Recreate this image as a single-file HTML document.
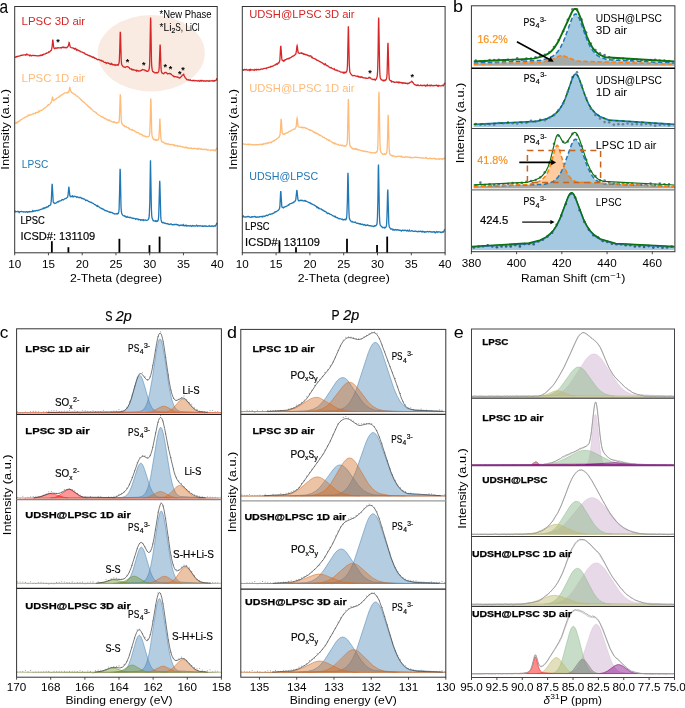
<!DOCTYPE html>
<html><head><meta charset="utf-8"><style>
html,body{margin:0;padding:0;background:#fff;}
svg{display:block;font-family:"Liberation Sans",sans-serif;will-change:transform;}
</style></head><body>
<svg width="685" height="708" viewBox="0 0 685 708">
<rect width="685" height="708" fill="#fff"/>
<ellipse cx="151.2" cy="53.2" rx="53.6" ry="38.2" fill="#f9eae2"/>
<path d="M14.7,57.2 15.2,57.3 15.7,57 16.2,56.5 16.7,56.9 17.2,56.7 17.7,56.3 18.2,56.4 19.7,55.9 20.2,55.9 20.7,55.4 21.2,55.4 21.7,55.2 22.2,55.4 23.7,54.8 24.7,54.9 25.2,54.8 25.7,55.2 26.2,55 26.7,54.1 27.2,54.3 27.7,54.8 28.2,54.8 29.2,55.2 29.7,55.7 30.2,55 30.7,55.2 31.2,55.9 31.7,55.6 32.2,55.6 33.2,55.2 33.7,55.7 34.2,55.7 34.7,55.4 35.7,55.7 36.2,55.6 36.7,55.8 37.7,55.8 38.2,55.7 38.7,55.9 39.2,55.9 40.2,55.3 40.7,55.6 41.2,55.2 41.7,55.4 42.2,54.8 42.7,55.1 43.7,54.2 44.7,54.2 45.2,54 45.7,53.5 46.2,53.2 46.7,53.3 47.2,52.9 48.2,52.7 48.7,51.8 49.2,52 49.7,51.9 50.7,50.6 51.2,50.5 51.7,49.2 52.2,46 52.7,40.1 52.8,39.7 52.9,40.2 53.7,47.2 54,48.2 54.7,48.7 55.2,48.5 55.7,47.9 56.2,47.9 56.7,48.3 57.2,48.2 57.7,47.7 59.7,47.9 60.7,47.6 61.2,47.6 61.7,47.9 62.2,47.1 62.7,47.5 63.2,47.6 63.7,47.2 64.2,47.6 64.7,47.4 65.2,47.7 65.7,47.5 66.7,47.7 67.9,46.6 68.5,45.3 69.1,42.5 69.3,42.7 70.2,46.9 71.2,47.7 72.7,47.8 73.2,48.2 73.7,48.1 74.2,48.7 74.7,49.1 75.2,48.5 75.7,48.5 76.2,49.6 76.7,50.3 77.2,49.7 77.7,49.8 78.2,50.5 78.7,50.4 79.7,51 80.2,51.5 80.7,51.5 81.2,51.9 82.2,52.1 82.7,52.5 83.2,52.6 83.7,53 84.2,53 84.7,53.3 85.2,54.1 85.7,54.1 86.2,54.3 86.7,54.6 87.2,54.7 88.2,55.3 88.7,55.5 89.2,55.4 89.7,56.1 90.2,56 90.7,56.1 91.7,56.7 92.2,57.4 92.7,57 93.2,57.4 93.7,57.1 94.2,57.8 94.7,58.3 95.2,58.2 95.7,58.3 96.7,59.1 97.2,59.3 97.7,59.8 98.2,59.6 98.7,59.5 101.2,60.7 101.7,60.5 102.2,61.3 102.7,61.2 103.2,61.2 103.7,61.9 104.2,62.3 105.7,62.3 106.2,63.4 107.2,62.7 108.2,63.3 108.7,63.1 109.2,63.7 109.7,63.7 110.2,64.3 110.7,64.3 111.2,63.5 111.7,64.2 112.2,64 112.7,64.8 113.2,64.7 113.7,64.8 114.2,64.6 114.7,65.3 115.2,65.5 115.7,64.8 116.2,65.1 116.7,64.9 117.2,65 117.7,64.7 118.2,65.2 119,63.3 119.3,61.2 119.7,50.9 120.2,32.7 120.3,31.8 120.5,33.9 121.2,59.3 121.5,63.3 121.8,64.8 123.2,66.7 124.2,67.1 124.7,67.2 125.2,67.4 125.7,67 126.7,66.7 127.7,66.6 128.2,67.2 128.7,67.2 129.2,67.7 129.7,68.5 130.2,68.9 130.7,68.9 131.2,68.8 131.7,69.6 132.2,69.7 132.7,69.4 133.2,70 133.7,69.8 134.2,69.8 134.7,70.2 135.7,70.5 136.2,70.2 136.7,71.1 137.2,70.6 137.7,70.5 138.2,71 138.7,70.9 139.2,71.1 139.7,70.9 140.7,70.8 141.2,70.3 141.7,70.4 142.2,69.8 142.7,69.5 143.7,69.9 144.2,69.9 144.7,70 145.2,70.7 145.7,70.5 146.7,71.3 147.2,71.1 147.8,71.3 148.7,70.7 149.3,68.3 149.6,64.6 150,48.1 150.5,20.9 150.6,17.5 150.8,20.8 151.5,61.5 151.8,67.2 152.4,70.7 152.7,71.5 153.3,71.8 153.7,71.7 154.2,72.5 154.7,72.8 155.2,72.6 156.2,72.9 156.7,72.6 157.2,72.9 158,72.5 158.6,71.5 158.9,70.4 159.2,67.4 160,46.1 160.1,44.6 160.3,46.4 161,67.9 161.3,71.2 161.8,72.7 162.2,73.2 162.7,73.2 163.2,73.7 163.7,73.8 164.2,73.1 164.7,72.7 165.7,72.5 166.2,72.6 166.7,73.1 167.2,73.3 167.7,73.9 168.2,73.7 169.2,73.7 169.7,73.4 170.2,73.9 170.7,73.7 171.2,74.1 172.2,75.3 172.7,75.5 173.2,76.1 173.7,76 174.2,76.9 174.7,76.7 175.7,76.7 176.7,77.1 177.2,77 177.7,77.2 178.2,77.5 178.7,77.5 179.2,78 179.7,78.1 180.7,77.4 181.2,76.5 181.7,76.2 182.2,75.3 182.7,74.9 183.2,75 183.7,74.4 184.2,75.8 184.7,76.5 185.2,77.9 185.7,78.2 186.7,79.5 187.2,79.8 188.2,79.7 188.7,79.8 189.2,80.3 189.7,80.1 190.2,79.8 190.7,80.5 191.7,80.6 192.2,80.4 192.7,80.7 193.2,80.3 193.7,80.7 194.2,80.5 194.7,80.8 195.2,80.9 195.7,80.5 196.7,80.8 197.2,81.1 197.7,80.9 198.2,80.5 198.7,80.9 199.2,81 199.7,81.3 200.2,80.4 200.7,80.7 201.2,81.1 201.7,80.5 202.2,80.5 202.7,81 203.2,81.1 203.7,80.7 204.2,81 204.7,80.9 205.2,81.2 205.7,80.9 206.2,81.1 206.7,80.7 207.7,80.9 208.2,81.2 208.7,81.1 209.2,80.7 209.7,81.1 210.2,81.1 210.7,80.9 211.7,80.8 212.2,80.5 212.7,81 213.2,81 213.7,80.8 214.2,81.1 214.7,80.6 215.2,80.8 215.7,80.3 216.2,80.2 216.7,78.7 217.2,78.6" fill="none" stroke="#d62728" stroke-width="1.3"/>
<path d="M14.7,123.7 15.7,123 16.2,122.4 16.7,123.1 17.2,122.7 17.7,122 18.2,122 19.2,121 19.7,121 20.2,120.3 21.2,119.5 21.7,119.4 22.2,119 22.7,118.8 23.2,118.2 23.7,118 24.2,117.5 24.7,117.7 25.2,117.3 26.2,116.8 26.7,116.2 27.2,116.4 27.7,116.5 28.2,115.3 28.7,115 29.2,115 29.7,115.3 30.2,115 30.7,115.1 31.7,114.5 32.7,114 33.2,114.1 33.7,113.4 34.7,113.4 35.2,113.6 35.7,112.8 36.2,112.4 36.7,112.4 37.2,112.6 37.7,112.1 38.2,112.2 38.7,111.2 39.2,111.7 39.7,111.4 40.2,110.5 41.2,110.6 41.7,110.1 42.7,110 43.2,109.2 44.2,108.2 44.7,108.2 45.7,107.2 46.7,106.6 47.2,105.8 48.2,104.6 48.7,105.1 49.2,104.5 49.7,104.3 50.7,102.8 51.2,102.5 51.7,100.9 52.3,97.6 52.5,97.2 52.7,97.5 53.2,100.2 53.5,100.4 54.3,100.1 55.2,99.3 55.7,99.3 56.7,98.2 57.2,98 57.7,97.5 58.7,97.3 59.2,96.5 59.7,96.7 60.2,95.9 60.7,95.7 61.2,95.1 62.2,94.7 64.7,92.9 65.7,92.9 66.2,92.9 66.7,92.7 67.2,92.9 68.2,91.8 68.7,91.9 69.8,87.6 70,87.8 70.7,91.3 71,91.6 71.2,91.6 71.8,92.6 72.7,92.8 73.2,93.7 74.7,94.1 75.7,95 76.2,95.6 76.7,96.1 77.2,96.1 78.2,97 78.7,97.2 80.7,99.7 81.2,99.7 81.7,100.4 82.2,100.7 82.7,101.7 83.2,101.7 83.7,102.2 84.2,102.3 84.7,102.8 85.2,103.5 85.7,103.8 86.2,104.4 86.7,104.5 87.2,105.4 87.7,105.6 88.2,106.6 88.7,106.6 89.2,107.3 89.7,107.2 90.2,108.1 90.7,108.2 91.7,109.3 92.2,109.7 93.2,110.9 93.7,111.3 94.7,111.6 95.7,112.6 96.2,112.6 96.7,113.6 97.2,113.8 97.7,114.2 98.2,114.8 99.2,115.3 99.7,115.3 100.2,115.9 100.7,116.3 101.2,116.3 101.7,117 102.2,117.1 102.7,116.8 103.2,117.5 103.7,117.6 104.2,118.4 104.7,118.6 105.2,118.3 105.7,118.6 106.2,119.1 106.7,119.3 107.2,120 108.2,120 108.7,120.4 109.2,120 109.7,120.7 110.2,121.1 110.7,121 111.2,121.1 112.2,122.1 113.2,121.7 113.7,122.4 114.2,121.8 114.7,122.4 115.2,122.4 115.7,122.8 116.2,122.5 116.7,123.1 118.2,122.2 118.7,122.2 119,121.8 119.3,120 119.7,110.8 120.2,95.2 120.3,94.4 120.5,96.2 121.2,118.7 121.5,122.1 122,123.8 122.7,124.5 123.2,125.5 123.7,125.8 124.2,125.6 124.7,126.7 126.2,126.4 126.7,127.3 127.2,127.6 128.2,127.5 128.7,128.5 129.2,128.4 129.7,128.7 130.2,129.8 130.7,129.9 131.7,129.7 132.2,130.1 132.7,129.7 133.2,130.5 134.2,130.7 134.7,130.9 135.2,131.7 136.2,132.1 136.7,132.5 137.2,132.4 138.2,132.6 139.2,133.8 139.7,133.8 140.2,134.2 140.7,134 141.2,134.4 142.2,134.8 142.7,135.8 143.2,135.8 143.7,135.6 144.2,135.8 144.7,136.2 145.2,136.1 145.7,136.7 146.2,136.5 146.7,136.8 147.2,136.8 147.8,136.9 149,136.3 149.3,135.7 149.8,132.6 150.2,120.5 150.7,99.5 150.8,98.5 151,101 151.7,131 152,135.4 152.8,138.3 153.2,138.6 153.7,139.6 154.2,139.6 154.7,139.4 155.2,140.2 155.7,140.3 156.2,139.6 156.7,140.2 157.2,140.3 157.7,139.9 158.3,139.9 158.6,139.4 158.9,138 159.3,131.2 159.8,119.7 159.9,118.5 160.8,137.2 161.3,140.8 162.2,142 163.2,142 164.2,143.1 164.7,143.5 165.2,143.4 165.7,143.5 166.2,143.3 166.7,144.1 167.2,144.1 167.7,143.8 168.2,144 168.7,143.9 169.2,144.6 170.2,144.4 171.2,144.8 172.2,144.5 173.2,144.6 174.2,145.8 174.7,145 175.2,145.5 175.7,145.7 176.2,145.5 176.7,145.8 177.2,145.6 177.7,146.3 178.2,146 179.2,146.4 180.2,146 181.2,146.8 181.7,146.8 182.2,146.9 182.7,146.7 183.7,147.3 184.2,147.3 184.7,147.8 185.2,147.3 185.7,147.2 186.2,147.1 186.7,147.9 187.2,147.7 187.7,148 188.2,148 188.7,148.4 189.2,148.3 189.7,148 190.7,148.4 191.2,147.9 191.7,148.6 192.7,148.6 193.2,148.4 193.7,148.5 194.2,148.2 194.7,148.5 195.2,148.4 195.7,148.6 196.2,148.6 197.2,149.1 197.7,148.5 198.2,149 198.7,148.4 199.2,148.4 199.7,148.9 200.7,149.2 201.2,148.7 201.7,149.1 202.2,149.3 202.7,149.6 203.2,149.3 203.7,149.5 204.2,149.2 204.7,149.4 205.2,149.4 205.7,149.7 206.2,149.3 206.7,149.4 207.7,150.2 208.2,149.9 209.2,149.8 209.7,150.2 210.2,150.2 210.7,150.5 211.7,149.9 212.2,150 213.2,149.9 213.7,150.6 214.2,150.5 214.7,150.1 215.2,150.8 216.2,148.9 216.7,148.6 217.2,147.9" fill="none" stroke="#ffbb78" stroke-width="1.3"/>
<path d="M14.7,212.3 15.2,211.2 15.7,211.8 16.2,211.6 17.2,211.7 17.7,211.3 18.2,211.7 18.7,211.6 19.2,212.6 19.7,211.9 20.2,211.7 21.7,211.5 22.7,211.9 23.2,211.8 23.7,212 24.2,211.8 24.7,211.8 25.2,212.2 26.2,211.7 26.7,211.7 27.7,212.3 28.2,211.7 28.7,211.7 29.2,211.9 29.7,211.5 30.2,211.6 30.7,211.9 31.7,211.6 32.2,211.6 32.7,210.7 33.2,211.5 33.7,211 34.2,210.7 34.7,211.1 35.2,211.1 36.2,210.4 36.7,210.6 37.2,210.5 37.7,210.7 38.7,210.2 39.2,210.2 40.2,209.4 40.7,209.6 41.2,209.5 42.2,208.8 42.7,208.8 43.2,208 43.7,208.6 44.2,208.4 44.7,207.7 45.2,207.9 45.7,207.5 46.2,207.6 46.7,206.8 47.2,206.8 47.7,207 48.2,206.8 48.7,205.7 49.7,205.7 50.2,205 50.7,204.7 51.3,200.7 52,185.2 52.2,183.9 52.3,185.2 53.2,201.4 53.5,202.6 53.8,202.8 54.2,202.8 54.7,203.5 55.7,203.1 56.2,203 57.2,202.1 58.2,201.6 58.7,201.9 59.2,201 61.2,200.6 61.7,199.9 62.2,199.5 63.2,199.9 64.7,198.8 65.2,198.7 65.7,198.4 66.2,198.4 66.8,197.7 67.3,197.5 67.7,196.8 68,195.5 68.8,187.3 68.9,186.7 69.8,195.4 70.3,196.6 70.7,196.1 71.3,196.5 71.8,196.5 72.2,196.7 72.7,196 73.2,196.8 73.7,196.8 74.2,196.2 75.2,196.3 76.2,196.9 76.7,197.3 77.2,196.8 77.7,197.1 78.2,197.1 78.7,197.6 79.2,197.5 79.7,197.8 80.2,197.3 80.7,197.7 81.2,197.8 81.7,198.5 82.7,198.5 83.2,198.6 83.7,199.1 84.2,199 84.7,199.2 85.7,200.5 86.2,200.1 87.2,200.3 87.7,200.5 88.2,201.2 88.7,201.6 89.2,201.6 90.7,202.4 91.2,202.3 92.2,203.2 92.7,203.2 93.7,203.8 94.7,204.7 95.2,204.7 95.7,205.1 96.2,205.6 96.7,205.9 97.2,206.3 97.7,205.7 98.2,206.6 98.7,206.6 100.2,207.9 100.7,208.1 101.2,208.2 101.7,208.8 102.2,208.6 102.7,208.9 103.2,209.3 103.7,209.3 104.2,210.2 104.7,210.2 105.2,210.7 105.7,210.4 106.2,210.5 107.2,211.2 107.7,211.1 108.2,211.5 108.7,211.7 109.2,212.2 109.7,211.9 110.2,212.5 110.7,212.2 111.2,212.3 111.7,212.5 112.2,212.6 113.2,213.5 113.7,213.5 114.7,214.1 115.2,213.9 116.2,213.9 116.7,213.6 117.2,214.1 117.7,213.4 118.2,213.5 118.8,211.9 119.1,208.9 119.5,194.7 120,171.5 120.1,168.7 120.3,171.5 121,206 121.3,211.2 121.8,213.8 123,215.5 123.7,215.8 124.2,216.1 124.7,215.8 125.2,216.5 125.7,216.4 126.2,217.1 126.7,217.3 127.2,216.6 127.7,217.2 128.2,217.3 128.7,217.2 129.2,217.6 130.2,217.3 130.7,217.7 131.7,218.1 132.2,217.9 132.7,218.4 133.2,218.5 133.7,218.2 134.7,218.6 135.2,218.6 135.7,219.3 136.7,218.7 137.2,218.9 137.7,219.2 138.2,219.8 138.7,219.3 139.7,219.6 140.2,219.6 140.7,220.2 141.2,219.7 141.7,220 142.2,219.9 142.7,220.1 143.2,219.7 143.7,220.5 144.2,220.1 144.7,220.1 145.2,219.9 145.7,220 146.2,220.3 146.7,220.4 147.8,220 148.6,218.9 149,217.6 149.3,215.2 149.8,202.3 150.4,163.7 150.5,160.2 151.4,208.7 151.7,215.2 152,217.8 153.2,220.7 153.7,220.6 154.7,221 155.2,221.4 155.7,220.8 156.2,221.3 156.7,221.5 157.2,220.9 157.7,221.1 158.2,220 158.5,218.2 158.8,213.6 159.6,183.2 159.7,180.7 159.9,183.3 160.8,217.4 161.1,219.9 161.7,222.2 162.3,222.4 162.7,222.9 163.2,222.9 163.7,222.5 164.2,223.1 164.7,223.4 165.2,223.2 165.7,223.3 166.2,223.8 167.2,223.4 168.2,224.2 168.7,224 169.2,224.4 169.7,224.6 170.7,224 171.2,224 172.2,224.7 172.7,224.6 173.2,224.7 173.7,224.5 174.2,224.7 174.7,224.5 175.2,224.6 175.7,224.4 176.2,224.3 176.7,224.7 177.2,224.6 177.7,224.7 178.2,225.1 178.7,225.1 179.2,225.8 180.2,225 180.7,225.4 181.2,225.3 181.7,225.1 182.2,225.6 183.2,224.6 183.7,225.6 184.2,225.4 184.7,225.9 185.2,225.4 185.7,225.3 186.2,226 186.7,225.4 187.7,226.1 188.2,225.8 188.7,225.7 189.7,226 190.2,225.6 190.7,226 191.2,226 191.7,226.4 192.2,225.8 192.7,225.6 193.2,226 193.7,225.8 194.2,225.9 194.7,226 195.2,226.2 195.7,225.8 196.2,225.8 196.7,225.2 197.2,225.7 197.7,226.3 198.2,225.8 199.2,225.6 199.7,226.1 200.2,226 200.7,225.7 201.2,226.1 201.7,226.1 202.2,226.2 202.7,225.9 203.2,226.4 204.2,226 204.7,225.9 205.2,226 205.7,226.2 206.2,226 206.7,226.3 207.2,226.3 207.7,226.4 208.2,226.3 208.7,226 209.2,225.6 209.7,226.1 210.2,226.3 210.7,226.2 211.2,226.3 211.7,226 212.7,225.9 213.2,226.5 214.7,225.8 215.2,226.1 215.7,225.7 216.7,223.4 217.2,223.1" fill="none" stroke="#1f77b4" stroke-width="1.3"/>
<path d="M242.3,69.6 242.8,69.7 243.3,70.2 243.8,69.9 244.3,69.4 244.8,69.7 245.3,69.6 245.8,69.8 246.3,69.4 246.8,69.9 247.3,69.9 247.8,70.3 248.3,70 248.8,70 249.3,69.6 249.8,70.4 250.3,69.5 250.8,70.2 251.3,69.9 251.8,69.7 252.8,69.8 253.3,70 253.8,69.9 254.3,70.3 254.8,69.5 255.3,69.8 255.8,69.6 256.3,70 256.8,69.3 257.3,69.6 257.8,69.7 258.3,69.3 258.8,69.8 259.3,69.6 259.8,69.7 260.3,69.6 260.8,69.1 261.3,69 262.3,69.2 262.8,69.2 263.3,68.7 264.8,68.3 265.8,68.3 266.3,68.6 266.8,67.9 267.3,67.8 267.8,67.8 268.3,67.3 269.8,67.2 270.3,66.6 270.8,67 271.3,66.4 272.3,66.3 273.3,65.9 273.8,65.5 274.8,65 275.3,64.5 275.8,64.8 276.3,64 276.8,63.7 277.3,64.2 278.3,62.8 278.8,63 279.6,61.3 279.9,59.4 280.6,46.8 280.8,45.8 280.9,46.6 281.8,58.9 282.1,60 283.8,61.2 284.3,60.2 284.8,60.4 285.3,59.9 285.8,59.7 286.3,59.2 286.8,59 287.3,58.9 287.8,58.6 288.3,58.7 288.8,58.3 289.3,58.5 289.8,58 290.3,57.7 290.8,57.7 291.8,56.8 292.8,56.1 293.3,56.1 294.8,55 295.3,54.3 295.8,54 296.5,50.4 296.9,46.4 297.1,45.7 297.3,46.4 298,52 298.3,52.9 299.3,53.2 299.8,53.5 300.8,53 301.3,53.3 301.8,52.9 302.3,53.7 302.8,53.4 303.3,53.6 303.8,54.3 304.3,54.4 304.8,54.1 306.3,55 306.8,54.7 307.3,55 307.8,55.5 308.3,55.5 308.8,55.8 309.3,56 309.8,55.8 310.3,56.1 310.8,55.9 311.8,57.5 312.3,57.2 312.8,58 313.3,58.3 313.8,58.3 314.8,58.8 315.3,58.9 316.8,60.1 317.3,60.4 317.8,60.3 318.3,60.9 318.8,60.9 319.8,61.7 320.8,62.1 321.3,62.5 321.8,62.6 322.3,62.8 323.3,63.8 323.8,63.9 324.3,64.6 324.8,64.4 325.3,63.9 326.3,65.6 326.8,65.5 327.8,65.8 328.3,66.6 329.8,67.3 330.3,67.8 330.8,67.9 331.3,67.6 331.8,68.3 332.8,68.7 333.3,69.1 333.8,69.1 334.3,68.7 334.8,70 335.3,70.1 335.8,70 336.3,70.2 336.8,70.5 337.3,70.3 337.8,70.9 339.3,71.1 339.8,71.4 340.3,72 340.8,72.2 342.3,72.1 342.8,72.6 343.3,73 343.8,72.3 344.3,73 344.8,72.3 345.8,72.7 346.9,70.9 347.2,69.3 347.5,64.2 348.3,27.5 348.4,26.3 348.5,29.3 349.3,64.5 349.8,72 351.3,74.6 351.8,74.9 352.3,75.5 352.8,75.8 353.3,75.6 354.3,75.4 355.3,75.9 357.3,76.5 357.8,76.1 358.3,76.3 358.8,77 359.3,77 359.8,76.8 360.3,77.3 360.8,76.9 361.3,77 361.8,76.8 362.3,77.5 362.8,77.5 363.3,77.8 364.3,77.8 364.8,77.9 365.3,78.2 365.8,78 367.3,78.3 368.3,78.2 368.8,77.5 369.3,77.7 369.8,77.3 370.3,77.9 370.8,78.2 371.3,79 372.3,79.1 372.8,79.5 373.3,79.5 374.8,79.3 375.3,80.1 375.8,79.3 376.3,79.1 377,77.1 377.3,75.5 377.6,71.4 378.1,52.2 378.5,21.2 378.7,17.6 378.8,21.3 379.6,67.4 379.9,74.6 380.3,78.1 381.3,79.7 381.8,79.6 382.3,80.2 382.8,80.4 383.3,80.8 383.8,80.3 384.8,80.7 385.3,80 385.8,80 386.5,78.8 386.8,77.2 387.1,73.2 387.8,44.9 388,42.7 388.1,45.2 388.9,73.8 389.3,79.1 389.6,80 390.8,81.1 391.3,80.9 391.8,82 392.3,81.6 392.8,81.5 393.3,81.8 393.8,82.2 394.3,82.4 394.8,82.1 395.3,82.3 396.3,82 396.8,82.3 397.3,82.3 397.8,82 398.3,82.7 398.8,82.1 399.3,82.6 399.8,82.3 400.8,82.5 401.3,82.9 401.8,82.5 402.3,82.8 402.8,83.3 403.3,82.8 404.3,83.2 404.8,83 405.3,83.3 405.8,83.1 406.3,83.5 407.3,83.2 407.8,83.8 408.3,83.4 408.8,83.3 409.3,82.9 410.8,82 411.3,81.9 411.8,81.3 412.3,81.8 412.8,82.6 413.3,83 414.3,84.5 414.8,84.6 415.3,84.8 415.8,84.9 416.3,85.5 416.8,85.4 417.3,85 417.8,85.3 418.3,85 418.8,85.6 419.3,85.6 420.3,85.3 420.8,85 421.3,85.6 421.8,85.5 422.3,85.5 422.8,85.7 423.3,85.4 424.8,85.3 425.3,86.2 425.8,85.6 426.3,85.5 426.8,85.8 427.3,84.8 427.8,85.6 428.3,85.6 428.8,85.4 429.3,85.7 429.8,85.2 430.3,85.7 430.8,85.9 431.3,85.1 431.8,85.3 432.3,85.6 432.8,85.7 433.3,85.5 433.8,85.8 434.3,85.7 434.8,85.4 435.3,85.6 436.3,85.1 436.8,85.1 437.3,85.9 437.8,85.8 438.3,86.2 438.8,85.4 439.8,85.8 440.3,85.8 440.8,85.9 441.3,85.8 441.8,85.6 442.3,85.2 443.3,85.9 443.8,84.9 444.3,84.1 444.8,82.7" fill="none" stroke="#d62728" stroke-width="1.3"/>
<path d="M242.3,143.8 242.8,143.7 244.3,144.4 245.3,144.1 245.8,144.1 246.3,144.5 246.8,144.8 247.8,144.1 248.3,144.2 248.8,144.9 249.8,144.1 250.3,144.5 250.8,144.4 251.8,144.6 252.3,144.6 252.8,144.9 253.8,144.7 254.3,145 254.8,145.1 255.3,144.5 255.8,144.8 256.3,144.6 256.8,144.8 257.3,144.5 257.8,144.8 258.8,144.7 259.3,144.4 259.8,144.5 260.8,144.2 261.3,144.5 261.8,144.2 262.3,144.7 262.8,144.5 263.3,143.7 263.8,144.1 264.3,143.8 264.8,143.9 265.3,143.8 265.8,143.2 266.3,143.5 266.8,143.4 267.3,143.5 267.8,142.9 268.3,143.2 268.8,142.6 269.3,142.6 269.8,142.3 270.3,142.7 270.8,142.4 271.3,142.6 271.8,141.9 272.8,141.5 273.3,140.8 273.8,140.7 274.3,140.8 274.8,140.1 275.3,139.9 275.8,139.5 276.3,139.4 276.8,138.8 277.8,138.2 278.8,137.1 279.3,137 280,134.9 280.4,130.9 281,119.9 281.2,119 281.3,120 282.1,131.8 282.4,133.5 283.3,134.5 284.3,133.8 284.8,134.1 285.3,133.4 286.3,133.2 286.8,132.9 287.3,132.7 287.8,132.8 288.3,132.1 289.3,131.2 289.8,131.3 290.8,130.9 292.3,129.9 293.3,129.5 293.8,129.2 294.8,129.2 296,127 296.3,125.6 296.9,118.8 297.1,118.1 297.3,118.9 298,125.9 298.3,126.8 299.9,127.1 300.8,127.6 301.3,127.3 301.8,127.5 302.3,127.9 302.8,127.2 303.3,127.6 304.3,127.4 304.8,127.6 305.8,128.2 306.3,128.1 307.3,128.8 307.8,128.9 308.3,129.3 309.3,129.6 309.8,130.2 310.3,130.1 310.8,130.2 311.3,130.6 311.8,130.4 312.8,131.4 313.3,131.7 313.8,132.2 314.8,132 315.3,133.1 315.8,133.2 316.3,133 316.8,133.8 317.3,133.8 317.8,133.6 318.3,134.2 318.8,134.5 319.3,135.3 319.8,135 321.3,135.9 321.8,136.1 322.8,137.2 323.3,137.4 323.8,137.2 324.3,137.5 324.8,138.1 325.3,138.2 325.8,138.4 326.3,138.5 326.8,139.7 327.3,139.7 327.8,139.5 328.3,140.3 328.8,140.6 329.3,140 329.8,140.7 330.8,141.5 331.3,141.6 332.3,142.2 332.8,142.9 333.3,143.2 333.8,142.8 334.3,142.9 334.8,144 335.3,143.3 337.3,144.6 337.8,144.6 338.3,144.4 338.8,144.9 339.3,145 339.8,145.5 340.8,145 341.3,145.2 341.8,145.9 342.8,145.2 343.3,145.7 344.3,146.3 344.8,145.8 345.4,146.2 345.8,146 346.9,144.5 347.2,142.8 347.5,137.6 348.3,100.4 348.4,99.1 348.5,102 349.3,137.9 349.6,143.2 350,145.7 351.3,147.5 351.8,147.9 352.3,148.8 352.8,148.4 353.3,148.9 353.8,149 354.3,148.8 354.8,149.2 355.3,148.6 355.8,149.2 356.3,149.5 356.8,148.9 357.3,149.3 357.8,150 358.8,149.7 359.3,150 359.8,150.1 360.3,150.5 360.8,150.6 361.8,150.5 362.3,150.8 362.8,151.2 363.3,151.1 363.8,151.3 364.8,151 365.3,151.2 365.8,151.7 366.3,151.6 367.3,151.4 367.8,151.9 369.3,152.1 369.8,152.3 370.3,152.4 370.8,152.7 371.8,152.9 372.3,152.8 372.8,152.6 373.8,152.9 374.3,152.7 374.8,152.9 375.3,153 376.3,152 376.8,152.2 377.3,150.9 377.6,149.3 377.9,145 378.8,95.4 379,91.7 379.1,95.3 379.9,141 380.3,149.6 380.8,151.9 381.8,153.3 382.3,153.5 382.8,154.3 383.3,154.2 384.3,154.3 384.8,153.8 385.3,154.4 386.4,153.6 386.8,152.3 387.1,149.5 387.6,137.3 388,117.3 388.2,114.8 388.3,117.1 389.1,147 389.5,152.8 390.1,154.7 390.3,154.9 391.3,155.1 391.8,155.9 392.3,155.6 392.8,156.2 393.8,155.9 394.3,156 394.8,156.4 395.3,156.6 395.8,156.4 396.8,157 397.3,156.5 397.8,156.2 398.8,156.2 399.3,156.4 400.3,156.4 400.8,156.8 401.3,156.1 401.8,156.4 402.3,157.3 403.3,157.1 403.8,157.1 404.3,157.4 405.8,156.7 406.3,157 406.8,156.9 407.8,157 408.3,157.2 408.8,157.2 409.3,157.4 409.8,157 410.3,157.3 410.8,157.8 411.3,157.4 411.8,157.7 412.8,157.8 413.3,157.7 413.8,157.2 414.3,157.4 414.8,157.4 415.3,157.2 415.8,157.4 416.8,157.2 417.3,157.7 417.8,157.7 418.8,157.5 420.8,157.9 421.3,157.8 421.8,158.1 422.8,158.1 423.3,157.9 423.8,157.9 424.3,158.2 425.3,158.1 425.8,157.5 426.3,157.5 426.8,158.3 427.3,158.4 427.8,158.7 429.3,158.4 429.8,158.1 430.3,158.6 430.8,158.3 431.3,158.6 432.3,158.6 432.8,158.8 433.3,158.5 434.3,158.4 434.8,158.6 435.3,159.1 435.8,158.7 436.3,159.1 437.8,159.1 438.3,158.6 439.3,159.3 439.8,158.8 440.3,158.9 440.8,158.8 441.3,159.1 441.8,158.8 442.3,159.5 443.3,158.6 443.8,158.9 444.8,157.7" fill="none" stroke="#ffbb78" stroke-width="1.3"/>
<path d="M242.3,217 242.8,217.1 243.3,216 243.8,216.6 244.3,217 244.8,217.1 245.3,216.9 245.8,217.1 246.3,216.8 246.8,216.9 247.3,216.8 247.8,216.5 248.3,216.5 248.8,216.8 249.3,216.7 249.8,217.2 250.8,217.3 251.3,216.9 251.8,217.2 252.3,216.7 252.8,216.7 253.3,216.9 253.8,216.9 254.3,216.5 254.8,216.5 255.3,217 255.8,216.7 256.3,217.2 257.8,217 258.3,217.1 258.8,216.9 259.3,217.1 259.8,216.7 260.3,216.6 260.8,216.5 261.3,216.8 262.3,216.3 262.8,216.9 263.3,216.3 263.8,216.2 264.3,216.2 264.8,216.5 265.3,215.9 265.8,215.9 266.3,215.6 266.8,215.1 267.3,215.5 267.8,215.5 268.3,215 268.8,214.8 269.3,214.3 269.8,214.1 270.8,214.3 271.3,213.8 272.3,213.8 272.8,213.3 273.8,213.2 274.3,212.3 274.8,212.5 275.3,211.7 275.8,211.9 276.3,211.7 277.3,210.8 277.8,210.7 278.8,209.8 279.6,208.2 279.9,206.1 280.6,192.2 280.8,191.1 280.9,192.1 281.8,206.5 282,207 282.1,207.2 282.3,207.2 283.3,207.9 283.8,207.3 284.3,206.9 284.8,207 285.3,206.7 285.8,206.6 286.3,206 287.3,205.8 287.8,205.6 288.3,204.8 288.8,205.1 289.3,204.3 289.8,203.8 290.3,203.7 290.8,203.7 291.3,203.4 291.8,203.3 293.3,202.5 293.8,202.6 294.3,201.4 295.3,201 295.8,199.6 296.8,190.3 296.9,190 297,190.6 297.9,199.1 298.4,200.5 298.8,200.8 299.3,200.8 299.8,200.4 300.3,200.5 300.8,200.2 301.3,200.5 301.8,200.3 302.3,200.6 302.8,200.5 303.3,200.9 304.3,201 304.8,200.4 305.3,200.5 305.8,201.2 306.3,201.1 306.8,201.5 307.8,201.9 308.3,202.3 309.3,202.6 309.8,202.5 310.3,203.4 310.8,203.3 311.3,203.8 311.8,203.9 312.3,204.4 312.8,204.4 313.8,205 314.3,205.1 315.8,206.1 316.3,206.3 316.8,207.4 317.3,206.9 317.8,207.4 318.3,208.3 318.8,207.9 319.3,208.5 319.8,208.8 320.8,208.8 321.3,209.1 321.8,209.8 322.3,210.1 322.8,209.8 323.3,210.6 323.8,210.7 324.3,211.4 325.3,211.4 326.3,212.2 327.3,213.5 327.8,213.1 328.3,213.2 328.8,213.6 329.3,213.7 329.8,214.1 330.8,214.4 331.3,214.5 332.3,215.4 332.8,215.5 333.3,216.1 334.3,216.2 334.8,216.8 335.3,216.4 335.8,217.2 336.3,217.6 336.8,217.4 337.3,217.6 337.8,218.1 338.3,218.5 338.8,218.4 339.3,218.6 339.8,218.9 340.3,218.9 340.8,218.8 341.3,219.2 341.8,219.3 342.3,219.1 342.8,219.7 343.3,219.6 343.8,220 344.3,219.5 344.8,219.5 345.3,219.3 345.8,219.8 346.3,219 346.6,217.8 346.9,214.5 347.4,199.7 347.8,175.5 348,172.7 348.1,175.6 348.9,211 349.3,218.1 350.1,220.2 350.8,220.9 351.3,221.8 351.8,221.7 352.3,221.5 352.8,222.2 353.3,222.2 353.8,222.1 354.3,222.4 354.8,222.4 355.3,222.1 355.8,222.5 356.3,223.1 357.3,223.3 357.8,223.1 359.3,223.9 359.8,223.6 360.3,223.6 360.8,224.3 362.3,224.1 362.8,224.3 363.3,225 363.8,224.9 364.3,224.6 364.8,224.5 365.3,225.4 365.8,225.5 366.8,225.4 367.3,224.8 367.8,225 368.3,225.6 368.8,225.5 369.3,225.7 369.8,225.6 370.3,225.6 370.8,226 371.3,225.9 372.8,226.2 373.3,226.5 373.8,226.5 374.3,225.8 374.8,226 375.3,225.8 375.8,225.9 376.8,224.4 377.1,222.8 377.4,218.5 377.9,199.4 378.3,168.3 378.5,164.6 378.6,168.4 379.4,214.2 379.8,223 380.3,225.3 381.8,226.9 382.3,227.1 382.8,227.7 383.3,227.5 383.8,227.6 384.3,227.4 384.8,228 385.8,227.3 386.3,226.4 386.6,224.4 387,216.1 387.6,191.8 387.8,189.5 387.9,192 388.8,223.5 389.3,227.1 390.8,229.1 391.3,229.1 391.8,228.8 392.3,229.2 392.8,229.9 393.3,229.4 393.8,230 394.3,230.2 394.8,229.7 395.3,229.9 395.8,229.6 396.3,230.1 396.8,229.8 397.3,229.7 397.8,230 398.8,230 399.3,230.3 400.3,230.1 401.3,231 401.8,230.5 402.3,230.2 402.8,230.2 403.3,230.6 403.8,230.5 404.3,230.5 404.8,230.1 405.8,230.4 406.3,230.9 406.8,230.7 407.3,230.2 407.8,230.9 408.3,231.2 408.8,231.2 409.3,230.2 409.8,231 410.3,231.2 410.8,231.2 411.8,230.6 412.3,231 412.8,231.1 413.3,231.3 413.8,231.4 414.3,231.2 414.8,231.5 415.3,231 416.8,231.5 417.3,231.4 417.8,231.8 418.3,231.6 418.8,231.3 419.3,231.5 419.8,231.3 420.8,231.2 421.3,231.9 421.8,231.8 422.3,231.3 422.8,231.9 423.3,231.9 423.8,231.6 424.3,231.9 424.8,232.3 425.3,231.8 425.8,231.9 426.3,232 426.8,231.5 427.8,231.4 428.8,232 429.3,231.6 429.8,231.5 430.3,231.9 430.8,231.8 431.3,232 431.8,231.9 433.3,232 433.8,231.7 434.3,231.7 434.8,232.5 435.3,232.9 436.3,231.7 437.3,232.4 437.8,231.7 438.3,231.9 438.8,232 439.3,231.9 439.8,231.9 440.3,232.4 440.8,232.1 441.3,232.2 441.8,232.6 442.3,232 442.8,231.7 443.3,232.1 443.8,231.6 444.3,230.3 444.8,229.4" fill="none" stroke="#1f77b4" stroke-width="1.3"/>
<line x1="51.85" y1="252.80" x2="51.85" y2="241.20" stroke="#000" stroke-width="1.8"/>
<line x1="68.40" y1="252.80" x2="68.40" y2="247.20" stroke="#000" stroke-width="1.8"/>
<line x1="119.40" y1="252.80" x2="119.40" y2="238.80" stroke="#000" stroke-width="1.8"/>
<line x1="149.46" y1="252.80" x2="149.46" y2="245.10" stroke="#000" stroke-width="1.8"/>
<line x1="159.59" y1="252.80" x2="159.59" y2="236.60" stroke="#000" stroke-width="1.8"/>
<line x1="279.45" y1="252.80" x2="279.45" y2="241.20" stroke="#000" stroke-width="1.8"/>
<line x1="296.00" y1="252.80" x2="296.00" y2="247.20" stroke="#000" stroke-width="1.8"/>
<line x1="347.00" y1="252.80" x2="347.00" y2="238.80" stroke="#000" stroke-width="1.8"/>
<line x1="377.06" y1="252.80" x2="377.06" y2="245.10" stroke="#000" stroke-width="1.8"/>
<line x1="387.19" y1="252.80" x2="387.19" y2="236.60" stroke="#000" stroke-width="1.8"/>
<rect x="14.70" y="6.50" width="202.50" height="246.30" fill="none" stroke="#333" stroke-width="1.0"/>
<line x1="14.70" y1="252.80" x2="14.70" y2="255.30" stroke="#333" stroke-width="0.9"/>
<text x="14.70" y="267.60" font-size="10.2" text-anchor="middle" textLength="12.98" lengthAdjust="spacingAndGlyphs">10</text>
<line x1="48.45" y1="252.80" x2="48.45" y2="255.30" stroke="#333" stroke-width="0.9"/>
<text x="48.45" y="267.60" font-size="10.2" text-anchor="middle" textLength="12.98" lengthAdjust="spacingAndGlyphs">15</text>
<line x1="82.20" y1="252.80" x2="82.20" y2="255.30" stroke="#333" stroke-width="0.9"/>
<text x="82.20" y="267.60" font-size="10.2" text-anchor="middle" textLength="12.98" lengthAdjust="spacingAndGlyphs">20</text>
<line x1="115.95" y1="252.80" x2="115.95" y2="255.30" stroke="#333" stroke-width="0.9"/>
<text x="115.95" y="267.60" font-size="10.2" text-anchor="middle" textLength="12.98" lengthAdjust="spacingAndGlyphs">25</text>
<line x1="149.70" y1="252.80" x2="149.70" y2="255.30" stroke="#333" stroke-width="0.9"/>
<text x="149.70" y="267.60" font-size="10.2" text-anchor="middle" textLength="12.98" lengthAdjust="spacingAndGlyphs">30</text>
<line x1="183.45" y1="252.80" x2="183.45" y2="255.30" stroke="#333" stroke-width="0.9"/>
<text x="183.45" y="267.60" font-size="10.2" text-anchor="middle" textLength="12.98" lengthAdjust="spacingAndGlyphs">35</text>
<line x1="217.20" y1="252.80" x2="217.20" y2="255.30" stroke="#333" stroke-width="0.9"/>
<text x="217.20" y="267.60" font-size="10.2" text-anchor="middle" textLength="12.98" lengthAdjust="spacingAndGlyphs">40</text>
<text x="115.95" y="281.60" font-size="11.0" text-anchor="middle" textLength="92.10" lengthAdjust="spacingAndGlyphs">2-Theta (degree)</text>
<text x="9.50" y="129.30" font-size="11.0" text-anchor="middle" textLength="80.67" lengthAdjust="spacingAndGlyphs" transform="rotate(-90 9.50 129.30)">Intensity (a.u.)</text>
<rect x="242.30" y="6.50" width="202.80" height="246.30" fill="none" stroke="#333" stroke-width="1.0"/>
<line x1="242.30" y1="252.80" x2="242.30" y2="255.30" stroke="#333" stroke-width="0.9"/>
<text x="242.30" y="267.60" font-size="10.2" text-anchor="middle" textLength="12.98" lengthAdjust="spacingAndGlyphs">10</text>
<line x1="276.10" y1="252.80" x2="276.10" y2="255.30" stroke="#333" stroke-width="0.9"/>
<text x="276.10" y="267.60" font-size="10.2" text-anchor="middle" textLength="12.98" lengthAdjust="spacingAndGlyphs">15</text>
<line x1="309.90" y1="252.80" x2="309.90" y2="255.30" stroke="#333" stroke-width="0.9"/>
<text x="309.90" y="267.60" font-size="10.2" text-anchor="middle" textLength="12.98" lengthAdjust="spacingAndGlyphs">20</text>
<line x1="343.70" y1="252.80" x2="343.70" y2="255.30" stroke="#333" stroke-width="0.9"/>
<text x="343.70" y="267.60" font-size="10.2" text-anchor="middle" textLength="12.98" lengthAdjust="spacingAndGlyphs">25</text>
<line x1="377.50" y1="252.80" x2="377.50" y2="255.30" stroke="#333" stroke-width="0.9"/>
<text x="377.50" y="267.60" font-size="10.2" text-anchor="middle" textLength="12.98" lengthAdjust="spacingAndGlyphs">30</text>
<line x1="411.30" y1="252.80" x2="411.30" y2="255.30" stroke="#333" stroke-width="0.9"/>
<text x="411.30" y="267.60" font-size="10.2" text-anchor="middle" textLength="12.98" lengthAdjust="spacingAndGlyphs">35</text>
<line x1="445.10" y1="252.80" x2="445.10" y2="255.30" stroke="#333" stroke-width="0.9"/>
<text x="445.10" y="267.60" font-size="10.2" text-anchor="middle" textLength="12.98" lengthAdjust="spacingAndGlyphs">40</text>
<text x="343.70" y="281.60" font-size="11.0" text-anchor="middle" textLength="92.10" lengthAdjust="spacingAndGlyphs">2-Theta (degree)</text>
<text x="237.10" y="129.30" font-size="11.0" text-anchor="middle" textLength="80.67" lengthAdjust="spacingAndGlyphs" transform="rotate(-90 237.10 129.30)">Intensity (a.u.)</text>
<text x="57.90" y="45.30" font-size="9" text-anchor="middle" font-weight="bold">*</text>
<text x="127.60" y="65.40" font-size="9" text-anchor="middle" font-weight="bold">*</text>
<text x="143.70" y="68.10" font-size="9" text-anchor="middle" font-weight="bold">*</text>
<text x="165.20" y="69.80" font-size="9" text-anchor="middle" font-weight="bold">*</text>
<text x="170.40" y="72.20" font-size="9" text-anchor="middle" font-weight="bold">*</text>
<text x="179.70" y="76.50" font-size="9" text-anchor="middle" font-weight="bold">*</text>
<text x="183.00" y="73.20" font-size="9" text-anchor="middle" font-weight="bold">*</text>
<text x="370.10" y="76.00" font-size="9" text-anchor="middle" font-weight="bold">*</text>
<text x="412.30" y="80.30" font-size="9" text-anchor="middle" font-weight="bold">*</text>
<text x="21.60" y="25.20" font-size="10.7" fill="#d62728" textLength="63.60" lengthAdjust="spacingAndGlyphs">LPSC 3D air</text>
<text x="21.60" y="82.10" font-size="10.7" fill="#ffbb78" textLength="63.60" lengthAdjust="spacingAndGlyphs">LPSC 1D air</text>
<text x="21.80" y="167.70" font-size="10.7" fill="#1f77b4" textLength="26.50" lengthAdjust="spacingAndGlyphs">LPSC</text>
<text x="249.20" y="18.00" font-size="10.7" fill="#d62728" textLength="105.40" lengthAdjust="spacingAndGlyphs">UDSH@LPSC 3D air</text>
<text x="249.20" y="91.70" font-size="10.7" fill="#ffbb78" textLength="105.40" lengthAdjust="spacingAndGlyphs">UDSH@LPSC 1D air</text>
<text x="249.20" y="179.90" font-size="10.7" fill="#1f77b4" textLength="69.00" lengthAdjust="spacingAndGlyphs">UDSH@LPSC</text>
<text x="20.40" y="223.90" font-size="11.43" stroke="#000" stroke-width="0.18" textLength="24.51" lengthAdjust="spacingAndGlyphs">LPSC</text>
<text x="20.40" y="239.70" font-size="11.43" stroke="#000" stroke-width="0.18" textLength="74.84" lengthAdjust="spacingAndGlyphs">ICSD#: 131109</text>
<text x="245.10" y="230.20" font-size="11.43" stroke="#000" stroke-width="0.18" textLength="24.51" lengthAdjust="spacingAndGlyphs">LPSC</text>
<text x="245.10" y="245.50" font-size="11.43" stroke="#000" stroke-width="0.18" textLength="74.84" lengthAdjust="spacingAndGlyphs">ICSD#: 131109</text>
<text x="159.60" y="18.00" font-size="10.1" textLength="51.86" lengthAdjust="spacingAndGlyphs">*New Phase</text>
<text x="159.60" y="30.60" font-size="10.1" textLength="11.94" lengthAdjust="spacingAndGlyphs">*Li</text>
<text x="171.54" y="32.80" font-size="6.66" stroke="#000" stroke-width="0.18" textLength="3.75" lengthAdjust="spacingAndGlyphs">2</text>
<text x="175.29" y="30.60" font-size="10.1" textLength="24.42" lengthAdjust="spacingAndGlyphs">S, LiCl</text>
<text x="-0.60" y="12.70" font-size="18.0" textLength="8.60" lengthAdjust="spacingAndGlyphs">a</text>
<path d="M473.8,65.8 473.8,64.2 541.8,62.3 550.3,60.3 559.8,55.9 561.8,55.5 563.8,55.7 576.8,61.1 674.3,64.2 674.3,65.8Z" fill="#ff7f0e" fill-opacity="0.4" stroke="none" stroke-width="0.8"/>
<path d="M473.8,65.8 473.8,63.1 540.3,60.4 548.3,58.5 552.3,56.5 555.3,54.2 557.8,51.5 560.3,47.8 563.3,41.9 571.8,18.9 573.3,15.9 574.3,14.6 574.8,14.2 575.3,14 575.8,14 576.3,14.2 576.8,14.5 577.8,15.7 579.3,18.6 587.3,40.5 590.3,46.8 593.3,51.4 596.3,54.6 599.8,57 607.3,59.7 674.3,63.1 674.3,65.8Z" fill="#1f77b4" fill-opacity="0.4" stroke="none" stroke-width="0.8"/>
<g fill="#66789a"><circle cx="475.80" cy="60.46" r="1.3"/><circle cx="480.40" cy="61.20" r="1.3"/><circle cx="485.00" cy="61.06" r="1.3"/><circle cx="489.60" cy="59.94" r="1.3"/><circle cx="494.20" cy="59.98" r="1.3"/><circle cx="498.80" cy="59.73" r="1.3"/><circle cx="503.40" cy="60.26" r="1.3"/><circle cx="508.00" cy="59.73" r="1.3"/><circle cx="512.60" cy="60.01" r="1.3"/><circle cx="517.20" cy="58.21" r="1.3"/><circle cx="521.80" cy="59.94" r="1.3"/><circle cx="526.40" cy="58.54" r="1.3"/><circle cx="531.00" cy="58.45" r="1.3"/><circle cx="535.60" cy="57.20" r="1.3"/><circle cx="540.20" cy="55.96" r="1.3"/><circle cx="544.80" cy="54.80" r="1.3"/><circle cx="549.40" cy="52.30" r="1.3"/><circle cx="554.00" cy="47.11" r="1.3"/><circle cx="558.60" cy="39.94" r="1.3"/><circle cx="563.20" cy="31.26" r="1.3"/><circle cx="567.80" cy="19.90" r="1.3"/><circle cx="572.40" cy="9.38" r="1.3"/><circle cx="577.00" cy="9.32" r="1.3"/><circle cx="581.60" cy="19.66" r="1.3"/><circle cx="586.20" cy="32.54" r="1.3"/><circle cx="590.80" cy="43.51" r="1.3"/><circle cx="595.40" cy="50.10" r="1.3"/><circle cx="600.00" cy="53.25" r="1.3"/><circle cx="604.60" cy="55.07" r="1.3"/><circle cx="609.20" cy="57.19" r="1.3"/><circle cx="613.80" cy="58.50" r="1.3"/><circle cx="618.40" cy="58.39" r="1.3"/><circle cx="623.00" cy="58.50" r="1.3"/><circle cx="627.60" cy="59.50" r="1.3"/><circle cx="632.20" cy="59.96" r="1.3"/><circle cx="636.80" cy="59.55" r="1.3"/><circle cx="641.40" cy="60.22" r="1.3"/><circle cx="646.00" cy="60.65" r="1.3"/><circle cx="650.60" cy="60.01" r="1.3"/><circle cx="655.20" cy="59.74" r="1.3"/><circle cx="659.80" cy="60.52" r="1.3"/><circle cx="664.40" cy="60.52" r="1.3"/><circle cx="669.00" cy="61.09" r="1.3"/></g>
<path d="M473.8,61.5 533.8,58.6 543.3,56.2 547.8,53.9 551.3,51.2 554.3,47.8 558.3,41.6 571.8,12.3 572.8,10.7 573.8,9.5 574.3,9.1 574.8,8.9 575.3,8.9 575.8,9 576.3,9.3 577.3,10.5 578.3,12.3 580.8,18.7 586.8,36.3 589.8,43.1 592.8,48.2 595.8,51.8 599.3,54.5 605.3,57.2 674.3,61.5" fill="none" stroke="#0b730b" stroke-width="1.9"/>
<path d="M473.8,63.1 540.3,60.4 548.3,58.5 552.3,56.5 555.3,54.2 557.8,51.5 560.3,47.8 563.3,41.9 571.8,18.9 573.3,15.9 574.3,14.6 574.8,14.2 575.3,14 575.8,14 576.3,14.2 576.8,14.5 577.8,15.7 579.3,18.6 587.3,40.5 590.3,46.8 593.3,51.4 596.3,54.6 599.8,57 607.3,59.7 674.3,63.1" fill="none" stroke="#1f77b4" stroke-width="1.5" stroke-dasharray="4.5 2.5"/>
<path d="M473.8,64.2 541.8,62.3 550.3,60.3 559.8,55.9 561.8,55.5 563.8,55.7 576.8,61.1 674.3,64.2" fill="none" stroke="#ff7f0e" stroke-width="1.5" stroke-dasharray="4.5 2.5"/>
<path d="M473.8,127 473.8,124.4 536.3,121.4 546.8,118.8 552.3,116 556.3,112.9 559.3,109.6 562.3,104.9 565.3,98.5 572.3,78.6 573.3,76.4 574.3,74.8 574.8,74.4 575.3,74.1 575.8,74 576.3,74.2 576.8,74.5 577.8,75.9 579.3,79.1 585.8,97.8 588.8,104.4 591.8,109.2 595.3,113.1 599.8,116.5 608.8,120.1 674.3,124.4 674.3,127Z" fill="#1f77b4" fill-opacity="0.4" stroke="none" stroke-width="0.8"/>
<g fill="#6f7f9c"><circle cx="475.80" cy="124.11" r="1.3"/><circle cx="480.40" cy="124.68" r="1.3"/><circle cx="485.00" cy="124.43" r="1.3"/><circle cx="489.60" cy="124.34" r="1.3"/><circle cx="494.20" cy="124.79" r="1.3"/><circle cx="498.80" cy="122.99" r="1.3"/><circle cx="503.40" cy="123.21" r="1.3"/><circle cx="508.00" cy="122.64" r="1.3"/><circle cx="512.60" cy="123.18" r="1.3"/><circle cx="517.20" cy="123.62" r="1.3"/><circle cx="521.80" cy="122.72" r="1.3"/><circle cx="526.40" cy="122.66" r="1.3"/><circle cx="531.00" cy="120.74" r="1.3"/><circle cx="535.60" cy="121.34" r="1.3"/><circle cx="540.20" cy="119.84" r="1.3"/><circle cx="544.80" cy="120.21" r="1.3"/><circle cx="549.40" cy="117.87" r="1.3"/><circle cx="554.00" cy="115.14" r="1.3"/><circle cx="558.60" cy="110.12" r="1.3"/><circle cx="563.20" cy="103.26" r="1.3"/><circle cx="567.80" cy="91.87" r="1.3"/><circle cx="572.40" cy="77.42" r="1.3"/><circle cx="577.00" cy="72.25" r="1.3"/><circle cx="581.60" cy="85.35" r="1.3"/><circle cx="586.20" cy="98.11" r="1.3"/><circle cx="590.80" cy="108.72" r="1.3"/><circle cx="595.40" cy="114.89" r="1.3"/><circle cx="600.00" cy="118.56" r="1.3"/><circle cx="604.60" cy="122.09" r="1.3"/><circle cx="609.20" cy="122.34" r="1.3"/><circle cx="613.80" cy="124.69" r="1.3"/><circle cx="618.40" cy="124.15" r="1.3"/><circle cx="623.00" cy="124.19" r="1.3"/><circle cx="627.60" cy="123.57" r="1.3"/><circle cx="632.20" cy="124.18" r="1.3"/><circle cx="636.80" cy="124.09" r="1.3"/><circle cx="641.40" cy="124.40" r="1.3"/><circle cx="646.00" cy="124.05" r="1.3"/><circle cx="650.60" cy="124.53" r="1.3"/><circle cx="655.20" cy="125.67" r="1.3"/><circle cx="659.80" cy="124.92" r="1.3"/><circle cx="664.40" cy="124.41" r="1.3"/><circle cx="669.00" cy="125.40" r="1.3"/></g>
<path d="M473.8,124.4 536.3,121.4 546.8,118.8 552.3,116 556.3,112.9 559.3,109.6 562.3,104.9 565.3,98.5 572.3,78.6 573.3,76.4 574.3,74.8 574.8,74.4 575.3,74.1 575.8,74 576.3,74.2 576.8,74.5 577.8,75.9 579.3,79.1 585.8,97.8 588.8,104.4 591.8,109.2 595.3,113.1 599.8,116.5 608.8,120.1 674.3,124.4" fill="none" stroke="#1f77b4" stroke-width="1.6"/>
<path d="M473.8,124.4 536.3,121.4 546.8,118.8 552.3,116 556.3,112.9 559.3,109.6 562.3,104.9 565.3,98.5 572.3,78.6 573.3,76.4 574.3,74.8 574.8,74.4 575.3,74.1 575.8,74 576.3,74.2 576.8,74.5 577.8,75.9 579.3,79.1 585.8,97.8 588.8,104.4 591.8,109.2 595.3,113.1 599.8,116.5 608.8,120.1 674.3,124.4" fill="none" stroke="#0b730b" stroke-width="1.3" stroke-dasharray="3 3.5"/>
<path d="M473.8,188.3 473.8,186.6 528.8,184.5 536.8,182.5 540.8,180.5 543.3,178.5 545.3,176.2 547.3,173.1 549.3,168.6 551.3,162.6 554.8,149.8 555.8,147 556.3,146.1 556.8,145.5 557.3,145.4 557.8,145.7 558.3,146.4 559.3,148.8 563.8,164.9 565.8,170.4 567.8,174.3 569.8,177.1 572.3,179.6 576.3,182 674.3,186.8 674.3,188.3Z" fill="#ff7f0e" fill-opacity="0.4" stroke="none" stroke-width="0.8"/>
<path d="M473.8,188.3 473.8,186.5 543.8,184.4 550.3,182.8 553.3,181.4 555.8,179.5 558.3,176.7 560.8,172.7 563.8,166.2 571.3,145.1 572.8,141.8 573.8,140.3 574.3,139.8 574.8,139.5 575.3,139.3 575.8,139.3 576.3,139.5 576.8,139.9 577.8,141.2 579.3,144.1 587.3,166.4 590.3,172.9 592.8,176.8 595.3,179.6 598.3,181.7 603.8,183.8 674.3,186.5 674.3,188.3Z" fill="#1f77b4" fill-opacity="0.4" stroke="none" stroke-width="0.8"/>
<g fill="#66789a"><circle cx="475.80" cy="185.63" r="1.3"/><circle cx="480.40" cy="182.63" r="1.3"/><circle cx="485.00" cy="184.97" r="1.3"/><circle cx="489.60" cy="184.35" r="1.3"/><circle cx="494.20" cy="185.00" r="1.3"/><circle cx="498.80" cy="184.31" r="1.3"/><circle cx="503.40" cy="185.01" r="1.3"/><circle cx="508.00" cy="183.73" r="1.3"/><circle cx="512.60" cy="183.15" r="1.3"/><circle cx="517.20" cy="183.47" r="1.3"/><circle cx="521.80" cy="182.92" r="1.3"/><circle cx="526.40" cy="181.81" r="1.3"/><circle cx="531.00" cy="180.93" r="1.3"/><circle cx="535.60" cy="180.05" r="1.3"/><circle cx="540.20" cy="177.56" r="1.3"/><circle cx="544.80" cy="172.22" r="1.3"/><circle cx="549.40" cy="162.72" r="1.3"/><circle cx="554.00" cy="143.82" r="1.3"/><circle cx="558.60" cy="135.68" r="1.3"/><circle cx="563.20" cy="141.84" r="1.3"/><circle cx="567.80" cy="141.50" r="1.3"/><circle cx="572.40" cy="133.89" r="1.3"/><circle cx="577.00" cy="134.98" r="1.3"/><circle cx="581.60" cy="146.32" r="1.3"/><circle cx="586.20" cy="159.79" r="1.3"/><circle cx="590.80" cy="171.21" r="1.3"/><circle cx="595.40" cy="176.04" r="1.3"/><circle cx="600.00" cy="180.54" r="1.3"/><circle cx="604.60" cy="180.47" r="1.3"/><circle cx="609.20" cy="182.45" r="1.3"/><circle cx="613.80" cy="183.45" r="1.3"/><circle cx="618.40" cy="183.36" r="1.3"/><circle cx="623.00" cy="183.31" r="1.3"/><circle cx="627.60" cy="183.28" r="1.3"/><circle cx="632.20" cy="183.75" r="1.3"/><circle cx="636.80" cy="184.74" r="1.3"/><circle cx="641.40" cy="184.76" r="1.3"/><circle cx="646.00" cy="184.17" r="1.3"/><circle cx="650.60" cy="183.67" r="1.3"/><circle cx="655.20" cy="184.89" r="1.3"/><circle cx="659.80" cy="183.67" r="1.3"/><circle cx="664.40" cy="184.28" r="1.3"/><circle cx="669.00" cy="184.20" r="1.3"/></g>
<path d="M473.8,186.5 543.8,184.4 550.3,182.8 553.3,181.4 555.8,179.5 558.3,176.7 560.8,172.7 563.8,166.2 571.3,145.1 572.8,141.8 573.8,140.3 574.3,139.8 574.8,139.5 575.3,139.3 575.8,139.3 576.3,139.5 576.8,139.9 577.8,141.2 579.3,144.1 587.3,166.4 590.3,172.9 592.8,176.8 595.3,179.6 598.3,181.7 603.8,183.8 674.3,186.5" fill="none" stroke="#1f77b4" stroke-width="1.5" stroke-dasharray="4.5 2.5"/>
<path d="M473.8,186.6 528.8,184.5 536.8,182.5 540.8,180.5 543.3,178.5 545.3,176.2 547.3,173.1 549.3,168.6 551.3,162.6 554.8,149.8 555.8,147 556.3,146.1 556.8,145.5 557.3,145.4 557.8,145.7 558.3,146.4 559.3,148.8 563.8,164.9 565.8,170.4 567.8,174.3 569.8,177.1 572.3,179.6 576.3,182 674.3,186.8" fill="none" stroke="#ff7f0e" stroke-width="1.5" stroke-dasharray="4.5 2.5"/>
<path d="M473.8,184.9 526.8,182.3 535.3,180 539.3,178 542.3,175.7 544.3,173.5 546.3,170.5 548.3,166.2 550.3,160.4 555.3,139.9 556.3,136.8 556.8,135.7 557.3,135 557.8,134.7 558.3,134.8 558.8,135.1 559.8,136.5 562.3,141.1 563.3,142.4 563.8,142.8 564.3,143 564.8,143.1 565.3,143.1 566.3,142.6 567.3,141.6 572.3,134.1 573.3,133 573.8,132.7 574.3,132.5 574.8,132.4 575.3,132.5 575.8,132.8 576.8,133.8 577.8,135.5 579.8,140.3 587.3,162.9 590.3,169.7 592.8,173.8 595.3,176.8 598.3,179.2 603.3,181.3 674.3,185" fill="none" stroke="#0b730b" stroke-width="1.2"/>
<rect x="527.4" y="150.6" width="73.2" height="31.8" fill="none" stroke="#c8641e" stroke-width="1.5" stroke-dasharray="6 4.5"/>
<path d="M471.9,250 471.9,247 528.9,243.6 539.9,240.7 545.9,237.6 549.9,234.5 553.4,230.7 556.4,226.2 559.9,219.2 567.9,197.8 568.9,195.8 569.9,194.3 570.4,193.8 570.9,193.5 571.4,193.3 571.9,193.3 572.4,193.5 572.9,193.9 573.9,195.1 575.4,198 583.4,219.4 586.9,226.4 590.4,231.5 594.4,235.5 600.4,239.4 615.9,243.9 674.4,247 674.4,250Z" fill="#1f77b4" fill-opacity="0.4" stroke="none" stroke-width="0.8"/>
<path d="M471.9,247 528.9,243.6 539.9,240.7 545.9,237.6 549.9,234.5 553.4,230.7 556.4,226.2 559.9,219.2 567.9,197.8 568.9,195.8 569.9,194.3 570.4,193.8 570.9,193.5 571.4,193.3 571.9,193.3 572.4,193.5 572.9,193.9 573.9,195.1 575.4,198 583.4,219.4 586.9,226.4 590.4,231.5 594.4,235.5 600.4,239.4 615.9,243.9 674.4,247" fill="none" stroke="#1f77b4" stroke-width="1.6"/>
<g fill="#3d5f7d"><circle cx="473.90" cy="247.50" r="1.3"/><circle cx="478.50" cy="246.58" r="1.3"/><circle cx="483.10" cy="246.18" r="1.3"/><circle cx="487.70" cy="245.39" r="1.3"/><circle cx="492.30" cy="246.54" r="1.3"/><circle cx="496.90" cy="247.19" r="1.3"/><circle cx="501.50" cy="246.39" r="1.3"/><circle cx="506.10" cy="246.40" r="1.3"/><circle cx="510.70" cy="246.38" r="1.3"/><circle cx="515.30" cy="245.08" r="1.3"/><circle cx="519.90" cy="246.41" r="1.3"/><circle cx="524.50" cy="244.08" r="1.3"/><circle cx="529.10" cy="243.97" r="1.3"/><circle cx="533.70" cy="244.18" r="1.3"/><circle cx="538.30" cy="241.40" r="1.3"/><circle cx="542.90" cy="239.60" r="1.3"/><circle cx="547.50" cy="236.48" r="1.3"/><circle cx="552.10" cy="232.65" r="1.3"/><circle cx="556.70" cy="224.84" r="1.3"/><circle cx="561.30" cy="215.64" r="1.3"/><circle cx="565.90" cy="203.98" r="1.3"/><circle cx="570.50" cy="194.05" r="1.3"/><circle cx="575.10" cy="197.47" r="1.3"/><circle cx="579.70" cy="210.17" r="1.3"/><circle cx="584.30" cy="221.83" r="1.3"/><circle cx="588.90" cy="229.78" r="1.3"/><circle cx="593.50" cy="235.22" r="1.3"/><circle cx="598.10" cy="237.51" r="1.3"/><circle cx="602.70" cy="240.92" r="1.3"/><circle cx="607.30" cy="241.88" r="1.3"/><circle cx="611.90" cy="243.75" r="1.3"/><circle cx="616.50" cy="244.18" r="1.3"/><circle cx="621.10" cy="244.33" r="1.3"/><circle cx="625.70" cy="245.29" r="1.3"/><circle cx="630.30" cy="245.20" r="1.3"/><circle cx="634.90" cy="246.52" r="1.3"/><circle cx="639.50" cy="246.25" r="1.3"/><circle cx="644.10" cy="246.90" r="1.3"/><circle cx="648.70" cy="246.09" r="1.3"/><circle cx="653.30" cy="247.60" r="1.3"/><circle cx="657.90" cy="246.76" r="1.3"/><circle cx="662.50" cy="247.70" r="1.3"/><circle cx="667.10" cy="247.54" r="1.3"/><circle cx="671.70" cy="246.64" r="1.3"/></g>
<path d="M471.9,246.4 528.9,243 539.9,240.1 545.9,237 549.9,233.9 553.4,230.1 556.4,225.6 559.9,218.6 567.9,197.2 568.9,195.2 569.9,193.7 570.4,193.2 570.9,192.9 571.4,192.7 571.9,192.7 572.4,192.9 572.9,193.3 573.9,194.5 575.4,197.4 583.4,218.8 586.9,225.8 590.4,230.9 594.4,234.9 600.4,238.8 615.9,243.3 674.4,246.4" fill="none" stroke="#0b730b" stroke-width="1.35"/>
<rect x="471.40" y="5.80" width="203.50" height="245.90" fill="none" stroke="#333" stroke-width="1.0"/>
<line x1="471.40" y1="68.20" x2="674.90" y2="68.20" stroke="#000" stroke-width="1.6"/>
<line x1="471.40" y1="128.50" x2="674.90" y2="128.50" stroke="#444" stroke-width="1.0"/>
<line x1="471.40" y1="189.90" x2="674.90" y2="189.90" stroke="#777" stroke-width="1.3"/>
<line x1="471.40" y1="251.70" x2="471.40" y2="254.20" stroke="#333" stroke-width="0.9"/>
<text x="471.40" y="267.20" font-size="10.2" text-anchor="middle" textLength="19.47" lengthAdjust="spacingAndGlyphs">380</text>
<line x1="516.62" y1="251.70" x2="516.62" y2="254.20" stroke="#333" stroke-width="0.9"/>
<text x="516.62" y="267.20" font-size="10.2" text-anchor="middle" textLength="19.47" lengthAdjust="spacingAndGlyphs">400</text>
<line x1="561.84" y1="251.70" x2="561.84" y2="254.20" stroke="#333" stroke-width="0.9"/>
<text x="561.84" y="267.20" font-size="10.2" text-anchor="middle" textLength="19.47" lengthAdjust="spacingAndGlyphs">420</text>
<line x1="607.07" y1="251.70" x2="607.07" y2="254.20" stroke="#333" stroke-width="0.9"/>
<text x="607.07" y="267.20" font-size="10.2" text-anchor="middle" textLength="19.47" lengthAdjust="spacingAndGlyphs">440</text>
<line x1="652.29" y1="251.70" x2="652.29" y2="254.20" stroke="#333" stroke-width="0.9"/>
<text x="652.29" y="267.20" font-size="10.2" text-anchor="middle" textLength="19.47" lengthAdjust="spacingAndGlyphs">460</text>
<text x="520.97" y="282.30" font-size="10.7" textLength="89.12" lengthAdjust="spacingAndGlyphs">Raman Shift (cm</text>
<text x="610.10" y="277.80" font-size="7.5" textLength="11.06" lengthAdjust="spacingAndGlyphs">−1</text>
<text x="621.15" y="282.30" font-size="10.7" textLength="4.17" lengthAdjust="spacingAndGlyphs">)</text>
<line x1="516.90" y1="41.70" x2="549.57" y2="59.46" stroke="#000" stroke-width="1.6"/>
<path d="M553.70,61.70 L547.84,61.59 L550.42,56.84Z" fill="#000"/>
<line x1="519.30" y1="162.40" x2="551.60" y2="162.40" stroke="#000" stroke-width="1.8"/>
<path d="M556.10,162.40 L551.10,165.20 L551.10,159.60Z" fill="#000"/>
<line x1="522.20" y1="222.10" x2="550.90" y2="222.10" stroke="#000" stroke-width="1.2"/>
<path d="M554.60,222.10 L550.40,224.20 L550.40,220.00Z" fill="#000"/>
<text x="523.40" y="25.90" font-size="10.71" stroke="#000" stroke-width="0.18" textLength="11.62" lengthAdjust="spacingAndGlyphs">PS</text>
<text x="535.52" y="28.28" font-size="7.07" stroke="#000" stroke-width="0.18" textLength="3.98" lengthAdjust="spacingAndGlyphs">4</text>
<text x="539.90" y="21.62" font-size="7.07" stroke="#000" stroke-width="0.18" textLength="6.39" lengthAdjust="spacingAndGlyphs">3-</text>
<text x="523.70" y="81.70" font-size="10.71" stroke="#000" stroke-width="0.18" textLength="11.62" lengthAdjust="spacingAndGlyphs">PS</text>
<text x="535.82" y="84.08" font-size="7.07" stroke="#000" stroke-width="0.18" textLength="3.98" lengthAdjust="spacingAndGlyphs">4</text>
<text x="540.20" y="77.42" font-size="7.07" stroke="#000" stroke-width="0.18" textLength="6.39" lengthAdjust="spacingAndGlyphs">3-</text>
<text x="523.70" y="143.00" font-size="10.71" stroke="#000" stroke-width="0.18" textLength="11.62" lengthAdjust="spacingAndGlyphs">PS</text>
<text x="535.82" y="145.38" font-size="7.07" stroke="#000" stroke-width="0.18" textLength="3.98" lengthAdjust="spacingAndGlyphs">4</text>
<text x="540.20" y="138.72" font-size="7.07" stroke="#000" stroke-width="0.18" textLength="6.39" lengthAdjust="spacingAndGlyphs">3-</text>
<text x="523.40" y="205.40" font-size="10.71" stroke="#000" stroke-width="0.18" textLength="11.62" lengthAdjust="spacingAndGlyphs">PS</text>
<text x="535.52" y="207.78" font-size="7.07" stroke="#000" stroke-width="0.18" textLength="3.98" lengthAdjust="spacingAndGlyphs">4</text>
<text x="539.90" y="201.12" font-size="7.07" stroke="#000" stroke-width="0.18" textLength="6.39" lengthAdjust="spacingAndGlyphs">3-</text>
<text x="477.40" y="43.40" font-size="10.98" fill="#f7921e" stroke="#f7921e" stroke-width="0.18" textLength="30.40" lengthAdjust="spacingAndGlyphs">16.2%</text>
<text x="477.20" y="164.20" font-size="10.98" fill="#f7921e" stroke="#f7921e" stroke-width="0.18" textLength="30.60" lengthAdjust="spacingAndGlyphs">41.8%</text>
<text x="480.00" y="224.20" font-size="11.07" stroke="#000" stroke-width="0.18" textLength="28.20" lengthAdjust="spacingAndGlyphs">424.5</text>
<text x="595.80" y="22.40" font-size="10.4" textLength="66.20" lengthAdjust="spacingAndGlyphs">UDSH@LPSC</text>
<text x="595.80" y="33.60" font-size="10.4" textLength="31.47" lengthAdjust="spacingAndGlyphs">3D air</text>
<text x="595.80" y="83.60" font-size="10.4" textLength="66.20" lengthAdjust="spacingAndGlyphs">UDSH@LPSC</text>
<text x="595.80" y="95.50" font-size="10.4" textLength="31.47" lengthAdjust="spacingAndGlyphs">1D air</text>
<text x="595.80" y="148.50" font-size="10.4" textLength="60.71" lengthAdjust="spacingAndGlyphs">LPSC 1D air</text>
<text x="595.80" y="206.20" font-size="10.4" textLength="25.93" lengthAdjust="spacingAndGlyphs">LPSC</text>
<text x="464.40" y="123.00" font-size="11.0" text-anchor="middle" textLength="80.67" lengthAdjust="spacingAndGlyphs" transform="rotate(-90 464.40 123.00)">Intensity (a.u.)</text>
<text x="453.00" y="12.20" font-size="17.3" textLength="10.00" lengthAdjust="spacingAndGlyphs">b</text>
<path d="M16.6,412.8 120.1,412.2 123.1,411.5 124.6,410.8 126.1,409.6 127.6,407.7 129.1,405 131.1,399.8 136.6,380.7 137.6,378.1 138.6,376.3 139.1,375.8 139.6,375.5 140.1,375.5 140.6,375.9 141.1,376.4 142.1,378.3 143.6,382.6 148.6,400.1 150.1,404.1 151.6,407.1 153.1,409.1 154.6,410.5 156.6,411.5 221.1,412.8Z" fill="#4682b4" fill-opacity="0.4" stroke="none" stroke-width="0.8"/>
<path d="M111.1,412.5 121.1,412 123.6,411.3 125.1,410.4 126.6,409 128.1,406.9 129.6,403.8 131.6,398.2 136.6,380.7 137.6,378.1 138.6,376.3 139.1,375.8 139.6,375.5 140.1,375.5 140.6,375.9 141.1,376.4 142.1,378.3 143.6,382.6 148.6,400.1 150.1,404.1 151.6,407.1 153.1,409.1 154.6,410.5 156.6,411.5 168.1,412.5" fill="none" stroke="#4682b4" stroke-width="0.7" stroke-opacity="0.75"/>
<path d="M16.6,412.8 137.6,411.8 140.6,411.2 142.1,410.5 143.6,409.3 144.6,408.1 145.6,406.4 146.6,404.3 148.1,399.8 149.6,393.6 152.1,379.5 156.6,349.4 157.6,344.4 158.6,340.8 159.1,339.7 159.6,339.1 160.1,338.9 160.6,339.3 161.1,340.1 161.6,341.4 162.6,345.3 164.6,356.9 169.1,386.8 171.1,396.7 172.6,402.1 174.1,405.8 175.1,407.6 176.6,409.5 178.1,410.6 180.6,411.5 221.1,412.7 221.1,412.8Z" fill="#4682b4" fill-opacity="0.4" stroke="none" stroke-width="0.8"/>
<path d="M117.1,412.5 138.1,411.8 140.6,411.2 142.1,410.5 143.6,409.3 144.6,408.1 145.6,406.4 146.6,404.3 148.1,399.8 149.6,393.6 152.1,379.5 156.6,349.4 157.6,344.4 158.6,340.8 159.1,339.7 159.6,339.1 160.1,338.9 160.6,339.3 161.1,340.1 161.6,341.4 162.6,345.3 164.6,356.9 169.1,386.8 171.1,396.7 172.6,402.1 174.1,405.8 175.1,407.6 176.6,409.5 178.1,410.6 180.6,411.5 203.1,412.5" fill="none" stroke="#4682b4" stroke-width="0.7" stroke-opacity="0.75"/>
<path d="M16.6,412.8 148.1,412.4 152.6,411.3 161.1,406.8 163.1,406.2 164.6,406.3 166.6,406.8 174.6,411.2 180.1,412.4 221.1,412.8Z" fill="#d2691e" fill-opacity="0.4" stroke="none" stroke-width="0.8"/>
<path d="M146.6,412.5 151.6,411.7 161.6,406.6 163.6,406.2 165.1,406.3 168.1,407.6 174.6,411.2 180.1,412.4 181.1,412.5" fill="none" stroke="#d2691e" stroke-width="0.7" stroke-opacity="0.75"/>
<path d="M16.6,412.8 164.6,412.3 168.1,411.5 170.6,410.3 173.1,408.3 179.6,400.8 181.1,399.6 182.1,399.1 183.1,399 184.1,399.2 185.1,399.7 187.1,401.5 193.1,408.4 195.6,410.4 198.6,411.7 221.1,412.7 221.1,412.8Z" fill="#d2691e" fill-opacity="0.4" stroke="none" stroke-width="0.8"/>
<path d="M161.6,412.5 166.6,412 169.6,410.9 172.1,409.2 179.6,400.8 181.1,399.6 182.1,399.1 183.1,399 184.1,399.2 185.1,399.7 187.1,401.5 193.1,408.4 195.6,410.4 198.6,411.7 204.1,412.5" fill="none" stroke="#d2691e" stroke-width="0.7" stroke-opacity="0.75"/>
<path d="M16.6,412.8 221.1,412.8Z" fill="#ff0000" fill-opacity="0.4" stroke="none" stroke-width="0.8"/>
<path d="M46.1,412.5 63.6,412.5" fill="none" stroke="#ff0000" stroke-width="0.7" stroke-opacity="0.75"/>
<path d="M16.6,412.8 221.1,412.8Z" fill="#ff0000" fill-opacity="0.4" stroke="none" stroke-width="0.8"/>
<path d="M62.1,412.5 77.6,412.5" fill="none" stroke="#ff0000" stroke-width="0.7" stroke-opacity="0.75"/>
<line x1="16.60" y1="412.50" x2="221.10" y2="412.50" stroke="#e0603a" stroke-width="0.9" stroke-opacity="0.8"/>
<g fill="#999"><circle cx="17.6" cy="411.7" r="0.55"/><circle cx="20.2" cy="412.7" r="0.55"/><circle cx="22.8" cy="412.8" r="0.55"/><circle cx="25.4" cy="412.1" r="0.55"/><circle cx="28.0" cy="412.2" r="0.55"/><circle cx="30.6" cy="411.6" r="0.55"/><circle cx="33.2" cy="411.4" r="0.55"/><circle cx="35.8" cy="411.4" r="0.55"/><circle cx="38.4" cy="411.3" r="0.55"/><circle cx="41.0" cy="412.4" r="0.55"/><circle cx="43.6" cy="411.7" r="0.55"/><circle cx="46.2" cy="411.7" r="0.55"/><circle cx="48.8" cy="411.1" r="0.55"/><circle cx="51.4" cy="410.7" r="0.55"/><circle cx="54.0" cy="410.6" r="0.55"/><circle cx="56.6" cy="410.7" r="0.55"/><circle cx="59.2" cy="411.6" r="0.55"/><circle cx="61.8" cy="411.3" r="0.55"/><circle cx="64.4" cy="411.0" r="0.55"/><circle cx="67.0" cy="411.2" r="0.55"/><circle cx="69.6" cy="410.5" r="0.55"/><circle cx="72.2" cy="412.1" r="0.55"/><circle cx="74.8" cy="410.7" r="0.55"/><circle cx="77.4" cy="411.6" r="0.55"/><circle cx="80.0" cy="413.0" r="0.55"/><circle cx="82.6" cy="410.2" r="0.55"/><circle cx="85.2" cy="410.9" r="0.55"/><circle cx="87.8" cy="411.3" r="0.55"/><circle cx="90.4" cy="411.8" r="0.55"/><circle cx="93.0" cy="410.7" r="0.55"/><circle cx="95.6" cy="411.6" r="0.55"/><circle cx="98.2" cy="411.7" r="0.55"/><circle cx="100.8" cy="411.8" r="0.55"/><circle cx="103.4" cy="410.2" r="0.55"/><circle cx="106.0" cy="412.0" r="0.55"/><circle cx="108.6" cy="412.5" r="0.55"/><circle cx="111.2" cy="411.8" r="0.55"/><circle cx="113.8" cy="411.0" r="0.55"/><circle cx="116.4" cy="411.0" r="0.55"/><circle cx="119.0" cy="409.6" r="0.55"/><circle cx="121.6" cy="411.0" r="0.55"/><circle cx="124.2" cy="410.7" r="0.55"/><circle cx="126.8" cy="407.9" r="0.55"/><circle cx="129.4" cy="401.2" r="0.55"/><circle cx="132.0" cy="395.3" r="0.55"/><circle cx="134.6" cy="386.1" r="0.55"/><circle cx="137.2" cy="377.2" r="0.55"/><circle cx="139.8" cy="373.7" r="0.55"/><circle cx="142.4" cy="372.7" r="0.55"/><circle cx="145.0" cy="376.9" r="0.55"/><circle cx="147.6" cy="379.6" r="0.55"/><circle cx="150.2" cy="376.7" r="0.55"/><circle cx="152.8" cy="365.4" r="0.55"/><circle cx="155.4" cy="350.3" r="0.55"/><circle cx="158.0" cy="336.6" r="0.55"/><circle cx="160.6" cy="331.8" r="0.55"/><circle cx="163.2" cy="341.8" r="0.55"/><circle cx="165.8" cy="357.5" r="0.55"/><circle cx="168.4" cy="374.9" r="0.55"/><circle cx="171.0" cy="390.0" r="0.55"/><circle cx="173.6" cy="398.5" r="0.55"/><circle cx="176.2" cy="400.2" r="0.55"/><circle cx="178.8" cy="399.3" r="0.55"/><circle cx="181.4" cy="397.5" r="0.55"/><circle cx="184.0" cy="395.9" r="0.55"/><circle cx="186.6" cy="399.8" r="0.55"/><circle cx="189.2" cy="402.6" r="0.55"/><circle cx="191.8" cy="404.1" r="0.55"/><circle cx="194.4" cy="407.9" r="0.55"/><circle cx="197.0" cy="409.4" r="0.55"/><circle cx="199.6" cy="411.4" r="0.55"/><circle cx="202.2" cy="411.3" r="0.55"/><circle cx="204.8" cy="411.6" r="0.55"/><circle cx="207.4" cy="411.7" r="0.55"/><circle cx="210.0" cy="410.8" r="0.55"/><circle cx="212.6" cy="410.5" r="0.55"/><circle cx="215.2" cy="411.7" r="0.55"/><circle cx="217.8" cy="411.6" r="0.55"/></g>
<path d="M47.6,412.4 120.1,411.8 123.1,411.1 124.6,410.3 126.1,409.1 127.6,407.2 129.1,404.4 131.1,399.2 136.6,380 137.6,377.3 138.6,375.2 139.1,374.5 139.6,374 140.1,373.7 140.6,373.6 141.1,373.6 141.6,373.9 142.6,374.8 145.6,378.8 146.6,379.7 147.1,380 147.6,380.1 148.1,380 148.6,379.6 149.1,379.1 149.6,378.3 150.6,375.7 151.6,372 153.6,361.6 156.6,343.5 157.6,338.6 158.6,335.1 159.1,334 159.6,333.3 160.1,333 160.6,333.3 161.1,334 161.6,335.2 162.6,338.8 164.1,347 169.1,381 170.6,388.8 171.6,392.9 172.6,396 173.6,398.2 174.6,399.6 175.1,400 175.6,400.3 176.6,400.4 177.6,400.1 181.1,398.3 182.1,398 183.1,398 184.1,398.2 185.6,399.2 193.1,407.9 195.6,409.9 198.6,411.3 207.6,412.4" fill="none" stroke="#3a3a3a" stroke-width="0.68"/>
<path d="M16.6,498.2 120.6,497.6 123.6,496.9 125.6,496 127.1,494.7 128.6,492.8 130.1,490.1 132.1,485.1 137.6,467.8 138.6,465.5 139.6,463.9 140.1,463.4 140.6,463.2 141.1,463.2 141.6,463.5 142.1,464 143.1,465.7 144.6,469.4 149.6,485.4 151.6,490.3 153.1,492.9 154.6,494.8 156.1,496 158.1,497 221.1,498.2Z" fill="#4682b4" fill-opacity="0.4" stroke="none" stroke-width="0.8"/>
<path d="M112.1,497.9 121.6,497.4 124.1,496.8 125.6,496 127.1,494.7 128.6,492.8 130.1,490.1 132.1,485.1 137.6,467.8 138.6,465.5 139.6,463.9 140.1,463.4 140.6,463.2 141.1,463.2 141.6,463.5 142.1,464 143.1,465.7 144.6,469.4 149.6,485.4 151.6,490.3 153.1,492.9 154.6,494.8 156.1,496 158.1,497 169.6,497.9" fill="none" stroke="#4682b4" stroke-width="0.7" stroke-opacity="0.75"/>
<path d="M16.6,498.2 138.1,497.2 141.1,496.6 142.6,495.9 144.1,494.7 145.1,493.5 146.1,491.9 147.6,488.6 149.1,483.8 150.6,477.5 157.1,438.3 158.1,433.4 159.1,429.8 159.6,428.6 160.1,427.8 160.6,427.5 161.1,427.6 161.6,428.2 162.1,429.3 163.1,432.6 164.6,439.9 170.1,474 172.1,483.1 173.6,488.1 175.1,491.6 176.6,493.9 178.1,495.4 180.1,496.5 221.1,498.1 221.1,498.2Z" fill="#4682b4" fill-opacity="0.4" stroke="none" stroke-width="0.8"/>
<path d="M118.1,497.9 138.6,497.2 141.1,496.6 142.6,495.9 144.1,494.7 145.1,493.5 146.1,491.9 147.6,488.6 149.1,483.8 150.6,477.5 157.1,438.3 158.1,433.4 159.1,429.8 159.6,428.6 160.1,427.8 160.6,427.5 161.1,427.6 161.6,428.2 162.1,429.3 163.1,432.6 164.6,439.9 170.1,474 172.1,483.1 173.6,488.1 175.1,491.6 176.6,493.9 178.1,495.4 180.1,496.5 203.6,497.9" fill="none" stroke="#4682b4" stroke-width="0.7" stroke-opacity="0.75"/>
<path d="M16.6,498.2 144.6,497.8 149.1,496.8 158.1,492 160.1,491.6 161.6,491.7 164.1,492.7 171.1,496.5 176.1,497.8 221.1,498.2Z" fill="#d2691e" fill-opacity="0.4" stroke="none" stroke-width="0.8"/>
<path d="M143.1,497.9 148.1,497.1 158.1,492 160.1,491.6 161.6,491.7 164.1,492.7 171.1,496.5 176.1,497.8 177.6,497.9" fill="none" stroke="#d2691e" stroke-width="0.7" stroke-opacity="0.75"/>
<path d="M16.6,498.2 161.1,497.7 164.6,496.9 167.6,495.4 171.1,492.5 176.1,487.2 177.6,486.1 178.6,485.7 179.6,485.5 180.6,485.6 182.1,486.3 190.6,494.6 193.6,496.4 197.6,497.6 221.1,498.2Z" fill="#d2691e" fill-opacity="0.4" stroke="none" stroke-width="0.8"/>
<path d="M158.1,497.9 163.6,497.2 166.6,496 169.6,493.9 176.1,487.2 177.6,486.1 178.6,485.7 179.6,485.5 180.6,485.6 182.1,486.3 190.6,494.6 193.6,496.4 197.6,497.6 201.1,497.9" fill="none" stroke="#d2691e" stroke-width="0.7" stroke-opacity="0.75"/>
<path d="M16.6,498.2 36.6,497.6 49.1,493.8 51.6,493.6 64.6,497.5 221.1,498.2Z" fill="#ff0000" fill-opacity="0.4" stroke="none" stroke-width="0.8"/>
<path d="M34.1,497.9 40.6,496.7 48.6,493.9 51.1,493.6 54.1,494.1 63.6,497.3 68.1,497.9" fill="none" stroke="#ff0000" stroke-width="0.7" stroke-opacity="0.75"/>
<path d="M16.6,498.2 53.1,497.7 56.6,496.8 60.1,495 66.1,490.5 67.6,489.8 69.1,489.5 70.6,489.7 72.6,490.7 79.6,495.8 83.1,497.3 221.1,498.2Z" fill="#ff0000" fill-opacity="0.4" stroke="none" stroke-width="0.8"/>
<path d="M50.6,497.9 55.6,497.2 58.6,495.9 66.6,490.2 68.1,489.6 69.6,489.5 71.1,489.9 79.6,495.8 83.1,497.3 87.6,497.9" fill="none" stroke="#ff0000" stroke-width="0.7" stroke-opacity="0.75"/>
<line x1="16.60" y1="497.90" x2="221.10" y2="497.90" stroke="#e0603a" stroke-width="0.9" stroke-opacity="0.7"/>
<g fill="#999"><circle cx="17.6" cy="497.5" r="0.55"/><circle cx="20.2" cy="498.2" r="0.55"/><circle cx="22.8" cy="496.2" r="0.55"/><circle cx="25.4" cy="498.3" r="0.55"/><circle cx="28.0" cy="497.2" r="0.55"/><circle cx="30.6" cy="496.7" r="0.55"/><circle cx="33.2" cy="496.6" r="0.55"/><circle cx="35.8" cy="496.2" r="0.55"/><circle cx="38.4" cy="496.3" r="0.55"/><circle cx="41.0" cy="496.2" r="0.55"/><circle cx="43.6" cy="495.1" r="0.55"/><circle cx="46.2" cy="494.0" r="0.55"/><circle cx="48.8" cy="491.8" r="0.55"/><circle cx="51.4" cy="491.5" r="0.55"/><circle cx="54.0" cy="493.4" r="0.55"/><circle cx="56.6" cy="493.3" r="0.55"/><circle cx="59.2" cy="493.8" r="0.55"/><circle cx="61.8" cy="492.3" r="0.55"/><circle cx="64.4" cy="489.5" r="0.55"/><circle cx="67.0" cy="489.5" r="0.55"/><circle cx="69.6" cy="488.8" r="0.55"/><circle cx="72.2" cy="489.6" r="0.55"/><circle cx="74.8" cy="490.8" r="0.55"/><circle cx="77.4" cy="493.4" r="0.55"/><circle cx="80.0" cy="495.0" r="0.55"/><circle cx="82.6" cy="496.7" r="0.55"/><circle cx="85.2" cy="496.8" r="0.55"/><circle cx="87.8" cy="497.9" r="0.55"/><circle cx="90.4" cy="496.6" r="0.55"/><circle cx="93.0" cy="497.3" r="0.55"/><circle cx="95.6" cy="497.4" r="0.55"/><circle cx="98.2" cy="496.5" r="0.55"/><circle cx="100.8" cy="496.3" r="0.55"/><circle cx="103.4" cy="497.6" r="0.55"/><circle cx="106.0" cy="497.3" r="0.55"/><circle cx="108.6" cy="496.8" r="0.55"/><circle cx="111.2" cy="497.1" r="0.55"/><circle cx="113.8" cy="496.3" r="0.55"/><circle cx="116.4" cy="496.1" r="0.55"/><circle cx="119.0" cy="494.3" r="0.55"/><circle cx="121.6" cy="493.3" r="0.55"/><circle cx="124.2" cy="491.9" r="0.55"/><circle cx="126.8" cy="488.2" r="0.55"/><circle cx="129.4" cy="484.4" r="0.55"/><circle cx="132.0" cy="477.4" r="0.55"/><circle cx="134.6" cy="470.5" r="0.55"/><circle cx="137.2" cy="462.2" r="0.55"/><circle cx="139.8" cy="457.7" r="0.55"/><circle cx="142.4" cy="455.6" r="0.55"/><circle cx="145.0" cy="455.9" r="0.55"/><circle cx="147.6" cy="457.2" r="0.55"/><circle cx="150.2" cy="455.6" r="0.55"/><circle cx="152.8" cy="447.4" r="0.55"/><circle cx="155.4" cy="432.9" r="0.55"/><circle cx="158.0" cy="422.2" r="0.55"/><circle cx="160.6" cy="415.6" r="0.55"/><circle cx="163.2" cy="421.0" r="0.55"/><circle cx="165.8" cy="433.8" r="0.55"/><circle cx="168.4" cy="447.3" r="0.55"/><circle cx="171.0" cy="457.6" r="0.55"/><circle cx="173.6" cy="468.8" r="0.55"/><circle cx="176.2" cy="477.1" r="0.55"/><circle cx="178.8" cy="480.9" r="0.55"/><circle cx="181.4" cy="483.6" r="0.55"/><circle cx="184.0" cy="486.8" r="0.55"/><circle cx="186.6" cy="489.6" r="0.55"/><circle cx="189.2" cy="491.4" r="0.55"/><circle cx="191.8" cy="493.4" r="0.55"/><circle cx="194.4" cy="494.9" r="0.55"/><circle cx="197.0" cy="495.6" r="0.55"/><circle cx="199.6" cy="496.2" r="0.55"/><circle cx="202.2" cy="496.2" r="0.55"/><circle cx="204.8" cy="497.3" r="0.55"/><circle cx="207.4" cy="496.9" r="0.55"/><circle cx="210.0" cy="497.0" r="0.55"/><circle cx="212.6" cy="497.2" r="0.55"/><circle cx="215.2" cy="497.4" r="0.55"/><circle cx="217.8" cy="498.0" r="0.55"/></g>
<path d="M33.6,497.9 40.1,496.8 49.1,493.5 52.6,493.2 57.6,493.5 60.1,493 67.1,489.5 68.6,489.2 70.1,489.3 72.1,490.2 79.6,495.6 83.1,497.1 113.1,497.6 115.6,497.1 122.1,493.7 124.6,491.7 126.6,489.5 128.6,486.3 132.1,478.5 137.6,462.8 139.1,459.6 140.1,458.1 141.1,457.1 142.1,456.5 143.1,456.2 144.1,456.4 147.1,458.1 147.6,458.2 148.1,458.1 148.6,457.8 149.1,457.4 150.1,455.8 151.1,453.4 152.6,448.2 157.6,423.8 158.6,420.3 159.1,419 159.6,418.1 160.1,417.6 160.6,417.4 161.1,417.6 161.6,418.1 162.1,419 163.1,421.9 164.6,428.4 168.6,449 174.1,471.9 175.6,476.5 177.1,479.6 179.1,482.5 190.1,492.9 194.1,495.5 199.1,497.2 205.6,497.8" fill="none" stroke="#3a3a3a" stroke-width="0.68"/>
<path d="M16.6,583.6 122.1,582.9 124.6,582.4 126.1,581.7 127.6,580.5 129.1,578.8 130.6,576.2 132.6,571.2 138.1,552.6 139.1,549.9 140.1,548.1 140.6,547.5 141.1,547.2 141.6,547.2 142.1,547.5 142.6,548 143.6,549.7 145.1,553.8 150.1,570.9 152.1,575.9 153.6,578.6 155.1,580.4 156.6,581.6 158.6,582.5 221.1,583.6Z" fill="#4682b4" fill-opacity="0.4" stroke="none" stroke-width="0.8"/>
<path d="M113.1,583.3 122.6,582.9 125.1,582.2 126.6,581.4 128.1,580 129.6,578 131.1,575.1 133.1,569.7 138.1,552.6 139.1,549.9 140.1,548.1 140.6,547.5 141.1,547.2 141.6,547.2 142.1,547.5 142.6,548 143.6,549.7 145.1,553.8 150.1,570.9 152.1,575.9 153.6,578.6 155.1,580.4 156.6,581.6 158.6,582.5 169.6,583.3" fill="none" stroke="#4682b4" stroke-width="0.7" stroke-opacity="0.75"/>
<path d="M16.6,583.6 139.1,582.7 142.1,582 143.6,581.3 145.1,580.1 146.1,579 147.1,577.3 148.1,575.2 149.6,570.7 151.1,564.5 153.6,550.3 157.6,523.4 158.6,518 159.6,513.9 160.1,512.5 160.6,511.6 161.1,511.1 161.6,511.2 162.1,511.7 162.6,512.8 163.6,516.2 165.1,524 170.1,557.1 172.1,567.2 173.6,572.7 175.1,576.5 176.1,578.4 177.1,579.7 178.6,581.1 180.6,582.1 221.1,583.5 221.1,583.6Z" fill="#4682b4" fill-opacity="0.4" stroke="none" stroke-width="0.8"/>
<path d="M119.6,583.3 140.1,582.5 142.6,581.8 144.1,581 145.6,579.6 146.6,578.2 147.6,576.3 149.1,572.4 150.6,566.8 152.6,556.5 157.6,523.4 158.6,518 159.6,513.9 160.1,512.5 160.6,511.6 161.1,511.1 161.6,511.2 162.1,511.7 162.6,512.8 163.6,516.2 165.1,524 170.1,557.1 172.1,567.2 173.6,572.7 175.1,576.5 176.1,578.4 177.1,579.7 178.6,581.1 180.6,582.1 203.1,583.3" fill="none" stroke="#4682b4" stroke-width="0.7" stroke-opacity="0.75"/>
<path d="M16.6,583.6 148.6,583.2 152.6,582.2 162.1,576.8 163.6,576.4 165.1,576.3 167.1,576.9 175.1,581.7 179.6,583 221.1,583.6Z" fill="#d2691e" fill-opacity="0.4" stroke="none" stroke-width="0.8"/>
<path d="M146.6,583.3 151.6,582.6 155.6,580.8 161.6,577 163.6,576.4 165.1,576.3 167.1,576.9 175.1,581.7 179.6,583 182.1,583.3" fill="none" stroke="#d2691e" stroke-width="0.7" stroke-opacity="0.75"/>
<path d="M16.6,583.6 166.6,583.1 170.1,582.2 172.6,580.9 175.1,578.6 182.1,569.1 183.6,567.7 184.6,567.2 185.6,567.1 186.6,567.4 187.6,568 189.6,570.2 195.1,577.9 197.6,580.4 200.1,582 204.1,583.1 221.1,583.5 221.1,583.6Z" fill="#d2691e" fill-opacity="0.4" stroke="none" stroke-width="0.8"/>
<path d="M163.1,583.3 168.6,582.7 171.1,581.8 173.1,580.5 175.6,578 182.1,569.1 183.6,567.7 184.6,567.2 185.6,567.1 186.6,567.4 187.6,568 189.6,570.2 195.1,577.9 197.6,580.4 200.1,582 204.1,583.1 207.6,583.3" fill="none" stroke="#d2691e" stroke-width="0.7" stroke-opacity="0.75"/>
<path d="M16.6,583.6 100.6,583.2 112.6,579.9 115.1,579.8 127.6,583.1 221.1,583.6Z" fill="#6b8e23" fill-opacity="0.4" stroke="none" stroke-width="0.8"/>
<path d="M98.6,583.3 105.6,582.1 112.1,580 114.6,579.8 127.6,583.1 129.6,583.3" fill="none" stroke="#6b8e23" stroke-width="0.7" stroke-opacity="0.75"/>
<path d="M16.6,583.6 118.1,583.2 122.1,582.3 126.6,580 131.1,577.1 133.1,576.3 134.6,576.2 136.1,576.5 145.1,581.8 149.6,583.1 221.1,583.6Z" fill="#6b8e23" fill-opacity="0.4" stroke="none" stroke-width="0.8"/>
<path d="M116.6,583.3 121.6,582.4 125.6,580.6 131.1,577.1 133.1,576.3 134.6,576.2 136.1,576.5 145.1,581.8 149.6,583.1 152.1,583.3" fill="none" stroke="#6b8e23" stroke-width="0.7" stroke-opacity="0.75"/>
<line x1="16.60" y1="583.30" x2="221.10" y2="583.30" stroke="#8c9a50" stroke-width="0.9" stroke-opacity="0.7"/>
<g fill="#999"><circle cx="17.6" cy="581.9" r="0.55"/><circle cx="20.2" cy="582.0" r="0.55"/><circle cx="22.8" cy="582.0" r="0.55"/><circle cx="25.4" cy="582.4" r="0.55"/><circle cx="28.0" cy="583.6" r="0.55"/><circle cx="30.6" cy="581.8" r="0.55"/><circle cx="33.2" cy="583.3" r="0.55"/><circle cx="35.8" cy="583.5" r="0.55"/><circle cx="38.4" cy="582.5" r="0.55"/><circle cx="41.0" cy="582.3" r="0.55"/><circle cx="43.6" cy="583.0" r="0.55"/><circle cx="46.2" cy="583.4" r="0.55"/><circle cx="48.8" cy="584.0" r="0.55"/><circle cx="51.4" cy="583.2" r="0.55"/><circle cx="54.0" cy="583.7" r="0.55"/><circle cx="56.6" cy="582.4" r="0.55"/><circle cx="59.2" cy="582.2" r="0.55"/><circle cx="61.8" cy="581.7" r="0.55"/><circle cx="64.4" cy="582.0" r="0.55"/><circle cx="67.0" cy="582.5" r="0.55"/><circle cx="69.6" cy="582.8" r="0.55"/><circle cx="72.2" cy="581.9" r="0.55"/><circle cx="74.8" cy="583.1" r="0.55"/><circle cx="77.4" cy="582.6" r="0.55"/><circle cx="80.0" cy="582.2" r="0.55"/><circle cx="82.6" cy="582.1" r="0.55"/><circle cx="85.2" cy="583.8" r="0.55"/><circle cx="87.8" cy="582.7" r="0.55"/><circle cx="90.4" cy="582.0" r="0.55"/><circle cx="93.0" cy="581.9" r="0.55"/><circle cx="95.6" cy="583.5" r="0.55"/><circle cx="98.2" cy="581.9" r="0.55"/><circle cx="100.8" cy="582.7" r="0.55"/><circle cx="103.4" cy="582.4" r="0.55"/><circle cx="106.0" cy="579.3" r="0.55"/><circle cx="108.6" cy="580.6" r="0.55"/><circle cx="111.2" cy="578.8" r="0.55"/><circle cx="113.8" cy="577.7" r="0.55"/><circle cx="116.4" cy="578.1" r="0.55"/><circle cx="119.0" cy="579.0" r="0.55"/><circle cx="121.6" cy="579.0" r="0.55"/><circle cx="124.2" cy="578.2" r="0.55"/><circle cx="126.8" cy="575.2" r="0.55"/><circle cx="129.4" cy="572.0" r="0.55"/><circle cx="132.0" cy="565.4" r="0.55"/><circle cx="134.6" cy="557.2" r="0.55"/><circle cx="137.2" cy="548.3" r="0.55"/><circle cx="139.8" cy="543.5" r="0.55"/><circle cx="142.4" cy="543.4" r="0.55"/><circle cx="145.0" cy="546.8" r="0.55"/><circle cx="147.6" cy="551.5" r="0.55"/><circle cx="150.2" cy="551.2" r="0.55"/><circle cx="152.8" cy="543.9" r="0.55"/><circle cx="155.4" cy="529.8" r="0.55"/><circle cx="158.0" cy="512.1" r="0.55"/><circle cx="160.6" cy="503.0" r="0.55"/><circle cx="163.2" cy="505.9" r="0.55"/><circle cx="165.8" cy="518.2" r="0.55"/><circle cx="168.4" cy="537.4" r="0.55"/><circle cx="171.0" cy="555.8" r="0.55"/><circle cx="173.6" cy="564.8" r="0.55"/><circle cx="176.2" cy="569.5" r="0.55"/><circle cx="178.8" cy="569.8" r="0.55"/><circle cx="181.4" cy="567.1" r="0.55"/><circle cx="184.0" cy="565.0" r="0.55"/><circle cx="186.6" cy="565.4" r="0.55"/><circle cx="189.2" cy="567.9" r="0.55"/><circle cx="191.8" cy="571.6" r="0.55"/><circle cx="194.4" cy="575.8" r="0.55"/><circle cx="197.0" cy="579.6" r="0.55"/><circle cx="199.6" cy="580.7" r="0.55"/><circle cx="202.2" cy="582.5" r="0.55"/><circle cx="204.8" cy="582.5" r="0.55"/><circle cx="207.4" cy="582.7" r="0.55"/><circle cx="210.0" cy="582.7" r="0.55"/><circle cx="212.6" cy="582.2" r="0.55"/><circle cx="215.2" cy="582.7" r="0.55"/><circle cx="217.8" cy="582.7" r="0.55"/></g>
<path d="M96.1,583.2 103.6,582.2 112.6,579.3 116.1,579.2 121.1,579.6 123.1,579.2 124.6,578.5 126.1,577.2 127.6,575.3 129.1,572.6 131.1,567.9 137.6,547.4 138.6,545.1 139.6,543.4 140.1,542.8 140.6,542.5 141.1,542.4 141.6,542.5 142.1,542.7 143.1,543.8 147.1,551.1 147.6,551.7 148.1,552.2 148.6,552.5 149.1,552.5 149.6,552.3 150.1,551.8 150.6,551 151.6,548.7 152.6,545.2 154.1,537.9 158.1,513.3 159.1,508.5 160.1,505 160.6,504 161.1,503.4 161.6,503.3 162.1,503.7 162.6,504.6 163.1,506 164.1,510.2 166.1,522.3 170.1,550.5 171.6,558.7 172.6,563 173.6,566.3 174.6,568.6 175.6,570.1 176.1,570.5 176.6,570.8 177.1,570.9 178.1,570.7 179.6,569.8 183.1,566.8 184.1,566.3 185.1,566.1 186.1,566.3 187.1,566.8 188.6,568.2 195.1,577.4 197.6,580 200.1,581.6 204.1,582.7 210.6,583.2" fill="none" stroke="#3a3a3a" stroke-width="0.68"/>
<path d="M16.6,672.5 119.6,671.9 122.6,671.2 124.1,670.5 125.6,669.3 127.1,667.4 128.6,664.7 130.6,659.5 136.1,640.5 137.1,637.9 138.1,636.1 138.6,635.6 139.1,635.3 139.6,635.3 140.1,635.7 140.6,636.2 141.6,638.1 143.1,642.4 148.1,659.8 149.6,663.8 151.1,666.8 152.6,668.9 154.1,670.2 156.1,671.2 221.1,672.5Z" fill="#4682b4" fill-opacity="0.4" stroke="none" stroke-width="0.8"/>
<path d="M110.6,672.2 120.6,671.7 123.1,671 124.6,670.1 126.1,668.7 127.6,666.6 129.1,663.6 131.1,658 136.1,640.5 137.1,637.9 138.1,636.1 138.6,635.6 139.1,635.3 139.6,635.3 140.1,635.7 140.6,636.2 141.6,638.1 143.1,642.4 148.1,659.8 149.6,663.8 151.1,666.8 152.6,668.9 154.1,670.2 156.1,671.2 167.6,672.2" fill="none" stroke="#4682b4" stroke-width="0.7" stroke-opacity="0.75"/>
<path d="M16.6,672.5 137.1,671.6 140.1,670.9 141.6,670.2 143.1,669.1 144.1,667.9 145.1,666.3 146.1,664.2 147.6,659.7 149.1,653.5 151.1,642.5 156.1,608.9 157.1,603.9 158.1,600.4 158.6,599.4 159.1,598.8 159.6,598.7 160.1,599.2 160.6,600.2 161.1,601.6 162.1,605.7 168.6,647.8 170.1,655.4 171.6,661.1 173.1,665.1 174.1,667 175.1,668.4 176.6,669.9 178.6,670.9 221.1,672.4 221.1,672.5Z" fill="#4682b4" fill-opacity="0.4" stroke="none" stroke-width="0.8"/>
<path d="M117.1,672.2 138.1,671.4 140.6,670.7 142.1,669.9 143.6,668.5 144.6,667.2 145.6,665.3 146.6,662.9 148.1,657.9 149.6,651.1 156.1,608.9 157.1,603.9 158.1,600.4 158.6,599.4 159.1,598.8 159.6,598.7 160.1,599.2 160.6,600.2 161.1,601.6 162.1,605.7 168.6,647.8 170.1,655.4 171.6,661.1 173.1,665.1 174.1,667 175.1,668.4 176.6,669.9 178.6,670.9 201.6,672.2" fill="none" stroke="#4682b4" stroke-width="0.7" stroke-opacity="0.75"/>
<path d="M16.6,672.5 147.6,672.1 152.1,671 160.6,666.7 162.6,666.2 164.6,666.4 174.6,671.2 221.1,672.5Z" fill="#d2691e" fill-opacity="0.4" stroke="none" stroke-width="0.8"/>
<path d="M146.1,672.2 151.1,671.4 161.1,666.5 163.1,666.2 165.1,666.5 174.6,671.2 180.6,672.2" fill="none" stroke="#d2691e" stroke-width="0.7" stroke-opacity="0.75"/>
<path d="M16.6,672.5 164.1,672 167.6,671.3 170.1,670.1 173.1,667.8 179.6,661 181.1,660 182.1,659.6 183.1,659.5 184.1,659.7 185.6,660.5 193.6,668.6 196.6,670.6 200.1,671.8 221.1,672.4 221.1,672.5Z" fill="#d2691e" fill-opacity="0.4" stroke="none" stroke-width="0.8"/>
<path d="M161.1,672.2 166.6,671.6 169.6,670.4 172.1,668.7 179.6,661 181.1,660 182.1,659.6 183.1,659.5 184.1,659.7 185.6,660.5 193.6,668.6 196.6,670.6 200.1,671.8 204.6,672.2" fill="none" stroke="#d2691e" stroke-width="0.7" stroke-opacity="0.75"/>
<path d="M16.6,672.5 98.6,672.1 105.1,670.4 110.6,668.4 113.1,668.1 116.1,668.6 124.6,671.6 221.1,672.5Z" fill="#6b8e23" fill-opacity="0.4" stroke="none" stroke-width="0.8"/>
<path d="M97.1,672.2 103.1,671.1 110.6,668.4 113.1,668.1 116.1,668.6 124.6,671.6 128.6,672.2" fill="none" stroke="#6b8e23" stroke-width="0.7" stroke-opacity="0.75"/>
<path d="M16.6,672.5 116.1,672.1 120.1,671.2 124.6,668.9 129.6,665.8 131.1,665.2 132.6,665.1 134.1,665.4 143.1,670.7 147.6,672 221.1,672.5Z" fill="#6b8e23" fill-opacity="0.4" stroke="none" stroke-width="0.8"/>
<path d="M114.6,672.2 119.6,671.4 123.6,669.6 129.6,665.8 131.1,665.2 132.6,665.1 134.1,665.4 143.1,670.7 147.6,672 150.1,672.2" fill="none" stroke="#6b8e23" stroke-width="0.7" stroke-opacity="0.75"/>
<line x1="16.60" y1="672.20" x2="221.10" y2="672.20" stroke="#8c9a50" stroke-width="0.9" stroke-opacity="0.7"/>
<g fill="#999"><circle cx="17.6" cy="672.0" r="0.55"/><circle cx="20.2" cy="671.8" r="0.55"/><circle cx="22.8" cy="671.6" r="0.55"/><circle cx="25.4" cy="670.3" r="0.55"/><circle cx="28.0" cy="671.9" r="0.55"/><circle cx="30.6" cy="670.4" r="0.55"/><circle cx="33.2" cy="672.2" r="0.55"/><circle cx="35.8" cy="672.0" r="0.55"/><circle cx="38.4" cy="672.1" r="0.55"/><circle cx="41.0" cy="672.1" r="0.55"/><circle cx="43.6" cy="671.8" r="0.55"/><circle cx="46.2" cy="671.3" r="0.55"/><circle cx="48.8" cy="671.4" r="0.55"/><circle cx="51.4" cy="672.5" r="0.55"/><circle cx="54.0" cy="671.3" r="0.55"/><circle cx="56.6" cy="671.5" r="0.55"/><circle cx="59.2" cy="671.2" r="0.55"/><circle cx="61.8" cy="671.3" r="0.55"/><circle cx="64.4" cy="671.4" r="0.55"/><circle cx="67.0" cy="671.7" r="0.55"/><circle cx="69.6" cy="671.4" r="0.55"/><circle cx="72.2" cy="671.3" r="0.55"/><circle cx="74.8" cy="671.2" r="0.55"/><circle cx="77.4" cy="671.6" r="0.55"/><circle cx="80.0" cy="670.7" r="0.55"/><circle cx="82.6" cy="671.5" r="0.55"/><circle cx="85.2" cy="672.3" r="0.55"/><circle cx="87.8" cy="671.0" r="0.55"/><circle cx="90.4" cy="671.4" r="0.55"/><circle cx="93.0" cy="673.0" r="0.55"/><circle cx="95.6" cy="670.6" r="0.55"/><circle cx="98.2" cy="670.0" r="0.55"/><circle cx="100.8" cy="670.3" r="0.55"/><circle cx="103.4" cy="670.9" r="0.55"/><circle cx="106.0" cy="670.0" r="0.55"/><circle cx="108.6" cy="667.0" r="0.55"/><circle cx="111.2" cy="667.2" r="0.55"/><circle cx="113.8" cy="666.6" r="0.55"/><circle cx="116.4" cy="666.4" r="0.55"/><circle cx="119.0" cy="665.9" r="0.55"/><circle cx="121.6" cy="667.3" r="0.55"/><circle cx="124.2" cy="664.4" r="0.55"/><circle cx="126.8" cy="661.2" r="0.55"/><circle cx="129.4" cy="654.7" r="0.55"/><circle cx="132.0" cy="647.2" r="0.55"/><circle cx="134.6" cy="637.8" r="0.55"/><circle cx="137.2" cy="629.9" r="0.55"/><circle cx="139.8" cy="629.1" r="0.55"/><circle cx="142.4" cy="633.6" r="0.55"/><circle cx="145.0" cy="637.4" r="0.55"/><circle cx="147.6" cy="639.4" r="0.55"/><circle cx="150.2" cy="634.4" r="0.55"/><circle cx="152.8" cy="620.9" r="0.55"/><circle cx="155.4" cy="605.2" r="0.55"/><circle cx="158.0" cy="592.9" r="0.55"/><circle cx="160.6" cy="593.2" r="0.55"/><circle cx="163.2" cy="603.8" r="0.55"/><circle cx="165.8" cy="622.7" r="0.55"/><circle cx="168.4" cy="639.7" r="0.55"/><circle cx="171.0" cy="652.3" r="0.55"/><circle cx="173.6" cy="658.2" r="0.55"/><circle cx="176.2" cy="660.2" r="0.55"/><circle cx="178.8" cy="658.7" r="0.55"/><circle cx="181.4" cy="657.1" r="0.55"/><circle cx="184.0" cy="658.6" r="0.55"/><circle cx="186.6" cy="660.4" r="0.55"/><circle cx="189.2" cy="664.0" r="0.55"/><circle cx="191.8" cy="665.5" r="0.55"/><circle cx="194.4" cy="667.6" r="0.55"/><circle cx="197.0" cy="668.7" r="0.55"/><circle cx="199.6" cy="668.2" r="0.55"/><circle cx="202.2" cy="670.1" r="0.55"/><circle cx="204.8" cy="671.4" r="0.55"/><circle cx="207.4" cy="670.7" r="0.55"/><circle cx="210.0" cy="669.8" r="0.55"/><circle cx="212.6" cy="671.7" r="0.55"/><circle cx="215.2" cy="671.0" r="0.55"/><circle cx="217.8" cy="671.2" r="0.55"/></g>
<path d="M94.6,672.1 101.6,671.2 111.1,667.7 114.1,667.4 119.6,667.9 121.1,667.7 122.6,667 124.1,665.8 125.6,663.9 127.1,661.2 129.1,656.3 135.1,636.3 136.6,632.5 137.6,630.8 138.1,630.2 138.6,629.9 139.1,629.8 139.6,629.9 140.1,630.2 141.1,631.4 145.1,639.2 145.6,639.8 146.1,640.4 146.6,640.6 147.1,640.7 147.6,640.5 148.1,640 148.6,639.2 149.6,637 150.6,633.6 152.1,626.6 156.1,602.7 157.1,597.9 158.1,594.5 158.6,593.4 159.1,592.8 159.6,592.6 160.1,593 160.6,593.8 161.1,595.1 162.1,599 163.6,607.5 168.1,638.6 169.6,646.9 171.1,653.2 172.1,656.2 173.1,658.3 174.1,659.6 175.1,660.3 176.1,660.5 177.1,660.4 181.1,658.6 182.6,658.4 183.6,658.6 185.1,659.3 188.1,662.2 193.1,667.7 196.1,669.9 199.6,671.3 207.6,672.1" fill="none" stroke="#3a3a3a" stroke-width="0.68"/>
<rect x="16.60" y="328.80" width="204.80" height="348.40" fill="none" stroke="#333" stroke-width="1.0"/>
<line x1="16.60" y1="414.40" x2="221.40" y2="414.40" stroke="#222" stroke-width="1.2"/>
<line x1="16.60" y1="499.60" x2="221.40" y2="499.60" stroke="#888" stroke-width="1.3"/>
<line x1="16.60" y1="588.40" x2="221.40" y2="588.40" stroke="#222" stroke-width="1.3"/>
<line x1="16.60" y1="677.20" x2="16.60" y2="679.70" stroke="#333" stroke-width="0.9"/>
<text x="16.60" y="690.70" font-size="10.2" text-anchor="middle" textLength="19.47" lengthAdjust="spacingAndGlyphs">170</text>
<line x1="50.73" y1="677.20" x2="50.73" y2="679.70" stroke="#333" stroke-width="0.9"/>
<text x="50.73" y="690.70" font-size="10.2" text-anchor="middle" textLength="19.47" lengthAdjust="spacingAndGlyphs">168</text>
<line x1="84.87" y1="677.20" x2="84.87" y2="679.70" stroke="#333" stroke-width="0.9"/>
<text x="84.87" y="690.70" font-size="10.2" text-anchor="middle" textLength="19.47" lengthAdjust="spacingAndGlyphs">166</text>
<line x1="119.00" y1="677.20" x2="119.00" y2="679.70" stroke="#333" stroke-width="0.9"/>
<text x="119.00" y="690.70" font-size="10.2" text-anchor="middle" textLength="19.47" lengthAdjust="spacingAndGlyphs">164</text>
<line x1="153.13" y1="677.20" x2="153.13" y2="679.70" stroke="#333" stroke-width="0.9"/>
<text x="153.13" y="690.70" font-size="10.2" text-anchor="middle" textLength="19.47" lengthAdjust="spacingAndGlyphs">162</text>
<line x1="187.27" y1="677.20" x2="187.27" y2="679.70" stroke="#333" stroke-width="0.9"/>
<text x="187.27" y="690.70" font-size="10.2" text-anchor="middle" textLength="19.47" lengthAdjust="spacingAndGlyphs">160</text>
<line x1="221.40" y1="677.20" x2="221.40" y2="679.70" stroke="#333" stroke-width="0.9"/>
<text x="221.40" y="690.70" font-size="10.2" text-anchor="middle" textLength="19.47" lengthAdjust="spacingAndGlyphs">158</text>
<text x="119.00" y="704.20" font-size="10.6" text-anchor="middle" textLength="107.00" lengthAdjust="spacingAndGlyphs">Binding energy (eV)</text>
<text x="11.00" y="494.80" font-size="11.0" text-anchor="middle" textLength="80.67" lengthAdjust="spacingAndGlyphs" transform="rotate(-90 11.00 494.80)">Intensity (a.u.)</text>
<text x="-0.20" y="338.00" font-size="17.3" textLength="8.60" lengthAdjust="spacingAndGlyphs">c</text>
<text x="105.20" y="320.50" font-size="14.04" stroke="#000" stroke-width="0.18" textLength="7.17" lengthAdjust="spacingAndGlyphs">S</text>
<text x="115.89" y="320.50" font-size="14.04" font-style="italic" stroke="#000" stroke-width="0.18" textLength="15.93" lengthAdjust="spacingAndGlyphs">2p</text>
<text x="25.30" y="352.00" font-size="9.8" font-weight="bold" stroke="#000" stroke-width="0.25" textLength="64.26" lengthAdjust="spacingAndGlyphs">LPSC 1D air</text>
<text x="25.30" y="433.80" font-size="9.8" font-weight="bold" stroke="#000" stroke-width="0.25" textLength="64.26" lengthAdjust="spacingAndGlyphs">LPSC 3D air</text>
<text x="25.30" y="518.20" font-size="9.8" font-weight="bold" stroke="#000" stroke-width="0.25" textLength="105.41" lengthAdjust="spacingAndGlyphs">UDSH@LPSC 1D air</text>
<text x="25.30" y="608.80" font-size="9.8" font-weight="bold" stroke="#000" stroke-width="0.25" textLength="105.41" lengthAdjust="spacingAndGlyphs">UDSH@LPSC 3D air</text>
<text x="128.10" y="351.80" font-size="10.26" stroke="#000" stroke-width="0.18" textLength="11.13" lengthAdjust="spacingAndGlyphs">PS</text>
<text x="139.73" y="354.08" font-size="6.77" stroke="#000" stroke-width="0.18" textLength="3.81" lengthAdjust="spacingAndGlyphs">4</text>
<text x="143.94" y="347.70" font-size="6.77" stroke="#000" stroke-width="0.18" textLength="6.12" lengthAdjust="spacingAndGlyphs">3-</text>
<text x="128.10" y="435.60" font-size="10.26" stroke="#000" stroke-width="0.18" textLength="11.13" lengthAdjust="spacingAndGlyphs">PS</text>
<text x="139.73" y="437.88" font-size="6.77" stroke="#000" stroke-width="0.18" textLength="3.81" lengthAdjust="spacingAndGlyphs">4</text>
<text x="143.94" y="431.50" font-size="6.77" stroke="#000" stroke-width="0.18" textLength="6.12" lengthAdjust="spacingAndGlyphs">3-</text>
<text x="128.10" y="531.10" font-size="10.26" stroke="#000" stroke-width="0.18" textLength="11.13" lengthAdjust="spacingAndGlyphs">PS</text>
<text x="139.73" y="533.38" font-size="6.77" stroke="#000" stroke-width="0.18" textLength="3.81" lengthAdjust="spacingAndGlyphs">4</text>
<text x="143.94" y="527.00" font-size="6.77" stroke="#000" stroke-width="0.18" textLength="6.12" lengthAdjust="spacingAndGlyphs">3-</text>
<text x="128.10" y="618.20" font-size="10.26" stroke="#000" stroke-width="0.18" textLength="11.13" lengthAdjust="spacingAndGlyphs">PS</text>
<text x="139.73" y="620.48" font-size="6.77" stroke="#000" stroke-width="0.18" textLength="3.81" lengthAdjust="spacingAndGlyphs">4</text>
<text x="143.94" y="614.10" font-size="6.77" stroke="#000" stroke-width="0.18" textLength="6.12" lengthAdjust="spacingAndGlyphs">3-</text>
<text x="182.60" y="393.70" font-size="10.8" stroke="#000" stroke-width="0.18" textLength="16.99" lengthAdjust="spacingAndGlyphs">Li-S</text>
<text x="184.40" y="475.10" font-size="10.8" stroke="#000" stroke-width="0.18" textLength="16.99" lengthAdjust="spacingAndGlyphs">Li-S</text>
<text x="173.10" y="558.20" font-size="11.16" stroke="#000" stroke-width="0.18" textLength="40.89" lengthAdjust="spacingAndGlyphs">S-H+Li-S</text>
<text x="172.10" y="640.00" font-size="11.16" stroke="#000" stroke-width="0.18" textLength="40.89" lengthAdjust="spacingAndGlyphs">S-H+Li-S</text>
<text x="105.50" y="572.80" font-size="11.16" stroke="#000" stroke-width="0.18" textLength="15.14" lengthAdjust="spacingAndGlyphs">S-S</text>
<text x="105.50" y="652.40" font-size="11.16" stroke="#000" stroke-width="0.18" textLength="15.14" lengthAdjust="spacingAndGlyphs">S-S</text>
<text x="55.00" y="405.80" font-size="11.43" stroke="#000" stroke-width="0.18" textLength="14.24" lengthAdjust="spacingAndGlyphs">SO</text>
<text x="69.24" y="408.50" font-size="6.84" stroke="#000" stroke-width="0.18" textLength="3.29" lengthAdjust="spacingAndGlyphs">x</text>
<text x="72.94" y="401.50" font-size="7.02" stroke="#000" stroke-width="0.18" textLength="6.34" lengthAdjust="spacingAndGlyphs">2-</text>
<text x="55.00" y="477.10" font-size="11.43" stroke="#000" stroke-width="0.18" textLength="14.24" lengthAdjust="spacingAndGlyphs">SO</text>
<text x="69.24" y="479.80" font-size="6.84" stroke="#000" stroke-width="0.18" textLength="3.29" lengthAdjust="spacingAndGlyphs">x</text>
<text x="72.94" y="472.80" font-size="7.02" stroke="#000" stroke-width="0.18" textLength="6.34" lengthAdjust="spacingAndGlyphs">2-</text>
<path d="M240.8,411.9 240.8,411.8 306.3,411 312.3,409.6 316.3,407.7 319.8,405 324.3,399.9 335.8,382.4 338.3,379.6 339.8,378.5 341.3,377.8 342.8,377.6 344.3,377.9 345.8,378.7 347.8,380.5 361.8,401.1 365.8,405.4 369.8,408.2 374.8,410.2 445.8,411.8 445.8,411.9Z" fill="#4682b4" fill-opacity="0.4" stroke="none" stroke-width="0.8"/>
<path d="M289.8,411.6 307.8,410.7 313.3,409.2 317.3,407 320.8,404 325.8,397.8 335.8,382.4 338.3,379.6 339.8,378.5 341.3,377.8 342.8,377.6 344.3,377.9 345.8,378.7 347.8,380.5 361.8,401.1 365.8,405.4 369.8,408.2 374.8,410.2 395.3,411.6" fill="none" stroke="#4682b4" stroke-width="0.7" stroke-opacity="0.75"/>
<path d="M240.8,411.9 240.8,411.8 335.3,410.7 340.8,409.4 344.3,407.7 347.3,405.2 349.8,402.3 352.8,397.3 356.3,389.5 368.3,352.7 370.3,347.9 371.8,345.2 372.8,343.8 373.8,342.9 374.8,342.5 375.8,342.5 376.8,342.9 377.8,343.8 379.3,346 381.3,350.2 393.8,388.2 397.3,396.4 400.3,401.6 403.3,405.2 406.3,407.7 410.3,409.6 445.8,411.6 445.8,411.9Z" fill="#4682b4" fill-opacity="0.4" stroke="none" stroke-width="0.8"/>
<path d="M299.3,411.6 335.8,410.6 340.8,409.4 344.3,407.7 347.3,405.2 349.8,402.3 352.8,397.3 356.3,389.5 368.3,352.7 370.3,347.9 371.8,345.2 372.8,343.8 373.8,342.9 374.8,342.5 375.8,342.5 376.8,342.9 377.8,343.8 379.3,346 381.3,350.2 393.8,388.2 397.3,396.4 400.3,401.6 403.3,405.2 406.3,407.7 410.3,409.6 445.8,411.6" fill="none" stroke="#4682b4" stroke-width="0.7" stroke-opacity="0.75"/>
<path d="M240.8,411.9 285.8,410.9 293.3,409 311.3,398.5 314.3,397.5 316.8,397.3 319.8,397.9 337.8,408.4 346.3,410.9 445.8,411.9Z" fill="#d2691e" fill-opacity="0.4" stroke="none" stroke-width="0.8"/>
<path d="M276.3,411.6 288.8,410.4 295.8,408 310.8,398.7 314.3,397.5 316.8,397.3 319.8,397.9 337.8,408.4 346.3,410.9 356.3,411.6" fill="none" stroke="#d2691e" stroke-width="0.7" stroke-opacity="0.75"/>
<path d="M240.8,411.9 314.3,411 320.3,409.6 324.8,407.4 328.8,404.2 343.3,385.9 345.8,383.7 347.8,382.6 349.3,382.3 350.8,382.4 352.3,383 354.3,384.4 358.3,388.8 368.3,402 372.8,406.3 377.3,408.9 384.3,410.9 445.8,411.8 445.8,411.9Z" fill="#d2691e" fill-opacity="0.4" stroke="none" stroke-width="0.8"/>
<path d="M300.3,411.6 316.3,410.6 321.8,409 325.8,406.7 330.3,402.7 343.3,385.9 345.8,383.7 347.8,382.6 349.3,382.3 350.8,382.4 352.3,383 354.3,384.4 358.3,388.8 368.3,402 372.8,406.3 377.3,408.9 384.3,410.9 398.8,411.6" fill="none" stroke="#d2691e" stroke-width="0.7" stroke-opacity="0.75"/>
<line x1="240.80" y1="411.60" x2="445.80" y2="411.60" stroke="#d2691e" stroke-width="0.9" stroke-opacity="0.75"/>
<g fill="#999"><circle cx="241.8" cy="411.8" r="0.55"/><circle cx="244.4" cy="411.3" r="0.55"/><circle cx="247.0" cy="410.2" r="0.55"/><circle cx="249.6" cy="410.7" r="0.55"/><circle cx="252.2" cy="410.6" r="0.55"/><circle cx="254.8" cy="412.2" r="0.55"/><circle cx="257.4" cy="410.2" r="0.55"/><circle cx="260.0" cy="411.5" r="0.55"/><circle cx="262.6" cy="410.8" r="0.55"/><circle cx="265.2" cy="411.3" r="0.55"/><circle cx="267.8" cy="410.6" r="0.55"/><circle cx="270.4" cy="410.8" r="0.55"/><circle cx="273.0" cy="410.8" r="0.55"/><circle cx="275.6" cy="410.5" r="0.55"/><circle cx="278.2" cy="410.7" r="0.55"/><circle cx="280.8" cy="410.4" r="0.55"/><circle cx="283.4" cy="410.7" r="0.55"/><circle cx="286.0" cy="410.6" r="0.55"/><circle cx="288.6" cy="409.0" r="0.55"/><circle cx="291.2" cy="408.2" r="0.55"/><circle cx="293.8" cy="407.6" r="0.55"/><circle cx="296.4" cy="405.1" r="0.55"/><circle cx="299.0" cy="404.7" r="0.55"/><circle cx="301.6" cy="402.4" r="0.55"/><circle cx="304.2" cy="400.1" r="0.55"/><circle cx="306.8" cy="396.9" r="0.55"/><circle cx="309.4" cy="393.9" r="0.55"/><circle cx="312.0" cy="390.2" r="0.55"/><circle cx="314.6" cy="385.6" r="0.55"/><circle cx="317.2" cy="381.9" r="0.55"/><circle cx="319.8" cy="379.2" r="0.55"/><circle cx="322.4" cy="376.4" r="0.55"/><circle cx="325.0" cy="372.4" r="0.55"/><circle cx="327.6" cy="369.7" r="0.55"/><circle cx="330.2" cy="365.8" r="0.55"/><circle cx="332.8" cy="362.0" r="0.55"/><circle cx="335.4" cy="357.5" r="0.55"/><circle cx="338.0" cy="350.3" r="0.55"/><circle cx="340.6" cy="345.9" r="0.55"/><circle cx="343.2" cy="340.0" r="0.55"/><circle cx="345.8" cy="337.2" r="0.55"/><circle cx="348.4" cy="336.7" r="0.55"/><circle cx="351.0" cy="337.0" r="0.55"/><circle cx="353.6" cy="337.9" r="0.55"/><circle cx="356.2" cy="338.7" r="0.55"/><circle cx="358.8" cy="338.6" r="0.55"/><circle cx="361.4" cy="338.7" r="0.55"/><circle cx="364.0" cy="336.8" r="0.55"/><circle cx="366.6" cy="335.6" r="0.55"/><circle cx="369.2" cy="333.7" r="0.55"/><circle cx="371.8" cy="332.3" r="0.55"/><circle cx="374.4" cy="332.1" r="0.55"/><circle cx="377.0" cy="333.5" r="0.55"/><circle cx="379.6" cy="338.6" r="0.55"/><circle cx="382.2" cy="345.0" r="0.55"/><circle cx="384.8" cy="351.7" r="0.55"/><circle cx="387.4" cy="360.9" r="0.55"/><circle cx="390.0" cy="366.6" r="0.55"/><circle cx="392.6" cy="372.2" r="0.55"/><circle cx="395.2" cy="378.4" r="0.55"/><circle cx="397.8" cy="386.7" r="0.55"/><circle cx="400.4" cy="393.4" r="0.55"/><circle cx="403.0" cy="401.3" r="0.55"/><circle cx="405.6" cy="404.9" r="0.55"/><circle cx="408.2" cy="407.8" r="0.55"/><circle cx="410.8" cy="407.8" r="0.55"/><circle cx="413.4" cy="409.4" r="0.55"/><circle cx="416.0" cy="410.3" r="0.55"/><circle cx="418.6" cy="410.3" r="0.55"/><circle cx="421.2" cy="409.1" r="0.55"/><circle cx="423.8" cy="410.3" r="0.55"/><circle cx="426.4" cy="410.1" r="0.55"/><circle cx="429.0" cy="411.1" r="0.55"/><circle cx="431.6" cy="410.7" r="0.55"/><circle cx="434.2" cy="411.6" r="0.55"/><circle cx="436.8" cy="410.7" r="0.55"/><circle cx="439.4" cy="409.9" r="0.55"/><circle cx="442.0" cy="410.1" r="0.55"/><circle cx="444.6" cy="411.4" r="0.55"/></g>
<path d="M267.3,411.4 286.8,410.2 293.8,408.1 301.3,403.7 305.3,400.4 307.8,397.2 316.3,384.3 329.3,368.6 332.8,362.9 340.8,345.1 342.8,341.8 344.3,340 345.8,338.7 347.3,337.9 348.8,337.6 351.3,337.8 357.3,339.5 359.3,339.5 361.8,338.8 371.3,333.2 372.8,332.7 373.8,332.6 374.8,332.9 375.8,333.5 376.8,334.5 378.3,336.6 380.3,340.6 396.3,383.4 401.3,397.9 403.8,403.5 405.3,406 406.3,407.1 408.3,408.4 414.3,410.2 443.3,411.4" fill="none" stroke="#3a3a3a" stroke-width="0.68"/>
<path d="M240.8,496.2 240.8,496.1 304.3,495.3 310.3,493.9 314.3,492.1 318.3,489 323.3,483.4 333.3,469.3 335.8,466.8 337.8,465.4 339.3,465 340.8,465 342.3,465.4 344.3,466.7 347.3,469.8 358.8,485.8 363.3,490.2 367.3,492.8 373.3,494.8 445.8,496.2Z" fill="#4682b4" fill-opacity="0.4" stroke="none" stroke-width="0.8"/>
<path d="M289.3,495.9 306.3,495 311.8,493.3 315.8,491.1 319.8,487.5 333.8,468.7 336.3,466.4 337.8,465.4 339.3,465 340.8,465 342.3,465.4 344.3,466.7 347.3,469.8 358.8,485.8 363.3,490.2 367.3,492.8 373.3,494.8 390.8,495.9" fill="none" stroke="#4682b4" stroke-width="0.7" stroke-opacity="0.75"/>
<path d="M240.8,496.2 240.8,496.1 333.3,495.1 338.8,493.9 342.3,492.2 345.3,489.9 347.8,487.1 350.8,482.5 354.3,475.2 366.3,441.6 368.3,437.3 369.8,434.9 370.8,433.7 371.8,433 372.8,432.6 373.8,432.7 374.8,433.2 375.8,434.1 377.3,436.2 379.3,440.2 391.8,475 395.3,482.3 398.3,487 401.3,490.3 404.3,492.5 408.8,494.3 445.8,495.9 445.8,496.2Z" fill="#4682b4" fill-opacity="0.4" stroke="none" stroke-width="0.8"/>
<path d="M300.3,495.9 334.3,494.9 339.3,493.7 342.8,491.9 345.8,489.4 348.3,486.5 351.3,481.6 355.3,472.8 365.8,442.8 368.3,437.3 369.8,434.9 370.8,433.7 371.8,433 372.8,432.6 373.8,432.7 374.8,433.2 375.8,434.1 377.3,436.2 379.3,440.2 391.8,475 395.3,482.3 398.3,487 401.3,490.3 404.3,492.5 408.8,494.3 445.8,495.9" fill="none" stroke="#4682b4" stroke-width="0.7" stroke-opacity="0.75"/>
<path d="M240.8,496.2 240.8,496.1 284.8,495.3 291.3,493.7 296.8,490.9 311.3,479 314.3,477.4 316.3,477 318.3,477 320.8,477.7 324.8,480.2 336.8,490.4 342.3,493.4 351.8,495.5 445.8,496.2Z" fill="#d2691e" fill-opacity="0.4" stroke="none" stroke-width="0.8"/>
<path d="M274.3,495.9 287.3,494.8 293.3,492.9 299.3,489.2 310.8,479.3 313.8,477.6 316.3,477 318.3,477 320.8,477.7 324.8,480.2 336.8,490.4 342.3,493.4 351.8,495.5 359.8,495.9" fill="none" stroke="#d2691e" stroke-width="0.7" stroke-opacity="0.75"/>
<path d="M240.8,496.2 240.8,496.1 312.8,495.2 318.8,493.8 322.8,491.8 326.3,489 330.3,484.3 342.8,463.4 345.3,460.3 346.8,459 348.3,458.2 349.3,458 350.3,458.1 351.8,458.6 353.3,459.7 355.8,462.5 368.3,483.5 372.3,488.4 375.8,491.4 379.8,493.6 389.8,495.5 445.8,496.1 445.8,496.2Z" fill="#d2691e" fill-opacity="0.4" stroke="none" stroke-width="0.8"/>
<path d="M293.8,495.9 314.3,495 319.3,493.6 323.3,491.5 326.8,488.5 330.8,483.6 342.8,463.4 345.3,460.3 346.8,459 348.3,458.2 349.3,458 350.3,458.1 351.8,458.6 353.3,459.7 355.8,462.5 368.3,483.5 372.3,488.4 375.8,491.4 379.8,493.6 389.8,495.5 405.3,495.9" fill="none" stroke="#d2691e" stroke-width="0.7" stroke-opacity="0.75"/>
<line x1="240.80" y1="495.90" x2="445.80" y2="495.90" stroke="#d2691e" stroke-width="0.9" stroke-opacity="0.75"/>
<g fill="#999"><circle cx="241.8" cy="494.9" r="0.55"/><circle cx="244.4" cy="495.3" r="0.55"/><circle cx="247.0" cy="495.4" r="0.55"/><circle cx="249.6" cy="494.5" r="0.55"/><circle cx="252.2" cy="495.5" r="0.55"/><circle cx="254.8" cy="495.2" r="0.55"/><circle cx="257.4" cy="495.5" r="0.55"/><circle cx="260.0" cy="495.1" r="0.55"/><circle cx="262.6" cy="495.6" r="0.55"/><circle cx="265.2" cy="494.3" r="0.55"/><circle cx="267.8" cy="495.9" r="0.55"/><circle cx="270.4" cy="495.5" r="0.55"/><circle cx="273.0" cy="494.4" r="0.55"/><circle cx="275.6" cy="495.1" r="0.55"/><circle cx="278.2" cy="494.8" r="0.55"/><circle cx="280.8" cy="493.3" r="0.55"/><circle cx="283.4" cy="494.4" r="0.55"/><circle cx="286.0" cy="493.3" r="0.55"/><circle cx="288.6" cy="492.9" r="0.55"/><circle cx="291.2" cy="491.8" r="0.55"/><circle cx="293.8" cy="490.8" r="0.55"/><circle cx="296.4" cy="489.5" r="0.55"/><circle cx="299.0" cy="487.4" r="0.55"/><circle cx="301.6" cy="483.4" r="0.55"/><circle cx="304.2" cy="480.6" r="0.55"/><circle cx="306.8" cy="476.1" r="0.55"/><circle cx="309.4" cy="472.3" r="0.55"/><circle cx="312.0" cy="469.1" r="0.55"/><circle cx="314.6" cy="466.2" r="0.55"/><circle cx="317.2" cy="462.5" r="0.55"/><circle cx="319.8" cy="458.2" r="0.55"/><circle cx="322.4" cy="454.3" r="0.55"/><circle cx="325.0" cy="450.0" r="0.55"/><circle cx="327.6" cy="445.9" r="0.55"/><circle cx="330.2" cy="441.1" r="0.55"/><circle cx="332.8" cy="434.8" r="0.55"/><circle cx="335.4" cy="429.3" r="0.55"/><circle cx="338.0" cy="423.9" r="0.55"/><circle cx="340.6" cy="421.3" r="0.55"/><circle cx="343.2" cy="417.4" r="0.55"/><circle cx="345.8" cy="416.5" r="0.55"/><circle cx="348.4" cy="418.0" r="0.55"/><circle cx="351.0" cy="419.8" r="0.55"/><circle cx="353.6" cy="421.1" r="0.55"/><circle cx="356.2" cy="423.5" r="0.55"/><circle cx="358.8" cy="423.8" r="0.55"/><circle cx="361.4" cy="423.8" r="0.55"/><circle cx="364.0" cy="423.4" r="0.55"/><circle cx="366.6" cy="423.6" r="0.55"/><circle cx="369.2" cy="423.4" r="0.55"/><circle cx="371.8" cy="423.5" r="0.55"/><circle cx="374.4" cy="426.5" r="0.55"/><circle cx="377.0" cy="430.3" r="0.55"/><circle cx="379.6" cy="436.9" r="0.55"/><circle cx="382.2" cy="443.8" r="0.55"/><circle cx="384.8" cy="452.8" r="0.55"/><circle cx="387.4" cy="460.6" r="0.55"/><circle cx="390.0" cy="468.6" r="0.55"/><circle cx="392.6" cy="474.8" r="0.55"/><circle cx="395.2" cy="480.2" r="0.55"/><circle cx="397.8" cy="485.0" r="0.55"/><circle cx="400.4" cy="487.9" r="0.55"/><circle cx="403.0" cy="490.4" r="0.55"/><circle cx="405.6" cy="491.6" r="0.55"/><circle cx="408.2" cy="493.3" r="0.55"/><circle cx="410.8" cy="493.1" r="0.55"/><circle cx="413.4" cy="494.4" r="0.55"/><circle cx="416.0" cy="495.0" r="0.55"/><circle cx="418.6" cy="494.2" r="0.55"/><circle cx="421.2" cy="495.6" r="0.55"/><circle cx="423.8" cy="495.8" r="0.55"/><circle cx="426.4" cy="494.9" r="0.55"/><circle cx="429.0" cy="493.9" r="0.55"/><circle cx="431.6" cy="493.8" r="0.55"/><circle cx="434.2" cy="494.7" r="0.55"/><circle cx="436.8" cy="495.9" r="0.55"/><circle cx="439.4" cy="495.2" r="0.55"/><circle cx="442.0" cy="495.4" r="0.55"/><circle cx="444.6" cy="494.8" r="0.55"/></g>
<path d="M263.8,495.7 285.3,494.6 291.8,492.8 296.3,490.3 298.8,488.3 323.3,454.1 329.8,442.2 337.3,425.7 338.8,423.2 340.3,421.5 342.3,419.9 344.3,418.9 345.8,418.6 347.3,418.7 349.3,419.3 357.3,424.7 358.8,425.3 360.3,425.5 367.3,423.8 369.3,423.8 370.8,424.2 372.3,425 373.8,426.4 375.3,428.4 377.3,432.1 380.3,439.6 390.8,471.6 394.3,479.7 397.3,485 400.3,488.8 403.3,491.4 407.3,493.4 440.8,495.7" fill="none" stroke="#3a3a3a" stroke-width="0.68"/>
<path d="M240.8,583.8 240.8,583.7 304.8,582.8 310.8,581.5 314.8,579.5 318.3,576.8 322.3,572.3 334.3,553.9 336.8,551.1 338.3,549.9 339.8,549.2 341.3,549 342.8,549.3 344.3,550.2 346.3,552 360.3,572.8 364.3,577.2 368.3,580 373.3,582 445.8,583.7 445.8,583.8Z" fill="#4682b4" fill-opacity="0.4" stroke="none" stroke-width="0.8"/>
<path d="M287.8,583.5 306.3,582.6 311.8,581.1 315.8,578.8 319.3,575.8 324.3,569.5 334.3,553.9 336.8,551.1 338.3,549.9 339.8,549.2 341.3,549 342.8,549.3 344.3,550.2 346.3,552 360.3,572.8 364.3,577.2 368.3,580 373.3,582 394.3,583.5" fill="none" stroke="#4682b4" stroke-width="0.7" stroke-opacity="0.75"/>
<path d="M240.8,583.8 240.8,583.7 332.8,582.6 338.3,581.4 341.8,579.7 344.8,577.4 347.3,574.5 350.3,569.7 353.8,562 366.3,523.7 368.3,518.9 369.8,516.3 370.8,515 371.8,514.2 372.8,513.8 373.8,513.9 374.8,514.5 375.8,515.5 377.3,517.8 379.3,522.1 391.8,560.4 395.3,568.6 398.3,573.7 401.3,577.3 404.3,579.7 408.3,581.5 445.8,583.5 445.8,583.8Z" fill="#4682b4" fill-opacity="0.4" stroke="none" stroke-width="0.8"/>
<path d="M296.8,583.5 333.8,582.5 338.8,581.2 342.3,579.4 344.8,577.4 347.3,574.5 350.3,569.7 353.8,562 366.3,523.7 368.3,518.9 369.8,516.3 370.8,515 371.8,514.2 372.8,513.8 373.8,513.9 374.8,514.5 375.8,515.5 377.3,517.8 379.3,522.1 391.8,560.4 395.3,568.6 398.3,573.7 401.3,577.3 404.3,579.7 408.3,581.5 445.8,583.5" fill="none" stroke="#4682b4" stroke-width="0.7" stroke-opacity="0.75"/>
<path d="M240.8,583.8 291.3,582.8 301.3,580.2 314.3,574.8 318.3,574.1 322.3,574.4 342.3,581.9 445.8,583.8Z" fill="#d2691e" fill-opacity="0.4" stroke="none" stroke-width="0.8"/>
<path d="M282.3,583.5 295.3,582.1 314.8,574.7 318.8,574.1 323.3,574.6 342.3,581.9 355.8,583.5" fill="none" stroke="#d2691e" stroke-width="0.7" stroke-opacity="0.75"/>
<path d="M240.8,583.8 319.3,582.9 326.3,581.3 331.3,578.9 346.8,565.6 349.3,564.2 351.3,563.5 353.3,563.4 355.3,563.9 358.3,565.4 372.3,577.7 377.8,580.8 385.8,582.9 445.8,583.8Z" fill="#d2691e" fill-opacity="0.4" stroke="none" stroke-width="0.8"/>
<path d="M309.3,583.5 322.3,582.4 328.3,580.5 333.8,577.1 346.3,566 349.3,564.2 351.3,563.5 353.3,563.4 355.3,563.9 358.3,565.4 372.3,577.7 377.8,580.8 385.8,582.9 396.3,583.5" fill="none" stroke="#d2691e" stroke-width="0.7" stroke-opacity="0.75"/>
<line x1="240.80" y1="583.50" x2="445.80" y2="583.50" stroke="#d2691e" stroke-width="0.9" stroke-opacity="0.75"/>
<g fill="#999"><circle cx="241.8" cy="583.3" r="0.55"/><circle cx="244.4" cy="583.2" r="0.55"/><circle cx="247.0" cy="582.7" r="0.55"/><circle cx="249.6" cy="583.1" r="0.55"/><circle cx="252.2" cy="582.3" r="0.55"/><circle cx="254.8" cy="581.6" r="0.55"/><circle cx="257.4" cy="583.7" r="0.55"/><circle cx="260.0" cy="583.0" r="0.55"/><circle cx="262.6" cy="581.4" r="0.55"/><circle cx="265.2" cy="582.0" r="0.55"/><circle cx="267.8" cy="582.2" r="0.55"/><circle cx="270.4" cy="582.8" r="0.55"/><circle cx="273.0" cy="583.3" r="0.55"/><circle cx="275.6" cy="582.7" r="0.55"/><circle cx="278.2" cy="582.2" r="0.55"/><circle cx="280.8" cy="582.6" r="0.55"/><circle cx="283.4" cy="582.1" r="0.55"/><circle cx="286.0" cy="582.2" r="0.55"/><circle cx="288.6" cy="581.4" r="0.55"/><circle cx="291.2" cy="580.7" r="0.55"/><circle cx="293.8" cy="581.7" r="0.55"/><circle cx="296.4" cy="580.1" r="0.55"/><circle cx="299.0" cy="579.4" r="0.55"/><circle cx="301.6" cy="577.9" r="0.55"/><circle cx="304.2" cy="576.5" r="0.55"/><circle cx="306.8" cy="575.0" r="0.55"/><circle cx="309.4" cy="573.7" r="0.55"/><circle cx="312.0" cy="572.0" r="0.55"/><circle cx="314.6" cy="569.2" r="0.55"/><circle cx="317.2" cy="566.0" r="0.55"/><circle cx="319.8" cy="565.1" r="0.55"/><circle cx="322.4" cy="560.6" r="0.55"/><circle cx="325.0" cy="556.9" r="0.55"/><circle cx="327.6" cy="551.8" r="0.55"/><circle cx="330.2" cy="547.4" r="0.55"/><circle cx="332.8" cy="543.0" r="0.55"/><circle cx="335.4" cy="536.0" r="0.55"/><circle cx="338.0" cy="531.1" r="0.55"/><circle cx="340.6" cy="526.9" r="0.55"/><circle cx="343.2" cy="524.3" r="0.55"/><circle cx="345.8" cy="521.0" r="0.55"/><circle cx="348.4" cy="518.9" r="0.55"/><circle cx="351.0" cy="517.8" r="0.55"/><circle cx="353.6" cy="518.0" r="0.55"/><circle cx="356.2" cy="515.4" r="0.55"/><circle cx="358.8" cy="513.5" r="0.55"/><circle cx="361.4" cy="512.3" r="0.55"/><circle cx="364.0" cy="508.3" r="0.55"/><circle cx="366.6" cy="505.7" r="0.55"/><circle cx="369.2" cy="504.1" r="0.55"/><circle cx="371.8" cy="505.6" r="0.55"/><circle cx="374.4" cy="508.1" r="0.55"/><circle cx="377.0" cy="511.7" r="0.55"/><circle cx="379.6" cy="518.2" r="0.55"/><circle cx="382.2" cy="527.3" r="0.55"/><circle cx="384.8" cy="537.3" r="0.55"/><circle cx="387.4" cy="545.7" r="0.55"/><circle cx="390.0" cy="553.0" r="0.55"/><circle cx="392.6" cy="561.2" r="0.55"/><circle cx="395.2" cy="567.5" r="0.55"/><circle cx="397.8" cy="571.6" r="0.55"/><circle cx="400.4" cy="575.2" r="0.55"/><circle cx="403.0" cy="577.6" r="0.55"/><circle cx="405.6" cy="579.0" r="0.55"/><circle cx="408.2" cy="580.0" r="0.55"/><circle cx="410.8" cy="580.3" r="0.55"/><circle cx="413.4" cy="580.8" r="0.55"/><circle cx="416.0" cy="580.8" r="0.55"/><circle cx="418.6" cy="582.3" r="0.55"/><circle cx="421.2" cy="582.4" r="0.55"/><circle cx="423.8" cy="582.3" r="0.55"/><circle cx="426.4" cy="582.6" r="0.55"/><circle cx="429.0" cy="582.4" r="0.55"/><circle cx="431.6" cy="581.9" r="0.55"/><circle cx="434.2" cy="582.5" r="0.55"/><circle cx="436.8" cy="582.3" r="0.55"/><circle cx="439.4" cy="582.4" r="0.55"/><circle cx="442.0" cy="581.3" r="0.55"/><circle cx="444.6" cy="582.2" r="0.55"/></g>
<path d="M272.8,583.3 292.3,582 300.3,579.6 308.3,575 316.8,567.5 323.3,559.7 331.8,545.4 340.3,528 342.3,524.8 343.8,523 345.8,521.5 354.8,517.5 358.3,515 366.3,506.9 367.8,505.9 369.3,505.4 370.3,505.3 371.3,505.4 372.3,505.9 373.3,506.8 374.8,508.7 376.8,512.5 379.8,520.4 390.8,556.9 394.3,565.9 397.3,571.7 400.3,575.8 403.3,578.6 406.8,580.6 414.8,582.5 439.3,583.3" fill="none" stroke="#3a3a3a" stroke-width="0.68"/>
<path d="M240.8,672.6 240.8,672.5 306.3,671.6 312.3,670.2 316.3,668.3 319.8,665.5 323.8,661 335.8,642.2 338.3,639.3 339.8,638.1 341.3,637.3 342.8,637.1 344.3,637.4 345.8,638.2 347.8,640 352.3,646.3 361.3,660.6 365.3,665.3 369.3,668.4 373.8,670.5 445.8,672.5 445.8,672.6Z" fill="#4682b4" fill-opacity="0.4" stroke="none" stroke-width="0.8"/>
<path d="M288.8,672.3 307.8,671.4 313.3,669.9 317.3,667.6 320.8,664.6 325.3,658.9 335.8,642.2 338.3,639.3 339.8,638.1 341.3,637.3 342.8,637.1 344.3,637.4 345.8,638.2 347.8,640 352.3,646.3 361.3,660.6 365.3,665.3 369.3,668.4 373.8,670.5 396.3,672.3" fill="none" stroke="#4682b4" stroke-width="0.7" stroke-opacity="0.75"/>
<path d="M240.8,672.6 240.8,672.5 335.3,671.4 340.8,670.2 344.3,668.5 347.3,666.1 349.8,663.2 352.8,658.4 356.3,650.6 368.8,611.9 370.8,607.2 372.3,604.5 373.3,603.2 374.3,602.4 375.3,602 376.3,602.1 377.3,602.7 378.3,603.7 379.8,606 381.8,610.4 394.3,649 397.8,657.2 400.8,662.4 403.3,665.5 406.3,668.1 409.8,670 445.8,672.3 445.8,672.6Z" fill="#4682b4" fill-opacity="0.4" stroke="none" stroke-width="0.8"/>
<path d="M298.8,672.3 336.3,671.3 341.3,670 344.8,668.2 347.3,666.1 349.8,663.2 352.8,658.4 356.3,650.6 368.8,611.9 370.8,607.2 372.3,604.5 373.3,603.2 374.3,602.4 375.3,602 376.3,602.1 377.3,602.7 378.3,603.7 379.8,606 381.8,610.4 394.3,649 397.8,657.2 400.8,662.4 403.3,665.5 406.3,668.1 409.8,670 445.8,672.3" fill="none" stroke="#4682b4" stroke-width="0.7" stroke-opacity="0.75"/>
<path d="M240.8,672.6 290.3,671.7 298.8,669.6 314.8,661.9 318.3,661.1 321.8,661.2 326.8,662.8 340.8,669.7 353.3,672.1 445.8,672.6Z" fill="#d2691e" fill-opacity="0.4" stroke="none" stroke-width="0.8"/>
<path d="M281.8,672.3 294.3,671 303.8,667.4 314.3,662.1 318.3,661.1 321.8,661.2 326.8,662.8 340.8,669.7 353.3,672.1 357.8,672.3" fill="none" stroke="#d2691e" stroke-width="0.7" stroke-opacity="0.75"/>
<path d="M240.8,672.6 319.8,671.7 326.3,670.2 331.3,667.7 337.3,662.7 346.8,652.9 349.8,650.8 351.8,649.9 353.8,649.7 355.8,650.1 358.3,651.3 373.3,665.8 378.3,669 384.8,671.3 445.8,672.6Z" fill="#d2691e" fill-opacity="0.4" stroke="none" stroke-width="0.8"/>
<path d="M308.8,672.3 322.3,671.3 327.8,669.6 332.8,666.6 347.3,652.5 349.8,650.8 351.8,649.9 353.8,649.7 355.8,650.1 358.3,651.3 373.3,665.8 378.3,669 384.8,671.3 398.8,672.3" fill="none" stroke="#d2691e" stroke-width="0.7" stroke-opacity="0.75"/>
<line x1="240.80" y1="672.30" x2="445.80" y2="672.30" stroke="#d2691e" stroke-width="0.9" stroke-opacity="0.75"/>
<g fill="#999"><circle cx="241.8" cy="671.8" r="0.55"/><circle cx="244.4" cy="671.2" r="0.55"/><circle cx="247.0" cy="671.9" r="0.55"/><circle cx="249.6" cy="671.5" r="0.55"/><circle cx="252.2" cy="670.6" r="0.55"/><circle cx="254.8" cy="672.1" r="0.55"/><circle cx="257.4" cy="671.4" r="0.55"/><circle cx="260.0" cy="671.8" r="0.55"/><circle cx="262.6" cy="672.5" r="0.55"/><circle cx="265.2" cy="671.6" r="0.55"/><circle cx="267.8" cy="670.7" r="0.55"/><circle cx="270.4" cy="670.9" r="0.55"/><circle cx="273.0" cy="671.9" r="0.55"/><circle cx="275.6" cy="670.4" r="0.55"/><circle cx="278.2" cy="671.4" r="0.55"/><circle cx="280.8" cy="671.3" r="0.55"/><circle cx="283.4" cy="670.3" r="0.55"/><circle cx="286.0" cy="670.9" r="0.55"/><circle cx="288.6" cy="670.9" r="0.55"/><circle cx="291.2" cy="669.7" r="0.55"/><circle cx="293.8" cy="669.3" r="0.55"/><circle cx="296.4" cy="669.2" r="0.55"/><circle cx="299.0" cy="667.1" r="0.55"/><circle cx="301.6" cy="666.1" r="0.55"/><circle cx="304.2" cy="665.7" r="0.55"/><circle cx="306.8" cy="663.5" r="0.55"/><circle cx="309.4" cy="660.6" r="0.55"/><circle cx="312.0" cy="659.3" r="0.55"/><circle cx="314.6" cy="658.1" r="0.55"/><circle cx="317.2" cy="653.6" r="0.55"/><circle cx="319.8" cy="652.3" r="0.55"/><circle cx="322.4" cy="649.3" r="0.55"/><circle cx="325.0" cy="645.3" r="0.55"/><circle cx="327.6" cy="641.9" r="0.55"/><circle cx="330.2" cy="636.8" r="0.55"/><circle cx="332.8" cy="633.3" r="0.55"/><circle cx="335.4" cy="628.4" r="0.55"/><circle cx="338.0" cy="622.0" r="0.55"/><circle cx="340.6" cy="617.9" r="0.55"/><circle cx="343.2" cy="614.2" r="0.55"/><circle cx="345.8" cy="610.5" r="0.55"/><circle cx="348.4" cy="608.8" r="0.55"/><circle cx="351.0" cy="606.4" r="0.55"/><circle cx="353.6" cy="606.6" r="0.55"/><circle cx="356.2" cy="605.3" r="0.55"/><circle cx="358.8" cy="604.2" r="0.55"/><circle cx="361.4" cy="602.6" r="0.55"/><circle cx="364.0" cy="600.2" r="0.55"/><circle cx="366.6" cy="596.1" r="0.55"/><circle cx="369.2" cy="594.6" r="0.55"/><circle cx="371.8" cy="593.1" r="0.55"/><circle cx="374.4" cy="592.9" r="0.55"/><circle cx="377.0" cy="596.6" r="0.55"/><circle cx="379.6" cy="600.3" r="0.55"/><circle cx="382.2" cy="607.5" r="0.55"/><circle cx="384.8" cy="616.5" r="0.55"/><circle cx="387.4" cy="624.9" r="0.55"/><circle cx="390.0" cy="635.2" r="0.55"/><circle cx="392.6" cy="642.8" r="0.55"/><circle cx="395.2" cy="650.9" r="0.55"/><circle cx="397.8" cy="655.2" r="0.55"/><circle cx="400.4" cy="659.9" r="0.55"/><circle cx="403.0" cy="664.8" r="0.55"/><circle cx="405.6" cy="665.8" r="0.55"/><circle cx="408.2" cy="668.7" r="0.55"/><circle cx="410.8" cy="668.7" r="0.55"/><circle cx="413.4" cy="670.0" r="0.55"/><circle cx="416.0" cy="671.0" r="0.55"/><circle cx="418.6" cy="670.6" r="0.55"/><circle cx="421.2" cy="670.1" r="0.55"/><circle cx="423.8" cy="670.6" r="0.55"/><circle cx="426.4" cy="671.7" r="0.55"/><circle cx="429.0" cy="671.2" r="0.55"/><circle cx="431.6" cy="671.6" r="0.55"/><circle cx="434.2" cy="671.2" r="0.55"/><circle cx="436.8" cy="671.4" r="0.55"/><circle cx="439.4" cy="671.2" r="0.55"/><circle cx="442.0" cy="670.7" r="0.55"/><circle cx="444.6" cy="671.7" r="0.55"/></g>
<path d="M272.3,672.1 291.8,670.9 299.3,668.6 307.3,663.9 319.3,653.1 325.3,645.8 342.3,616.2 345.3,612.2 348.3,609.4 350.8,607.9 357.3,605.8 360.3,604 369.3,594.8 370.8,593.8 371.8,593.4 372.8,593.3 373.8,593.5 374.8,594 375.8,594.9 377.3,596.9 379.3,600.8 382.8,610.5 393.3,645.5 396.8,654.5 399.8,660.4 402.8,664.5 405.8,667.4 409.3,669.4 417.3,671.3 442.8,672.1" fill="none" stroke="#3a3a3a" stroke-width="0.68"/>
<rect x="240.80" y="329.40" width="205.00" height="347.80" fill="none" stroke="#333" stroke-width="1.0"/>
<line x1="240.80" y1="414.40" x2="445.80" y2="414.40" stroke="#333" stroke-width="1.2"/>
<line x1="240.80" y1="500.80" x2="445.80" y2="500.80" stroke="#999" stroke-width="1.3"/>
<line x1="240.80" y1="589.10" x2="445.80" y2="589.10" stroke="#222" stroke-width="1.3"/>
<line x1="259.44" y1="677.20" x2="259.44" y2="679.70" stroke="#333" stroke-width="0.9"/>
<text x="259.44" y="691.00" font-size="10.2" text-anchor="middle" textLength="19.47" lengthAdjust="spacingAndGlyphs">135</text>
<line x1="296.71" y1="677.20" x2="296.71" y2="679.70" stroke="#333" stroke-width="0.9"/>
<text x="296.71" y="691.00" font-size="10.2" text-anchor="middle" textLength="19.47" lengthAdjust="spacingAndGlyphs">134</text>
<line x1="333.98" y1="677.20" x2="333.98" y2="679.70" stroke="#333" stroke-width="0.9"/>
<text x="333.98" y="691.00" font-size="10.2" text-anchor="middle" textLength="19.47" lengthAdjust="spacingAndGlyphs">133</text>
<line x1="371.25" y1="677.20" x2="371.25" y2="679.70" stroke="#333" stroke-width="0.9"/>
<text x="371.25" y="691.00" font-size="10.2" text-anchor="middle" textLength="19.47" lengthAdjust="spacingAndGlyphs">132</text>
<line x1="408.53" y1="677.20" x2="408.53" y2="679.70" stroke="#333" stroke-width="0.9"/>
<text x="408.53" y="691.00" font-size="10.2" text-anchor="middle" textLength="19.47" lengthAdjust="spacingAndGlyphs">131</text>
<line x1="445.80" y1="677.20" x2="445.80" y2="679.70" stroke="#333" stroke-width="0.9"/>
<text x="445.80" y="691.00" font-size="10.2" text-anchor="middle" textLength="19.47" lengthAdjust="spacingAndGlyphs">130</text>
<text x="343.30" y="704.20" font-size="10.6" text-anchor="middle" textLength="107.00" lengthAdjust="spacingAndGlyphs">Binding energy (eV)</text>
<text x="236.20" y="492.00" font-size="11.0" text-anchor="middle" textLength="80.67" lengthAdjust="spacingAndGlyphs" transform="rotate(-90 236.20 492.00)">Intensity (a.u.)</text>
<text x="227.00" y="337.90" font-size="17.3" textLength="10.00" lengthAdjust="spacingAndGlyphs">d</text>
<text x="331.60" y="320.30" font-size="14.04" stroke="#000" stroke-width="0.18" textLength="8.06" lengthAdjust="spacingAndGlyphs">P</text>
<text x="343.19" y="320.30" font-size="14.04" font-style="italic" stroke="#000" stroke-width="0.18" textLength="15.93" lengthAdjust="spacingAndGlyphs">2p</text>
<text x="252.50" y="351.60" font-size="9.45" font-weight="bold" stroke="#000" stroke-width="0.25" textLength="61.96" lengthAdjust="spacingAndGlyphs">LPSC 1D air</text>
<text x="252.50" y="434.20" font-size="9.45" font-weight="bold" stroke="#000" stroke-width="0.25" textLength="61.96" lengthAdjust="spacingAndGlyphs">LPSC 3D air</text>
<text x="244.40" y="519.50" font-size="9.45" font-weight="bold" stroke="#000" stroke-width="0.25" textLength="101.65" lengthAdjust="spacingAndGlyphs">UDSH@LPSC 1D air</text>
<text x="245.00" y="605.10" font-size="9.45" font-weight="bold" stroke="#000" stroke-width="0.25" textLength="101.65" lengthAdjust="spacingAndGlyphs">UDSH@LPSC 3D air</text>
<text x="391.70" y="360.40" font-size="9.99" stroke="#000" stroke-width="0.18" textLength="10.83" lengthAdjust="spacingAndGlyphs">PS</text>
<text x="403.03" y="362.62" font-size="6.59" stroke="#000" stroke-width="0.18" textLength="3.71" lengthAdjust="spacingAndGlyphs">4</text>
<text x="407.15" y="356.40" font-size="6.59" stroke="#000" stroke-width="0.18" textLength="5.96" lengthAdjust="spacingAndGlyphs">3-</text>
<text x="391.30" y="443.00" font-size="9.99" stroke="#000" stroke-width="0.18" textLength="10.83" lengthAdjust="spacingAndGlyphs">PS</text>
<text x="402.63" y="445.22" font-size="6.59" stroke="#000" stroke-width="0.18" textLength="3.71" lengthAdjust="spacingAndGlyphs">4</text>
<text x="406.75" y="439.00" font-size="6.59" stroke="#000" stroke-width="0.18" textLength="5.96" lengthAdjust="spacingAndGlyphs">3-</text>
<text x="391.90" y="529.50" font-size="9.99" stroke="#000" stroke-width="0.18" textLength="10.83" lengthAdjust="spacingAndGlyphs">PS</text>
<text x="403.23" y="531.72" font-size="6.59" stroke="#000" stroke-width="0.18" textLength="3.71" lengthAdjust="spacingAndGlyphs">4</text>
<text x="407.35" y="525.50" font-size="6.59" stroke="#000" stroke-width="0.18" textLength="5.96" lengthAdjust="spacingAndGlyphs">3-</text>
<text x="391.90" y="611.40" font-size="9.99" stroke="#000" stroke-width="0.18" textLength="10.83" lengthAdjust="spacingAndGlyphs">PS</text>
<text x="403.23" y="613.62" font-size="6.59" stroke="#000" stroke-width="0.18" textLength="3.71" lengthAdjust="spacingAndGlyphs">4</text>
<text x="407.35" y="607.40" font-size="6.59" stroke="#000" stroke-width="0.18" textLength="5.96" lengthAdjust="spacingAndGlyphs">3-</text>
<text x="290.50" y="378.50" font-size="11.07" stroke="#000" stroke-width="0.18" textLength="14.50" lengthAdjust="spacingAndGlyphs">PO</text>
<text x="305.00" y="380.90" font-size="7.2" stroke="#000" stroke-width="0.18" textLength="3.46" lengthAdjust="spacingAndGlyphs">x</text>
<text x="308.46" y="378.50" font-size="11.07" stroke="#000" stroke-width="0.18" textLength="5.65" lengthAdjust="spacingAndGlyphs">S</text>
<text x="314.11" y="380.90" font-size="7.2" stroke="#000" stroke-width="0.18" textLength="3.62" lengthAdjust="spacingAndGlyphs">y</text>
<text x="290.60" y="457.80" font-size="11.07" stroke="#000" stroke-width="0.18" textLength="14.50" lengthAdjust="spacingAndGlyphs">PO</text>
<text x="305.10" y="460.20" font-size="7.2" stroke="#000" stroke-width="0.18" textLength="3.46" lengthAdjust="spacingAndGlyphs">x</text>
<text x="308.56" y="457.80" font-size="11.07" stroke="#000" stroke-width="0.18" textLength="5.65" lengthAdjust="spacingAndGlyphs">S</text>
<text x="314.21" y="460.20" font-size="7.2" stroke="#000" stroke-width="0.18" textLength="3.62" lengthAdjust="spacingAndGlyphs">y</text>
<text x="290.90" y="553.10" font-size="11.07" stroke="#000" stroke-width="0.18" textLength="14.50" lengthAdjust="spacingAndGlyphs">PO</text>
<text x="305.40" y="555.50" font-size="7.2" stroke="#000" stroke-width="0.18" textLength="3.46" lengthAdjust="spacingAndGlyphs">x</text>
<text x="308.86" y="553.10" font-size="11.07" stroke="#000" stroke-width="0.18" textLength="5.65" lengthAdjust="spacingAndGlyphs">S</text>
<text x="314.51" y="555.50" font-size="7.2" stroke="#000" stroke-width="0.18" textLength="3.62" lengthAdjust="spacingAndGlyphs">y</text>
<text x="290.90" y="641.20" font-size="11.07" stroke="#000" stroke-width="0.18" textLength="14.50" lengthAdjust="spacingAndGlyphs">PO</text>
<text x="305.40" y="643.60" font-size="7.2" stroke="#000" stroke-width="0.18" textLength="3.46" lengthAdjust="spacingAndGlyphs">x</text>
<text x="308.86" y="641.20" font-size="11.07" stroke="#000" stroke-width="0.18" textLength="5.65" lengthAdjust="spacingAndGlyphs">S</text>
<text x="314.51" y="643.60" font-size="7.2" stroke="#000" stroke-width="0.18" textLength="3.62" lengthAdjust="spacingAndGlyphs">y</text>
<path d="M471.5,396.4 550,395.7 557,394.1 561.5,391.9 565.5,388.8 570.5,383.3 585.5,359.9 588.5,356.6 590.5,355 592,354.3 593.5,354 595,354.1 596.5,354.6 598.5,355.9 601.5,358.9 617.5,383.5 622,388.6 626.5,392 632,394.5 674.5,396.4Z" fill="#d8bfd8" fill-opacity="0.6" stroke="none" stroke-width="0.8"/>
<path d="M545,396.1 554.5,394.9 559.5,393 564,390.1 568.5,385.7 585.5,359.9 588.5,356.6 590.5,355 592,354.3 593.5,354 595,354.1 596.5,354.6 598.5,355.9 601.5,358.9 617.5,383.5 622,388.6 626.5,392 632,394.5 642.5,396.1" fill="none" stroke="#d8bfd8" stroke-width="0.7" stroke-opacity="0.75"/>
<path d="M471.5,396.4 545,395.9 550.5,394.6 554.5,392.6 558,389.9 563,384 571.5,371.9 574,369.2 576,367.8 577.5,367.2 579,367.1 580.5,367.5 582,368.3 584.5,370.5 597,387.6 601,391.4 605,393.9 611,395.7 674.5,396.4Z" fill="#8fbc8f" fill-opacity="0.5" stroke="none" stroke-width="0.8"/>
<path d="M542,396.1 549,395.1 553,393.5 556.5,391.2 560.5,387.2 572,371.3 574.5,368.8 576,367.8 577.5,367.2 579,367.1 580.5,367.5 582,368.3 584.5,370.5 597,387.6 601,391.4 605,393.9 611,395.7 615,396.1" fill="none" stroke="#8fbc8f" stroke-width="0.7" stroke-opacity="0.75"/>
<path d="M471.5,396.4 540.5,396 546,394.8 554.5,391.1 557,390.7 559.5,390.9 571,395.4 674.5,396.4Z" fill="#bdb76b" fill-opacity="0.45" stroke="none" stroke-width="0.8"/>
<path d="M539.5,396.1 545.5,394.9 554.5,391.1 557,390.7 559.5,390.9 571,395.4 575,396.1" fill="none" stroke="#bdb76b" stroke-width="0.7" stroke-opacity="0.75"/>
<line x1="471.50" y1="396.10" x2="674.50" y2="396.10" stroke="#bdb76b" stroke-width="0.9" stroke-opacity="0.7"/>
<path d="M471.5,396.4 538.5,396 541.5,395.3 545,393.4 549,390 555,383 564,367.7 577,339.4 579,336.1 580.5,334.4 581.5,333.6 582.5,333.1 583.5,333 584.5,333.1 586,333.8 596,341.9 598,344.2 600,347.3 609,367.7 613,374.6 617,379.5 626,388.3 632.5,392.5 638.5,394.8 674.5,396.4" fill="none" stroke="#b4b4b4" stroke-width="0.6"/>
<path d="M471.5,396.3 472,396.5 473,396.6 473.5,396.3 475.5,396.1 476,396.1 476.5,396.4 477,396.5 477.5,396.4 478.5,396.5 479,396.3 483,396.3 484,396.7 484.5,396.7 486.5,396.4 487.5,396.6 488.5,396.2 489,396.2 490,396.5 491,396.3 492.5,396.2 494.5,396.7 496,396.3 497,396.3 498,396.4 499,396.2 500,396.7 501,396.6 502.5,396.5 503,396.4 503.5,396.4 504,396.2 504.5,396.1 505.5,396.6 506.5,396.2 507.5,396.2 508,396.5 508.5,396.5 509,396.4 510,396.5 510.5,396.3 511,396.2 511.5,396.4 512.5,396.2 514,396.5 514.5,396.6 515,396.5 515.5,396.2 516,396.1 518,396.4 518.5,396.3 519,396.2 519.5,396.4 520,396.4 521,396.2 522,396.5 522.5,396.3 523,396.2 523.5,396.2 524,396.1 526,396.5 527,396.5 528,396.1 528.5,396 529,396.4 529.5,396.6 530.5,396.2 531,396.2 531.5,396.5 533,396.3 534.5,396.3 535.5,396.2 536,396.3 536.5,396.2 537.5,396.3 538.5,396 541,395.5 542.5,394.6 544.5,393.7 547.5,391 548,390.7 549.5,388.8 550.5,388.2 553,385.5 555.5,382 556.5,380.2 557.5,378.8 562.5,370 564,367.1 571,352 574.5,343.9 576,340.7 578,336.8 578.5,336 579,335.4 579.5,335.1 580.5,334 582.5,332.5 583,332.4 584.5,332.7 587,334.2 588,335.1 589,335.8 591,337.5 592,338.3 593,339.3 593.5,339.4 594,339.7 597.5,343.2 598.5,344.8 599,345.1 600.5,347.6 604,355.7 605,358.5 606,360.6 607,363.3 609.5,368.8 611.5,372 612,373 615,377.1 618.5,380.6 619.5,381.5 620.5,382.7 621.5,383.4 624,386.2 624.5,386.5 625.5,387.5 626.5,388.1 628.5,389.9 630,390.5 632,392.3 633,392.6 634,393.2 635,393.6 635.5,393.6 636.5,393.9 637.5,394.7 638,394.8 639.5,394.7 640.5,395.2 641,395.2 642,395.1 643.5,395.9 644,396.3 644.5,396.3 645,396.2 649.5,396.3 650,396.5 651.5,396.6 652.5,396.3 654.5,396.5 655,396.7 656.5,396.3 657.5,396.6 658.5,396.2 659,396.3 660,396.4 660.5,396.6 661.5,396.2 662,396.1 663,396.5 664,396.3 665.5,396.6 666.5,396.3 667.5,396.4 668,396.5 669,396.3 670,396.3 671,396 673,396.6 674,396.6 674.5,396.7" fill="none" stroke="#939393" stroke-width="0.8"/>
<path d="M471.5,465 584.5,464.9 586,464.6 586.5,464.3 587,463.8 587.5,463.2 588,462.3 588.5,461 589,459.3 590,454.3 591,447 593.5,423.2 594,419.3 594.5,416.4 595,414.7 595.5,414.3 596,415.3 596.5,417.5 597.5,425 600,448.7 601,455.5 602,460.1 602.5,461.6 603,462.7 603.5,463.5 604,464 605,464.6 674.5,465Z" fill="#d8bfd8" fill-opacity="0.6" stroke="none" stroke-width="0.8"/>
<path d="M585.5,464.7 586.5,464.3 587,463.8 587.5,463.2 588,462.3 588.5,461 589,459.3 590,454.3 591,447 593.5,423.2 594,419.3 594.5,416.4 595,414.7 595.5,414.3 596,415.3 596.5,417.5 597.5,425 600,448.7 601,455.5 602,460.1 602.5,461.6 603,462.7 603.5,463.5 604,464 605,464.6" fill="none" stroke="#d8bfd8" stroke-width="0.7" stroke-opacity="0.75"/>
<path d="M471.5,465 548.5,464.2 558.5,461.8 579,451.4 583.5,450.3 587.5,450.4 593,452 611.5,461.6 624.5,464.5 674.5,465Z" fill="#8fbc8f" fill-opacity="0.5" stroke="none" stroke-width="0.8"/>
<path d="M542,464.7 554.5,463 565,458.8 578,451.8 582.5,450.4 586.5,450.3 591,451.2 612,461.8 626,464.6 628.5,464.7" fill="none" stroke="#8fbc8f" stroke-width="0.7" stroke-opacity="0.75"/>
<path d="M471.5,465 530,464.9 531.5,464.6 533,463.6 534.5,462.5 535,462.2 535.5,462.1 536,462.2 537,462.7 539,464.2 540.5,464.8 674.5,465Z" fill="#ff0000" fill-opacity="0.45" stroke="none" stroke-width="0.8"/>
<path d="M531,464.7 532,464.3 534.5,462.5 535,462.2 535.5,462.1 536,462.2 537,462.7 539,464.2 540,464.7" fill="none" stroke="#ff0000" stroke-width="0.7" stroke-opacity="0.75"/>
<path d="M471.5,465 620.5,462.9 674.5,465Z" fill="#800080" fill-opacity="0.45" stroke="none" stroke-width="0.8"/>
<path d="M585,464.7 615.5,462.5 639.5,464.7" fill="none" stroke="#800080" stroke-width="0.7" stroke-opacity="0.75"/>
<path d="M471.5,465 674.5,465Z" fill="#bdb76b" fill-opacity="0.45" stroke="none" stroke-width="0.8"/>
<path d="M544,464.7 563,463.6 576,464.7" fill="none" stroke="#bdb76b" stroke-width="0.7" stroke-opacity="0.75"/>
<path d="M471.5,465 530,464.9 531.5,464.5 533,463.6 534.5,462.4 535,462.1 535.5,462 536,462 537,462.5 539,464 540,464.4 547.5,463.8 554.5,461.7 586.5,446.4 587.5,445.7 588,445.1 588.5,444.4 589,443.4 589.5,442 590,440.1 591,434.7 594,408.6 594.5,405.2 595,403 595.5,402 596,402.5 596.5,404.3 597,407.2 600.5,439.3 601.5,445.6 602.5,449.7 603.5,452.2 604.5,453.8 608.5,457.6 611,459.2 635,464.4 674.5,465" fill="none" stroke="#b4b4b4" stroke-width="0.6"/>
<path d="M471.5,464.9 472,465.1 473.5,464.9 475,465.1 476,465 477,465.1 478,464.9 478.5,465.1 479,465 480,464.7 481.5,465.2 482.5,465.1 483,465.2 485,464.7 486,465 486.5,465.1 487,465 488,465.1 489.5,464.8 490,464.9 491,464.9 491.5,465.1 492,465.1 492.5,464.9 493,464.8 493.5,465.1 494,465.1 494.5,464.9 495,465 495.5,465.1 496,465.2 497,464.9 500.5,465.1 501,464.9 502,465 504.5,464.5 505.5,465 506,465 506.5,464.9 508.5,465.1 510,465 510.5,464.8 511,465 511.5,465 512.5,464.6 515,464.9 516,465.1 517,464.9 517.5,465 518,465.2 519,465.3 520,465 522,464.9 523,464.7 524,464.9 524.5,464.8 525,464.9 525.5,465.2 526,465.1 526.5,464.7 527.5,464.5 528,464.8 529.5,465.2 530.5,464.8 531.5,464.9 532.5,464 533,463.7 534,462.8 534.5,462.5 535,462.4 536,461.8 536.5,461.9 537,462.2 538.5,463.6 539,464.1 539.5,464.4 540.5,464.4 541,464.6 542,464.8 543.5,464.5 544.5,464.1 545,464.3 545.5,464.2 546,463.9 546.5,463.8 547,463.9 547.5,463.8 548.5,463.3 550,463.1 550.5,463.1 551.5,462.8 552,462.8 555.5,461.2 556.5,460.5 557,460.4 559.5,458.9 560,458.7 560.5,458.4 561,457.9 561.5,457.6 562.5,456.6 563,456.3 563.5,456.4 564.5,456 566,455 567,455 568,454.2 569,454.2 571,452.8 572.5,452.5 575,451.5 577,450.2 578,449.9 580,448.3 581.5,448.2 586,446.3 587.5,445.1 589,443.5 589.5,442.1 590.5,437.8 591.5,431.3 594,408.6 594.5,405.4 595,403.2 595.5,402.2 596,402.3 596.5,404 597.5,410.9 600,435 601.5,445.5 602,448 603,450.9 603.5,452.1 605.5,454.9 607.5,456.7 608.5,457.8 609,458.3 609.5,458.4 610.5,459.2 612,459.6 613,460.2 615,460.8 616,460.6 617,461.3 617.5,461.5 618,461.4 619.5,461.4 620.5,462 623,462.4 624,462.9 626,463 627.5,463.6 628.5,463.4 630.5,463.8 631.5,464.2 632.5,464.4 633.5,464.3 634,464 634.5,463.9 636.5,464.7 638.5,464.7 639,464.8 639.5,464.7 640,464.6 640.5,464.6 641,464.8 642.5,465.1 643,465.1 643.5,464.9 645,464.9 645.5,465.1 646,465.1 646.5,464.8 647.5,464.9 648,464.8 649.5,464.8 650.5,465.2 651,465.2 652.5,464.7 654,464.8 654.5,465 655,465 655.5,464.8 656,464.9 656.5,465 657.5,464.9 658.5,465.2 660,464.9 661.5,465.2 662.5,464.7 663,464.7 663.5,464.9 665,465 666,464.6 667.5,465.3 668,465.4 669,464.9 670,465 671.5,464.7 674.5,465.6" fill="none" stroke="#939393" stroke-width="0.8"/>
<path d="M471.5,534.4 545,533.6 553,531.8 558.5,529.2 564,525 583,502.5 586.5,499.6 589,498.3 591,497.8 593,497.8 595.5,498.5 598.5,500.3 603.5,505.2 617.5,522.5 623.5,527.8 629.5,531.2 639.5,533.7 674.5,534.4Z" fill="#d8bfd8" fill-opacity="0.6" stroke="none" stroke-width="0.8"/>
<path d="M538.5,534.1 550,532.7 556.5,530.3 562,526.7 569,519.7 582.5,503 586,499.9 588.5,498.5 591,497.8 593,497.8 595.5,498.5 598.5,500.3 603.5,505.2 617.5,522.5 623.5,527.8 629.5,531.2 639.5,533.7 645.5,534.1" fill="none" stroke="#d8bfd8" stroke-width="0.7" stroke-opacity="0.75"/>
<path d="M471.5,534.4 543.5,533.9 548.5,532.7 552,531 555,528.6 558.5,524.6 570,506.2 572,503.7 573.5,502.4 575,501.6 576,501.4 577,501.4 578.5,501.9 580,503 582,505.1 594,524.2 597.5,528.3 601,531.1 605,532.9 674.5,534.4Z" fill="#8fbc8f" fill-opacity="0.5" stroke="none" stroke-width="0.8"/>
<path d="M541,534.1 547.5,533 551,531.6 554,529.5 557.5,525.9 570,506.2 572,503.7 573.5,502.4 575,501.6 576,501.4 577,501.4 578.5,501.9 580,503 582,505.1 594,524.2 597.5,528.3 601,531.1 605,532.9 612,534.1" fill="none" stroke="#8fbc8f" stroke-width="0.7" stroke-opacity="0.75"/>
<path d="M471.5,534.4 530.5,533.8 538,532 552,525.1 555.5,524.3 558.5,524.4 563,525.9 575.5,532.1 586.5,534.1 674.5,534.4Z" fill="#bdb76b" fill-opacity="0.45" stroke="none" stroke-width="0.8"/>
<path d="M527,534.1 535.5,532.8 552.5,525 556,524.3 559.5,524.6 576.5,532.4 586.5,534.1" fill="none" stroke="#bdb76b" stroke-width="0.7" stroke-opacity="0.75"/>
<line x1="471.50" y1="534.10" x2="674.50" y2="534.10" stroke="#bdb76b" stroke-width="0.9" stroke-opacity="0.7"/>
<path d="M471.5,534.4 533,533.6 538.5,532.2 543.5,529.7 548,526.2 551.5,522.3 557.5,513 561,505.9 570.5,481.9 573.5,476.2 575.5,473.4 577,471.9 578.5,470.9 580,470.4 581.5,470.4 583,470.8 585,472.1 587.5,474.6 591.5,480.4 609.5,512.5 617,522.1 622.5,527 630,531 641,533.7 674.5,534.4" fill="none" stroke="#b4b4b4" stroke-width="0.6"/>
<path d="M471.5,534.2 472,534.1 473,534.5 474.5,534.2 475.5,534.5 477,534.3 477.5,534.3 478.5,534.7 479,534.6 479.5,534.3 480,534.2 481,534.5 483,534.3 484,534.5 484.5,534.5 485.5,534.2 486,534.3 486.5,534.6 489,534.6 490,534.4 491,534.5 492.5,534.4 493.5,534.5 494,534.4 494.5,533.9 495,533.9 496,534.3 497.5,534.5 498.5,534.6 499,534.5 500,534.6 500.5,534.6 501,534.4 501.5,534.3 502,534.4 504,534.3 504.5,534.2 506,534.7 506.5,534.7 507,534.4 508,534.3 509,534.5 510,534.8 510.5,534.4 511,534.3 511.5,534.5 512.5,534.6 513,534.7 514,534.3 514.5,534.3 515,534 515.5,534 516.5,534.4 517.5,534.3 519,534.4 520,534.3 521.5,534.3 522,534.5 522.5,534.6 524.5,534 525.5,534.2 527.5,533.9 528,533.6 530.5,533.8 531,533.7 531.5,533.8 533.5,533.3 535.5,533.4 536.5,533 538.5,532.2 539.5,531.5 540.5,531.7 541,531.6 542,530.6 543,530.6 544,529.4 545,529 546,528.1 546.5,527.8 547.5,526.7 549,525.7 549.5,525.1 551,523 553,520.9 555,517.3 556,515.8 557,514.1 557.5,513.6 558,512.7 561.5,504.9 566,493.3 567,490.3 569.5,483.7 571,480.6 571.5,479.3 572,478.3 573,476.8 574,474.9 575,473.9 576,472.4 576.5,471.9 577,471.6 578,470.7 578.5,470.5 579,470 580.5,469.9 581,469.9 581.5,469.8 582,469.9 582.5,470.3 583,470.3 583.5,470.5 584.5,471.3 585.5,471.9 588,474.7 589,476 590,477.8 591.5,479.8 597,489.8 600,495.4 601,497.4 602.5,500.3 603.5,501.9 604,503 605,504.5 608,510 609,511.3 610.5,514.1 611.5,515.3 612,516.3 616.5,521.7 618.5,523.6 619.5,524.9 620,525.3 620.5,525.6 621,525.7 621.5,526 622.5,527 624,528.1 624.5,528.3 625.5,528.9 627,529.5 628,530.1 629,530.5 629.5,530.5 630.5,531.3 631,531.4 631.5,531.3 632,531.5 633,532.3 634.5,532.4 637,533.1 637.5,533.1 639,533.5 640,533.5 640.5,533.7 641.5,533.7 642.5,534 644,533.7 644.5,533.8 645,534.1 645.5,534.3 646,534 646.5,534.1 647,534.3 648,534.3 648.5,534.4 649.5,534 650,534 651,534.5 652,534.2 654.5,534.3 655,534.1 655.5,534.1 656.5,534.5 658,534.5 658.5,534.3 659,534 660.5,534.2 661,534.4 661.5,534.5 662,534.3 662.5,534.2 663,534.3 666,534.4 666.5,534.5 667,534.7 669,534.6 670,534.3 672.5,534.2 673,534.3 673.5,534.2 674,534.2 674.5,534.4" fill="none" stroke="#939393" stroke-width="0.8"/>
<path d="M471.5,604.4 552.5,603.7 559.5,602.1 564,599.9 568.5,596.4 573.5,590.7 587.5,569.2 590.5,565.8 592.5,564.2 594.5,563.3 596,563 597.5,563.1 599.5,564 601.5,565.4 605,569.3 619.5,591.4 624.5,596.9 629,600.3 634.5,602.6 674.5,604.4Z" fill="#d8bfd8" fill-opacity="0.6" stroke="none" stroke-width="0.8"/>
<path d="M547.5,604.1 557,602.9 562,601 566.5,598.1 571,593.8 588,568.5 591,565.3 593,563.9 594.5,563.3 596,563 597.5,563.1 599.5,564 601.5,565.4 605,569.3 619.5,591.4 624.5,596.9 629,600.3 634.5,602.6 645,604.1" fill="none" stroke="#d8bfd8" stroke-width="0.7" stroke-opacity="0.75"/>
<path d="M471.5,604.4 546,603.9 550.5,602.9 553.5,601.5 556,599.7 559,596.4 563,590 571,574.3 573,571.3 574.5,569.6 575.5,568.9 576.5,568.4 577.5,568.3 578.5,568.5 579.5,569 581,570.3 583,573 593.5,593 596.5,597.2 599.5,600.3 602.5,602.2 607,603.7 674.5,604.4Z" fill="#8fbc8f" fill-opacity="0.5" stroke="none" stroke-width="0.8"/>
<path d="M544,604.1 549.5,603.3 553,601.8 556,599.7 559,596.4 563,590 571,574.3 573,571.3 574.5,569.6 575.5,568.9 576.5,568.4 577.5,568.3 578.5,568.5 579.5,569 581,570.3 583,573 593.5,593 596.5,597.2 599.5,600.3 602.5,602.2 607,603.7 610.5,604.1" fill="none" stroke="#8fbc8f" stroke-width="0.7" stroke-opacity="0.75"/>
<path d="M471.5,604.4 526,603.7 537,600.9 549.5,596 554.5,595.3 559.5,596 578,602.7 674.5,604.4Z" fill="#bdb76b" fill-opacity="0.45" stroke="none" stroke-width="0.8"/>
<path d="M520.5,604.1 532,602.5 550,595.9 554.5,595.3 559.5,596 578,602.7 588.5,604.1" fill="none" stroke="#bdb76b" stroke-width="0.7" stroke-opacity="0.75"/>
<line x1="471.50" y1="604.10" x2="674.50" y2="604.10" stroke="#bdb76b" stroke-width="0.9" stroke-opacity="0.7"/>
<path d="M471.5,604.4 526,603.7 537,601.3 540.5,599.7 550,592.4 555,586.9 558.5,581.6 562.5,573.6 570.5,552.7 573.5,546.8 576,543.2 578,541.2 579.5,540.3 581,539.9 583,540 585,540.6 587.5,542.2 598.5,553.4 605,564 612.5,577.4 622.5,590.7 627.5,595.4 634.5,599.9 643.5,603 674.5,604.4" fill="none" stroke="#b4b4b4" stroke-width="0.6"/>
<path d="M471.5,604.3 472,604.5 473.5,604.2 475,604.5 476.5,604.1 477.5,604.2 478.5,604.1 479,604.4 479.5,604.5 481,604.3 481.5,604.3 482,604.7 482.5,604.8 483.5,604.5 488,604.6 489.5,604.2 490,604.3 491,604.8 494,604.2 494.5,604.4 496.5,604.3 497,604.4 498,604.3 498.5,604.3 499,604.2 500,604.4 501,604.3 502,604.6 503.5,604.5 504.5,604.2 505,603.9 505.5,604 506,604.3 507,604.3 507.5,604.4 508,604.4 509,604.6 509.5,604.6 510.5,604.2 512,604.4 513,604.9 513.5,604.8 514,604.5 515,604.4 515.5,604.4 517.5,604.3 518,604.2 518.5,604.2 519,604.4 520,604.2 521.5,604.4 523,603.9 523.5,603.9 524,604 525.5,603.6 526,603.6 526.5,603.3 530,602.9 530.5,602.9 531,602.8 531.5,602.5 533,602.5 533.5,602.3 534,602 538,601.4 539,601 539.5,600.6 540,600 541,599.6 542.5,598.6 543.5,597.5 544.5,596.9 545.5,595.9 548,594.5 548.5,593.9 549,593.1 549.5,592.6 550,592.2 552,590.1 552.5,589.4 554.5,587.2 555.5,585.7 556,585.1 557,583.5 557.5,582.8 559.5,579.2 562.5,572.9 565.5,565.3 566.5,562 570,552.8 572,548.3 572.5,547.5 573.5,546.2 574.5,544.1 575.5,542.8 576.5,541.8 577,541.2 578,540.6 578.5,540.1 579.5,539.6 580,539.6 581,539.1 582,539.6 583,539.5 583.5,539.6 584.5,539.6 585,539.8 585.5,540.2 586,540.8 587.5,541.8 591,544.9 592,546.2 593,547.1 595.5,549.9 598.5,552.5 600,554.4 605,563.2 606,565.4 609,571.1 609.5,571.8 610.5,573.8 612.5,576.9 620.5,587.8 622,589.4 623,590.2 624,591.7 625.5,593.2 626.5,594.4 627,594.8 627.5,595 628.5,595.5 629.5,596.4 632,598.3 632.5,598.3 633,598.5 633.5,599 635,600 636,600.3 637,600.6 639.5,601.8 640,601.7 641,602 643,602.7 643.5,602.7 644.5,603.1 645,603 646,603.5 646.5,603.5 647.5,603.8 648.5,603.9 649,604 651.5,604.3 652,604.2 653,604.5 653.5,604.4 654,604.1 654.5,604.2 655,604.4 655.5,604.4 656.5,604.2 660.5,604.4 661.5,604.5 662.5,604.3 663.5,604.5 664.5,604.3 665.5,604.5 666,604.7 666.5,604.6 667,604.3 667.5,604.3 668.5,604.6 669,604.7 669.5,604.6 670,604.3 670.5,604.2 671,604.2 672,604.6 674.5,604.4" fill="none" stroke="#939393" stroke-width="0.8"/>
<path d="M471.5,673.9 567.5,673.5 571,672.8 573.5,671.6 575.5,670 577.5,667.7 579.5,664.4 582,658.9 591,631.7 592.5,628.2 593.5,626.4 594.5,625.1 595.5,624.4 596,624.3 596.5,624.3 597,624.5 598,625.2 599,626.6 600.5,629.5 610,657.9 612.5,663.7 614.5,667.1 616.5,669.6 618.5,671.3 621,672.6 674.5,673.9Z" fill="#d8bfd8" fill-opacity="0.6" stroke="none" stroke-width="0.8"/>
<path d="M566.5,673.6 570.5,672.9 573,671.9 575,670.5 577,668.4 579,665.4 581.5,660.2 591,631.7 592.5,628.2 593.5,626.4 594.5,625.1 595.5,624.4 596,624.3 596.5,624.3 597,624.5 598,625.2 599,626.6 600.5,629.5 610,657.9 612.5,663.7 614.5,667.1 616.5,669.6 618.5,671.3 621,672.6 626,673.6" fill="none" stroke="#d8bfd8" stroke-width="0.7" stroke-opacity="0.75"/>
<path d="M471.5,673.9 550.5,673.6 553.5,672.9 555.5,671.9 557,670.5 558.5,668.5 560,665.7 562,660.6 569.5,632.8 570.5,630 571.5,627.9 572,627.2 572.5,626.7 573,626.4 573.5,626.4 574,626.6 574.5,627.1 575.5,628.6 576.5,631 579,639.5 583.5,657 585.5,663.1 587,666.5 588.5,669.1 590,670.9 591.5,672.1 593.5,673.1 674.5,673.9Z" fill="#8fbc8f" fill-opacity="0.5" stroke="none" stroke-width="0.8"/>
<path d="M550.5,673.6 553.5,672.9 555.5,671.9 557,670.5 558.5,668.5 560,665.7 562,660.6 569.5,632.8 570.5,630 571.5,627.9 572,627.2 572.5,626.7 573,626.4 573.5,626.4 574,626.6 574.5,627.1 575.5,628.6 576.5,631 579,639.5 583.5,657 585.5,663.1 587,666.5 588.5,669.1 590,670.9 591.5,672.1 593.5,673.1 596,673.6" fill="none" stroke="#8fbc8f" stroke-width="0.7" stroke-opacity="0.75"/>
<path d="M471.5,673.9 537,673.6 540.5,672.8 543,671.5 545.5,669.3 552.5,660 554,658.5 555,657.9 556,657.6 557,657.7 558,658.1 559.5,659.3 567,669.2 569.5,671.4 572,672.8 674.5,673.9Z" fill="#bdb76b" fill-opacity="0.45" stroke="none" stroke-width="0.8"/>
<path d="M537,673.6 540.5,672.8 543,671.5 545.5,669.3 552.5,660 554,658.5 555,657.9 556,657.6 557,657.7 558,658.1 559.5,659.3 567,669.2 569.5,671.4 572,672.8 575.5,673.6" fill="none" stroke="#bdb76b" stroke-width="0.7" stroke-opacity="0.75"/>
<path d="M471.5,673.9 525,673.2 528,672.6 529,672.1 530,671.2 531,669.6 532,667.1 534.5,657.9 535,656.9 535.5,656.8 536,657.6 538.5,666.8 539.5,669.4 540.5,671.1 541.5,672 543,672.7 674.5,673.9Z" fill="#ff0000" fill-opacity="0.45" stroke="none" stroke-width="0.8"/>
<path d="M518,673.6 526.5,673 528.5,672.4 529.5,671.7 530.5,670.5 531.5,668.5 532.5,665.5 534.5,657.9 535,656.9 535.5,656.8 536,657.6 538.5,666.8 539.5,669.4 540.5,671.1 541.5,672 543,672.7 552.5,673.6" fill="none" stroke="#ff0000" stroke-width="0.7" stroke-opacity="0.75"/>
<path d="M471.5,673.9 566,673.7 569,673 571,672 573,670.3 579.5,661.3 580.5,660.2 581.5,659.6 582.5,659.3 583.5,659.5 584.5,660.1 586,661.7 591.5,669.5 593.5,671.5 595.5,672.7 598.5,673.6 674.5,673.9Z" fill="#808080" fill-opacity="0.5" stroke="none" stroke-width="0.8"/>
<path d="M566.5,673.6 569,673 571,672 573,670.3 579.5,661.3 580.5,660.2 581.5,659.6 582.5,659.3 583.5,659.5 584.5,660.1 586,661.7 591.5,669.5 593.5,671.5 595.5,672.7 598.5,673.6" fill="none" stroke="#808080" stroke-width="0.7" stroke-opacity="0.75"/>
<path d="M471.5,673.9 600,673.6 604,672.7 607.5,671 615,665.6 617,664.8 618.5,664.6 620,664.8 622,665.6 630.5,671.6 634.5,673.1 674.5,673.9Z" fill="#800080" fill-opacity="0.45" stroke="none" stroke-width="0.8"/>
<path d="M599.5,673.6 604,672.7 607.5,671 615,665.6 617,664.8 618.5,664.6 620,664.8 622,665.6 630.5,671.6 634.5,673.1 637.5,673.6" fill="none" stroke="#800080" stroke-width="0.7" stroke-opacity="0.75"/>
<line x1="471.50" y1="673.60" x2="674.50" y2="673.60" stroke="#e04040" stroke-width="0.9" stroke-opacity="0.6"/>
<path d="M471.5,673.9 524,673.3 527,672.6 528.5,671.8 529.5,671 530.5,669.7 531.5,667.5 532.5,664.3 534.5,656.3 535,655.2 535.5,654.9 536,655.6 538.5,663.6 539,664.8 539.5,665.6 540,666.2 540.5,666.6 541,666.8 541.5,666.8 542.5,666.4 544,665.4 546.5,662.6 559.5,642.2 561.5,638 568.5,618.8 570,615.7 571.5,613.4 573,611.8 574.5,610.8 575.5,610.5 576.5,610.5 581.5,612.2 589,616.8 590.5,617.3 594,617.5 595.5,618.1 597,619.2 598.5,621 600,623.5 610.5,649.8 612.5,653.7 614.5,656.5 628.5,669.4 632,671.5 643.5,673.7 674.5,673.9" fill="none" stroke="#b4b4b4" stroke-width="0.6"/>
<path d="M471.5,673.7 473,674 474.5,673.8 475.5,674.1 476.5,673.8 478,674 479,674 480,673.7 481.5,674 482.5,674 483,673.8 484.5,673.7 485.5,673.9 486.5,673.5 489,673.9 490.5,673.7 491.5,674 494,673.6 495,674 495.5,674 496.5,673.5 498.5,673.9 499.5,673.6 500,673.8 501,673.8 501.5,674 504.5,673.6 505,673.7 505.5,673.7 506.5,673.9 508,673.6 509,673.8 509.5,673.6 510,673.6 510.5,673.8 513.5,673.8 514,673.8 514.5,673.4 515,673.4 517,673.7 518,673.4 518.5,673.7 519,673.8 520,673.4 520.5,673.3 521,673.5 521.5,673.7 522.5,673.5 523,673.5 525,672.9 526,672.9 526.5,672.7 527,672.7 528.5,671.7 530,670.2 530.5,669.5 531.5,667.3 532,665.9 534.5,656 535,654.9 535.5,654.8 536,655.4 536.5,656.6 538,662.1 539,664.8 539.5,665.6 540,666 541,666.4 542,666 542.5,665.9 544.5,664.4 548,659.9 549.5,657.3 551,655.1 552,653.2 553,651.9 554,650.1 554.5,649.5 559,641.9 560,639.6 561,637.9 561.5,636.8 567.5,619.3 569.5,614.9 572,611.6 572.5,611.1 574,610.2 575.5,609.6 576.5,610 577.5,609.9 578.5,610.1 579,610.3 579.5,610.2 581,611.1 582.5,611.4 585.5,613.4 586.5,613.8 588,614.7 589,615.6 589.5,615.9 590.5,616 591,616.4 591.5,616.5 592,616.1 592.5,616 593,616.3 594,616.4 595,617 595.5,617.1 596.5,618.3 597.5,619.1 598.5,620.2 602.5,628.3 610,648.3 614,655.6 614.5,656.3 615,656.7 616,658 616.5,658.4 617,658.5 618.5,659.7 620,661.5 623.5,665 624.5,665.8 626.5,667.9 629,669.6 630.5,670.8 631.5,671.3 632.5,671.3 634.5,672.2 635,672.3 636,673 637,672.8 638,673.1 638.5,673.1 639.5,673.3 640.5,673.6 642,673.5 643,673.8 644,673.5 645,673.7 645.5,674.1 646,674 646.5,673.8 648,673.8 648.5,673.8 650,674 650.5,674 651.5,674.1 652,674 653,674.2 653.5,674.1 654.5,673.8 655.5,674 656.5,673.7 658.5,674.1 661,673.9 661.5,673.8 662,673.8 662.5,674 664.5,673.9 665,674.2 665.5,674.2 667,674 667.5,673.8 668.5,673.9 669.5,673.8 670.5,673.9 671.5,673.8 672,674 674,673.7 674.5,673.5" fill="none" stroke="#939393" stroke-width="0.8"/>
<line x1="471.50" y1="464.50" x2="674.50" y2="464.50" stroke="#800080" stroke-width="1.0" stroke-opacity="0.55"/>
<rect x="471.50" y="329.00" width="203.00" height="348.50" fill="none" stroke="#444" stroke-width="1.0"/>
<line x1="471.50" y1="398.20" x2="674.50" y2="398.20" stroke="#333" stroke-width="1.2"/>
<line x1="471.50" y1="465.60" x2="674.50" y2="465.60" stroke="#6e3f6e" stroke-width="1.2"/>
<line x1="471.50" y1="536.50" x2="674.50" y2="536.50" stroke="#333" stroke-width="1.2"/>
<line x1="471.50" y1="606.40" x2="674.50" y2="606.40" stroke="#333" stroke-width="1.2"/>
<line x1="471.50" y1="677.50" x2="471.50" y2="680.00" stroke="#333" stroke-width="0.9"/>
<text x="471.50" y="690.70" font-size="10.2" text-anchor="middle" textLength="22.71" lengthAdjust="spacingAndGlyphs">95.0</text>
<line x1="496.88" y1="677.50" x2="496.88" y2="680.00" stroke="#333" stroke-width="0.9"/>
<text x="496.88" y="690.70" font-size="10.2" text-anchor="middle" textLength="22.71" lengthAdjust="spacingAndGlyphs">92.5</text>
<line x1="522.25" y1="677.50" x2="522.25" y2="680.00" stroke="#333" stroke-width="0.9"/>
<text x="522.25" y="690.70" font-size="10.2" text-anchor="middle" textLength="22.71" lengthAdjust="spacingAndGlyphs">90.0</text>
<line x1="547.62" y1="677.50" x2="547.62" y2="680.00" stroke="#333" stroke-width="0.9"/>
<text x="547.62" y="690.70" font-size="10.2" text-anchor="middle" textLength="22.71" lengthAdjust="spacingAndGlyphs">87.5</text>
<line x1="573.00" y1="677.50" x2="573.00" y2="680.00" stroke="#333" stroke-width="0.9"/>
<text x="573.00" y="690.70" font-size="10.2" text-anchor="middle" textLength="22.71" lengthAdjust="spacingAndGlyphs">85.0</text>
<line x1="598.38" y1="677.50" x2="598.38" y2="680.00" stroke="#333" stroke-width="0.9"/>
<text x="598.38" y="690.70" font-size="10.2" text-anchor="middle" textLength="22.71" lengthAdjust="spacingAndGlyphs">82.5</text>
<line x1="623.75" y1="677.50" x2="623.75" y2="680.00" stroke="#333" stroke-width="0.9"/>
<text x="623.75" y="690.70" font-size="10.2" text-anchor="middle" textLength="22.71" lengthAdjust="spacingAndGlyphs">80.0</text>
<line x1="649.12" y1="677.50" x2="649.12" y2="680.00" stroke="#333" stroke-width="0.9"/>
<text x="649.12" y="690.70" font-size="10.2" text-anchor="middle" textLength="22.71" lengthAdjust="spacingAndGlyphs">77.5</text>
<line x1="674.50" y1="677.50" x2="674.50" y2="680.00" stroke="#333" stroke-width="0.9"/>
<text x="674.50" y="690.70" font-size="10.2" text-anchor="middle" textLength="22.71" lengthAdjust="spacingAndGlyphs">75.0</text>
<text x="543.60" y="703.80" font-size="10.6" font-style="italic" textLength="6.49" lengthAdjust="spacingAndGlyphs">δ</text>
<text x="550.39" y="699.20" font-size="7.4" textLength="9.42" lengthAdjust="spacingAndGlyphs">31</text>
<text x="560.10" y="703.80" font-size="10.6" textLength="41.82" lengthAdjust="spacingAndGlyphs">P (ppm)</text>
<text x="465.80" y="488.50" font-size="11.0" text-anchor="middle" textLength="80.67" lengthAdjust="spacingAndGlyphs" transform="rotate(-90 465.80 488.50)">Intensity (a.u.)</text>
<text x="453.70" y="338.00" font-size="17.3" textLength="10.00" lengthAdjust="spacingAndGlyphs">e</text>
<text x="482.20" y="345.10" font-size="9.3" font-weight="bold" stroke="#000" stroke-width="0.25" textLength="26.26" lengthAdjust="spacingAndGlyphs">LPSC</text>
<text x="482.30" y="420.80" font-size="9.3" font-weight="bold" stroke="#000" stroke-width="0.25" textLength="60.98" lengthAdjust="spacingAndGlyphs">LPSC 1D air</text>
<text x="482.30" y="482.60" font-size="9.3" font-weight="bold" stroke="#000" stroke-width="0.25" textLength="65.32" lengthAdjust="spacingAndGlyphs">UDSH@LPSC</text>
<text x="471.90" y="556.70" font-size="9.3" font-weight="bold" stroke="#000" stroke-width="0.25" textLength="100.03" lengthAdjust="spacingAndGlyphs">UDSH@LPSC 1D air</text>
<text x="471.90" y="617.30" font-size="9.3" font-weight="bold" stroke="#000" stroke-width="0.25" textLength="100.03" lengthAdjust="spacingAndGlyphs">UDSH@LPSC 3D air</text>
</svg></body></html>
